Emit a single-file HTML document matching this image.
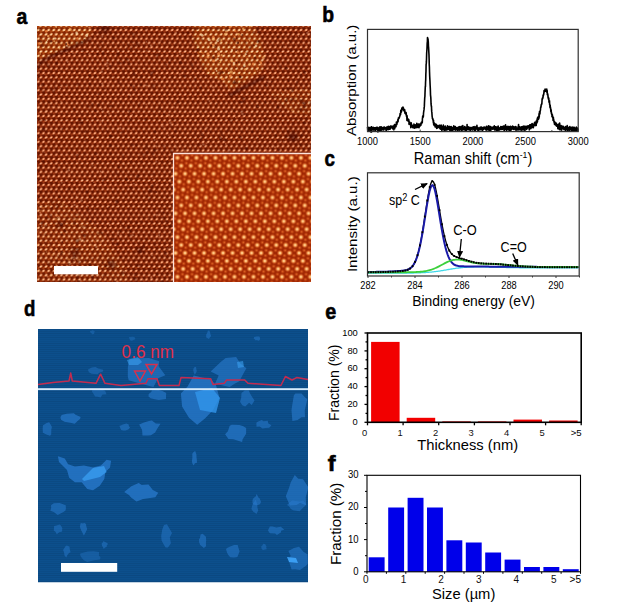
<!DOCTYPE html>
<html><head><meta charset="utf-8"><style>html,body{margin:0;padding:0;background:#fff;width:619px;height:612px;overflow:hidden}svg{display:block}text{font-family:"Liberation Sans", sans-serif}</style></head>
<body><svg width="619" height="612" viewBox="0 0 619 612" font-family='"Liberation Sans", sans-serif'><defs>
<filter id="blur4" x="-30%" y="-30%" width="160%" height="160%"><feGaussianBlur stdDeviation="4"/></filter>
<filter id="blur3" x="-30%" y="-30%" width="160%" height="160%"><feGaussianBlur stdDeviation="3"/></filter>
<filter id="blur2" x="-30%" y="-30%" width="160%" height="160%"><feGaussianBlur stdDeviation="2"/></filter>
<filter id="blur1" x="-30%" y="-30%" width="160%" height="160%"><feGaussianBlur stdDeviation="0.8"/></filter>
<filter id="blur05" x="-30%" y="-30%" width="160%" height="160%"><feGaussianBlur stdDeviation="0.5"/></filter>
<radialGradient id="glatA"><stop offset="0" stop-color="#ffe0c0"/><stop offset="0.4" stop-color="#f89868"/><stop offset="1" stop-color="#c85020" stop-opacity="0"/></radialGradient>
<pattern id="latA" patternUnits="userSpaceOnUse" x="120.7" y="124.66" width="5.15" height="8.6">
<rect width="5.15" height="8.6" fill="#641400"/>
<circle cx="2.575" cy="1.4333333333333333" r="1.3" fill="#a83810" opacity="0.8"/><circle cx="0" cy="5.733333333333333" r="1.3" fill="#a83810" opacity="0.8"/><circle cx="5.15" cy="5.733333333333333" r="1.3" fill="#a83810" opacity="0.8"/>
<ellipse cx="0.000" cy="0.000" rx="2.47" ry="1.61" transform="rotate(-35 0.000 0.000)" fill="url(#glatA)"/><ellipse cx="5.150" cy="0.000" rx="2.47" ry="1.61" transform="rotate(-35 5.150 0.000)" fill="url(#glatA)"/><ellipse cx="2.575" cy="4.300" rx="2.47" ry="1.61" transform="rotate(-35 2.575 4.300)" fill="url(#glatA)"/><ellipse cx="0.000" cy="8.600" rx="2.47" ry="1.61" transform="rotate(-35 0.000 8.600)" fill="url(#glatA)"/><ellipse cx="5.150" cy="8.600" rx="2.47" ry="1.61" transform="rotate(-35 5.150 8.600)" fill="url(#glatA)"/><ellipse cx="-2.575" cy="4.300" rx="2.47" ry="1.61" transform="rotate(-35 -2.575 4.300)" fill="url(#glatA)"/><ellipse cx="7.725" cy="4.300" rx="2.47" ry="1.61" transform="rotate(-35 7.725 4.300)" fill="url(#glatA)"/>
</pattern><radialGradient id="glatA2"><stop offset="0" stop-color="#fff8e0"/><stop offset="0.4" stop-color="#ffd090"/><stop offset="1" stop-color="#f08838" stop-opacity="0"/></radialGradient>
<pattern id="latA2" patternUnits="userSpaceOnUse" x="120.7" y="124.66" width="5.15" height="8.6">
<rect width="5.15" height="8.6" fill="#882804"/>
<circle cx="2.575" cy="1.4333333333333333" r="1.3" fill="#c05010" opacity="0.8"/><circle cx="0" cy="5.733333333333333" r="1.3" fill="#c05010" opacity="0.8"/><circle cx="5.15" cy="5.733333333333333" r="1.3" fill="#c05010" opacity="0.8"/>
<ellipse cx="0.000" cy="0.000" rx="2.47" ry="1.61" transform="rotate(-35 0.000 0.000)" fill="url(#glatA2)"/><ellipse cx="5.150" cy="0.000" rx="2.47" ry="1.61" transform="rotate(-35 5.150 0.000)" fill="url(#glatA2)"/><ellipse cx="2.575" cy="4.300" rx="2.47" ry="1.61" transform="rotate(-35 2.575 4.300)" fill="url(#glatA2)"/><ellipse cx="0.000" cy="8.600" rx="2.47" ry="1.61" transform="rotate(-35 0.000 8.600)" fill="url(#glatA2)"/><ellipse cx="5.150" cy="8.600" rx="2.47" ry="1.61" transform="rotate(-35 5.150 8.600)" fill="url(#glatA2)"/><ellipse cx="-2.575" cy="4.300" rx="2.47" ry="1.61" transform="rotate(-35 -2.575 4.300)" fill="url(#glatA2)"/><ellipse cx="7.725" cy="4.300" rx="2.47" ry="1.61" transform="rotate(-35 7.725 4.300)" fill="url(#glatA2)"/>
</pattern><radialGradient id="gB"><stop offset="0" stop-color="#ffe8b8"/><stop offset="0.35" stop-color="#ffb060"/><stop offset="1" stop-color="#e06020" stop-opacity="0"/></radialGradient>
<radialGradient id="gBm"><stop offset="0" stop-color="#e86a28"/><stop offset="1" stop-color="#c04814" stop-opacity="0"/></radialGradient>
<pattern id="latB" patternUnits="userSpaceOnUse" x="177.45" y="157.86" width="9.5" height="39.650">
<rect width="9.5" height="39.650" fill="#a02602"/><circle cx="-9.50" cy="0.00" r="3.3" fill="url(#gB)"/><circle cx="-5.06" cy="2.64" r="2.4" fill="url(#gBm)"/><circle cx="-0.64" cy="5.29" r="2.4" fill="url(#gBm)"/><circle cx="0.00" cy="0.00" r="3.3" fill="url(#gB)"/><circle cx="4.44" cy="2.64" r="2.4" fill="url(#gBm)"/><circle cx="8.86" cy="5.29" r="2.4" fill="url(#gBm)"/><circle cx="9.50" cy="0.00" r="3.3" fill="url(#gB)"/><circle cx="13.94" cy="2.64" r="2.4" fill="url(#gBm)"/><circle cx="18.36" cy="5.29" r="2.4" fill="url(#gBm)"/><circle cx="-5.70" cy="7.93" r="3.3" fill="url(#gB)"/><circle cx="-1.26" cy="10.57" r="2.4" fill="url(#gBm)"/><circle cx="3.16" cy="13.22" r="2.4" fill="url(#gBm)"/><circle cx="3.80" cy="7.93" r="3.3" fill="url(#gB)"/><circle cx="8.24" cy="10.57" r="2.4" fill="url(#gBm)"/><circle cx="12.66" cy="13.22" r="2.4" fill="url(#gBm)"/><circle cx="13.30" cy="7.93" r="3.3" fill="url(#gB)"/><circle cx="17.74" cy="10.57" r="2.4" fill="url(#gBm)"/><circle cx="22.16" cy="13.22" r="2.4" fill="url(#gBm)"/><circle cx="-1.90" cy="15.86" r="3.3" fill="url(#gB)"/><circle cx="2.54" cy="18.50" r="2.4" fill="url(#gBm)"/><circle cx="6.96" cy="21.15" r="2.4" fill="url(#gBm)"/><circle cx="7.60" cy="15.86" r="3.3" fill="url(#gB)"/><circle cx="12.04" cy="18.50" r="2.4" fill="url(#gBm)"/><circle cx="16.46" cy="21.15" r="2.4" fill="url(#gBm)"/><circle cx="17.10" cy="15.86" r="3.3" fill="url(#gB)"/><circle cx="21.54" cy="18.50" r="2.4" fill="url(#gBm)"/><circle cx="25.96" cy="21.15" r="2.4" fill="url(#gBm)"/><circle cx="-7.60" cy="23.79" r="3.3" fill="url(#gB)"/><circle cx="-3.16" cy="26.43" r="2.4" fill="url(#gBm)"/><circle cx="1.26" cy="29.08" r="2.4" fill="url(#gBm)"/><circle cx="1.90" cy="23.79" r="3.3" fill="url(#gB)"/><circle cx="6.34" cy="26.43" r="2.4" fill="url(#gBm)"/><circle cx="10.76" cy="29.08" r="2.4" fill="url(#gBm)"/><circle cx="11.40" cy="23.79" r="3.3" fill="url(#gB)"/><circle cx="15.84" cy="26.43" r="2.4" fill="url(#gBm)"/><circle cx="20.26" cy="29.08" r="2.4" fill="url(#gBm)"/><circle cx="-3.80" cy="31.72" r="3.3" fill="url(#gB)"/><circle cx="0.64" cy="34.36" r="2.4" fill="url(#gBm)"/><circle cx="5.06" cy="37.01" r="2.4" fill="url(#gBm)"/><circle cx="5.70" cy="31.72" r="3.3" fill="url(#gB)"/><circle cx="10.14" cy="34.36" r="2.4" fill="url(#gBm)"/><circle cx="14.56" cy="37.01" r="2.4" fill="url(#gBm)"/><circle cx="15.20" cy="31.72" r="3.3" fill="url(#gB)"/><circle cx="19.64" cy="34.36" r="2.4" fill="url(#gBm)"/><circle cx="24.06" cy="37.01" r="2.4" fill="url(#gBm)"/><circle cx="-9.50" cy="39.65" r="3.3" fill="url(#gB)"/><circle cx="0.00" cy="39.65" r="3.3" fill="url(#gB)"/><circle cx="9.50" cy="39.65" r="3.3" fill="url(#gB)"/>
</pattern>
<clipPath id="clipA"><rect x="37" y="26" width="274" height="256"/></clipPath>
<clipPath id="clipD"><rect x="38" y="329" width="270" height="253.5"/></clipPath>
<filter id="noise" x="0" y="0" width="100%" height="100%"><feTurbulence type="fractalNoise" baseFrequency="0.35" numOctaves="2" seed="3"/><feColorMatrix type="matrix" values="0 0 0 0 1  0 0 0 0 0.75  0 0 0 0 0.45  0 0 0 1.6 -0.9"/></filter>
<mask id="mA" maskUnits="userSpaceOnUse" x="37" y="26" width="274" height="256"><g filter="url(#blur1)" fill="#d0d0d0">
<polygon points="30.0,20.0 90.3,20.0 91.9,32.5 85.5,42.2 69.3,47.0 53.2,53.5 43.5,58.3 30.0,63.2"/>
<polygon points="192.7,20.0 249.8,20.0 260.4,38.7 264.7,57.7 262.5,70.4 245.6,81.0 230.8,89.5 222.3,81.0 207.5,74.7 201.2,64.1 196.9,51.4 192.7,38.7" />
<polygon points="268.0,92.0 320.0,88.0 320.0,118.0 290.0,112.0" opacity="0.5"/>
<polygon points="25.0,205.0 60.0,200.0 100.0,230.0 125.0,268.0 132.0,295.0 25.0,295.0" opacity="0.4"/>
</g></mask>
<marker id="arr" markerWidth="7" markerHeight="6" refX="6" refY="3" orient="auto" markerUnits="userSpaceOnUse"><path d="M0,0 L7,3 L0,6 z" fill="#000"/></marker></defs><rect width="619" height="612" fill="#fff"/><g clip-path="url(#clipA)"><rect x="37" y="26" width="274" height="256" fill="url(#latA)"/><rect x="37" y="26" width="274" height="256" fill="url(#latA2)" mask="url(#mA)"/><g mask="url(#mA)" opacity="0.7"><circle cx="125.7" cy="64.6" r="0.8" fill="#fff0c0"/><circle cx="183.8" cy="119.6" r="1.5" fill="#fff0c0"/><circle cx="95.8" cy="48.0" r="0.8" fill="#400800"/><circle cx="61.9" cy="134.7" r="0.8" fill="#ff9850"/><circle cx="98.2" cy="186.6" r="1.2" fill="#fff0c0"/><circle cx="145.7" cy="275.9" r="1.2" fill="#fff0c0"/><circle cx="73.5" cy="133.3" r="0.8" fill="#ff9850"/><circle cx="121.5" cy="234.9" r="0.8" fill="#ffc070"/><circle cx="193.5" cy="74.1" r="1.2" fill="#fff0c0"/><circle cx="54.2" cy="41.3" r="1.1" fill="#ffc070"/><circle cx="182.7" cy="225.0" r="1.2" fill="#400800"/><circle cx="161.2" cy="102.7" r="1.3" fill="#ffc070"/><circle cx="103.9" cy="173.1" r="1.1" fill="#ff9850"/><circle cx="131.1" cy="140.9" r="1.6" fill="#ff9850"/><circle cx="69.4" cy="133.0" r="0.8" fill="#501000"/><circle cx="171.0" cy="36.0" r="1.4" fill="#fff0c0"/><circle cx="194.0" cy="250.1" r="1.0" fill="#501000"/><circle cx="132.9" cy="153.1" r="0.8" fill="#400800"/><circle cx="62.6" cy="95.1" r="0.8" fill="#fff0c0"/><circle cx="229.2" cy="191.7" r="1.0" fill="#400800"/><circle cx="142.7" cy="197.2" r="1.5" fill="#fff0c0"/><circle cx="134.4" cy="182.4" r="0.8" fill="#400800"/><circle cx="247.5" cy="59.1" r="1.1" fill="#ffc070"/><circle cx="288.2" cy="153.1" r="1.1" fill="#ffc070"/><circle cx="187.5" cy="252.1" r="1.5" fill="#400800"/><circle cx="113.3" cy="132.3" r="1.3" fill="#501000"/><circle cx="141.2" cy="85.1" r="0.9" fill="#fff0c0"/><circle cx="100.6" cy="85.7" r="1.4" fill="#400800"/><circle cx="87.0" cy="98.2" r="1.1" fill="#ffc070"/><circle cx="138.2" cy="171.0" r="1.3" fill="#ffc070"/><circle cx="178.2" cy="184.1" r="1.1" fill="#fff0c0"/><circle cx="275.6" cy="269.7" r="1.1" fill="#ff9850"/><circle cx="146.3" cy="52.5" r="0.8" fill="#400800"/><circle cx="55.5" cy="79.4" r="0.8" fill="#ffc070"/><circle cx="201.6" cy="52.2" r="0.8" fill="#ff9850"/><circle cx="64.8" cy="119.1" r="0.8" fill="#fff0c0"/><circle cx="94.0" cy="122.3" r="1.6" fill="#501000"/><circle cx="202.0" cy="147.4" r="1.5" fill="#fff0c0"/><circle cx="309.1" cy="145.3" r="1.0" fill="#400800"/><circle cx="76.5" cy="217.9" r="1.1" fill="#501000"/><circle cx="226.6" cy="158.2" r="1.6" fill="#ffc070"/><circle cx="181.7" cy="63.5" r="1.5" fill="#ff9850"/><circle cx="244.7" cy="102.3" r="1.3" fill="#fff0c0"/><circle cx="108.5" cy="119.9" r="1.0" fill="#ffc070"/><circle cx="98.0" cy="164.6" r="1.0" fill="#ff9850"/><circle cx="98.1" cy="233.7" r="1.4" fill="#ffc070"/><circle cx="261.2" cy="215.4" r="0.9" fill="#ffc070"/><circle cx="172.0" cy="213.1" r="1.4" fill="#fff0c0"/><circle cx="166.4" cy="75.6" r="1.6" fill="#ff9850"/><circle cx="159.5" cy="265.9" r="1.6" fill="#501000"/><circle cx="136.9" cy="82.4" r="1.1" fill="#ffc070"/><circle cx="129.5" cy="149.6" r="1.5" fill="#ff9850"/><circle cx="168.4" cy="193.2" r="1.5" fill="#fff0c0"/><circle cx="69.9" cy="125.5" r="1.1" fill="#ffc070"/><circle cx="85.9" cy="228.0" r="0.8" fill="#501000"/><circle cx="296.2" cy="210.8" r="1.1" fill="#400800"/><circle cx="296.4" cy="211.5" r="1.6" fill="#ffc070"/><circle cx="44.5" cy="177.2" r="1.4" fill="#400800"/><circle cx="77.1" cy="237.6" r="1.3" fill="#400800"/><circle cx="133.0" cy="166.5" r="0.7" fill="#ffc070"/><circle cx="256.0" cy="212.0" r="1.2" fill="#fff0c0"/><circle cx="292.8" cy="137.1" r="1.4" fill="#ffc070"/><circle cx="94.8" cy="90.5" r="1.2" fill="#501000"/><circle cx="246.2" cy="109.5" r="1.1" fill="#ff9850"/><circle cx="72.9" cy="259.0" r="1.5" fill="#501000"/><circle cx="218.5" cy="234.7" r="1.1" fill="#ff9850"/><circle cx="288.5" cy="154.4" r="0.8" fill="#ff9850"/><circle cx="176.9" cy="249.4" r="1.2" fill="#ffc070"/><circle cx="249.6" cy="64.3" r="1.1" fill="#ffc070"/><circle cx="235.7" cy="168.5" r="1.3" fill="#501000"/><circle cx="182.4" cy="149.5" r="1.5" fill="#fff0c0"/><circle cx="52.6" cy="75.0" r="1.4" fill="#fff0c0"/><circle cx="176.1" cy="169.8" r="1.1" fill="#fff0c0"/><circle cx="204.8" cy="155.4" r="0.9" fill="#ff9850"/><circle cx="112.9" cy="156.1" r="1.2" fill="#400800"/><circle cx="104.9" cy="159.9" r="1.5" fill="#501000"/><circle cx="281.6" cy="77.9" r="0.8" fill="#400800"/><circle cx="70.3" cy="139.2" r="1.3" fill="#fff0c0"/><circle cx="154.4" cy="80.4" r="1.4" fill="#501000"/><circle cx="282.8" cy="65.5" r="0.8" fill="#501000"/><circle cx="278.9" cy="273.7" r="1.4" fill="#ffc070"/><circle cx="62.8" cy="252.5" r="1.6" fill="#ffc070"/><circle cx="265.1" cy="67.3" r="1.6" fill="#400800"/><circle cx="147.6" cy="133.8" r="1.0" fill="#501000"/><circle cx="234.9" cy="31.0" r="1.1" fill="#ff9850"/><circle cx="229.7" cy="124.4" r="1.3" fill="#ff9850"/><circle cx="177.4" cy="42.5" r="1.6" fill="#ffc070"/><circle cx="65.7" cy="94.0" r="1.5" fill="#fff0c0"/><circle cx="86.7" cy="219.5" r="1.5" fill="#400800"/><circle cx="222.2" cy="268.2" r="0.8" fill="#400800"/><circle cx="288.9" cy="172.1" r="0.8" fill="#501000"/><circle cx="52.8" cy="202.2" r="1.5" fill="#400800"/><circle cx="110.7" cy="30.3" r="1.4" fill="#fff0c0"/><circle cx="59.9" cy="245.2" r="0.9" fill="#fff0c0"/><circle cx="70.3" cy="29.0" r="1.1" fill="#ff9850"/><circle cx="287.8" cy="185.2" r="1.2" fill="#fff0c0"/><circle cx="102.3" cy="54.0" r="0.9" fill="#ffc070"/><circle cx="86.6" cy="264.7" r="1.2" fill="#501000"/><circle cx="93.4" cy="140.1" r="0.9" fill="#ffc070"/><circle cx="257.2" cy="280.6" r="0.7" fill="#fff0c0"/><circle cx="237.9" cy="167.1" r="1.2" fill="#ffc070"/><circle cx="104.3" cy="140.4" r="1.3" fill="#400800"/><circle cx="186.6" cy="253.5" r="1.0" fill="#ff9850"/><circle cx="96.0" cy="84.8" r="1.4" fill="#ffc070"/><circle cx="230.6" cy="188.8" r="1.6" fill="#400800"/><circle cx="306.0" cy="240.3" r="0.8" fill="#fff0c0"/><circle cx="240.0" cy="91.4" r="0.7" fill="#ffc070"/><circle cx="219.3" cy="123.5" r="1.3" fill="#ff9850"/><circle cx="114.2" cy="88.0" r="0.7" fill="#501000"/><circle cx="87.8" cy="94.9" r="0.9" fill="#fff0c0"/><circle cx="300.5" cy="275.0" r="1.0" fill="#ff9850"/><circle cx="46.4" cy="251.9" r="1.0" fill="#ffc070"/><circle cx="37.3" cy="123.7" r="1.0" fill="#400800"/><circle cx="216.7" cy="89.5" r="0.8" fill="#fff0c0"/><circle cx="260.9" cy="62.8" r="0.7" fill="#ff9850"/><circle cx="43.2" cy="103.9" r="0.8" fill="#ffc070"/><circle cx="299.4" cy="244.4" r="1.3" fill="#ffc070"/><circle cx="233.2" cy="251.0" r="1.4" fill="#400800"/><circle cx="234.5" cy="152.5" r="1.4" fill="#501000"/><circle cx="213.2" cy="37.2" r="1.3" fill="#ff9850"/><circle cx="238.1" cy="233.9" r="1.5" fill="#ffc070"/><circle cx="243.3" cy="171.5" r="1.4" fill="#fff0c0"/><circle cx="197.0" cy="254.6" r="0.8" fill="#ffc070"/><circle cx="48.5" cy="189.1" r="1.0" fill="#fff0c0"/><circle cx="160.7" cy="39.0" r="1.3" fill="#fff0c0"/><circle cx="223.5" cy="151.3" r="1.1" fill="#fff0c0"/><circle cx="56.2" cy="264.7" r="0.8" fill="#ff9850"/><circle cx="181.1" cy="216.9" r="0.9" fill="#400800"/><circle cx="57.4" cy="94.0" r="0.9" fill="#ffc070"/><circle cx="215.1" cy="143.8" r="0.8" fill="#400800"/><circle cx="286.5" cy="99.6" r="1.3" fill="#fff0c0"/><circle cx="213.1" cy="45.8" r="1.0" fill="#ffc070"/><circle cx="215.5" cy="203.4" r="1.2" fill="#ff9850"/><circle cx="40.4" cy="41.5" r="1.6" fill="#501000"/><circle cx="64.3" cy="81.7" r="1.0" fill="#400800"/><circle cx="178.5" cy="145.0" r="1.4" fill="#400800"/><circle cx="309.2" cy="166.6" r="1.6" fill="#501000"/><circle cx="293.5" cy="30.5" r="0.8" fill="#400800"/><circle cx="175.8" cy="280.6" r="1.0" fill="#501000"/><circle cx="288.1" cy="264.2" r="1.2" fill="#fff0c0"/><circle cx="75.8" cy="160.2" r="0.8" fill="#501000"/><circle cx="261.7" cy="156.2" r="1.3" fill="#fff0c0"/><circle cx="100.4" cy="255.8" r="1.1" fill="#400800"/><circle cx="80.6" cy="269.2" r="1.1" fill="#400800"/><circle cx="236.2" cy="132.5" r="1.0" fill="#400800"/><circle cx="267.2" cy="26.4" r="1.5" fill="#501000"/><circle cx="69.9" cy="263.2" r="1.5" fill="#fff0c0"/><circle cx="116.4" cy="121.3" r="1.1" fill="#400800"/><circle cx="275.4" cy="45.6" r="1.4" fill="#400800"/><circle cx="271.1" cy="97.8" r="1.5" fill="#fff0c0"/><circle cx="115.3" cy="265.5" r="1.6" fill="#ffc070"/><circle cx="156.5" cy="106.8" r="1.4" fill="#501000"/><circle cx="154.2" cy="33.4" r="1.5" fill="#400800"/><circle cx="294.8" cy="166.6" r="0.7" fill="#fff0c0"/><circle cx="237.7" cy="141.4" r="1.3" fill="#ffc070"/><circle cx="115.4" cy="38.5" r="0.8" fill="#ff9850"/><circle cx="166.4" cy="114.0" r="0.9" fill="#501000"/><circle cx="239.4" cy="193.1" r="1.3" fill="#400800"/><circle cx="119.4" cy="168.7" r="0.8" fill="#400800"/><circle cx="213.2" cy="45.2" r="1.5" fill="#ff9850"/><circle cx="173.2" cy="82.3" r="1.6" fill="#501000"/><circle cx="160.3" cy="61.7" r="0.9" fill="#ffc070"/><circle cx="84.9" cy="168.3" r="0.9" fill="#501000"/><circle cx="107.8" cy="171.8" r="1.4" fill="#fff0c0"/><circle cx="150.1" cy="132.0" r="0.9" fill="#ff9850"/><circle cx="111.0" cy="218.5" r="0.9" fill="#400800"/><circle cx="302.1" cy="58.2" r="1.2" fill="#ff9850"/><circle cx="253.5" cy="243.2" r="0.9" fill="#fff0c0"/><circle cx="105.1" cy="128.3" r="1.1" fill="#400800"/><circle cx="122.5" cy="234.5" r="0.8" fill="#fff0c0"/><circle cx="153.5" cy="221.5" r="1.6" fill="#400800"/><circle cx="171.2" cy="44.7" r="1.5" fill="#ff9850"/><circle cx="303.4" cy="89.6" r="0.9" fill="#fff0c0"/><circle cx="78.7" cy="274.8" r="1.5" fill="#fff0c0"/><circle cx="234.8" cy="191.7" r="0.8" fill="#400800"/><circle cx="249.9" cy="26.3" r="0.9" fill="#ffc070"/><circle cx="289.1" cy="191.2" r="1.6" fill="#501000"/><circle cx="208.7" cy="161.2" r="1.3" fill="#400800"/><circle cx="67.7" cy="44.0" r="1.5" fill="#ff9850"/><circle cx="89.5" cy="92.8" r="0.7" fill="#ff9850"/><circle cx="184.3" cy="281.1" r="1.6" fill="#501000"/><circle cx="213.6" cy="252.2" r="1.2" fill="#400800"/><circle cx="186.9" cy="33.5" r="1.3" fill="#400800"/><circle cx="121.2" cy="31.6" r="1.5" fill="#400800"/><circle cx="214.3" cy="46.8" r="1.3" fill="#ffc070"/><circle cx="290.5" cy="84.1" r="1.3" fill="#fff0c0"/><circle cx="233.8" cy="118.8" r="0.9" fill="#400800"/><circle cx="255.4" cy="215.2" r="0.8" fill="#ff9850"/><circle cx="172.8" cy="77.3" r="0.9" fill="#ffc070"/><circle cx="97.7" cy="220.7" r="0.8" fill="#501000"/><circle cx="207.9" cy="182.2" r="1.1" fill="#ffc070"/><circle cx="286.4" cy="40.4" r="0.8" fill="#ff9850"/><circle cx="144.8" cy="80.5" r="0.8" fill="#ff9850"/><circle cx="51.2" cy="41.4" r="1.1" fill="#400800"/><circle cx="232.1" cy="106.4" r="1.6" fill="#fff0c0"/><circle cx="292.3" cy="110.3" r="1.3" fill="#ffc070"/><circle cx="180.8" cy="145.7" r="1.3" fill="#501000"/><circle cx="140.7" cy="121.7" r="1.1" fill="#501000"/><circle cx="66.9" cy="46.0" r="1.0" fill="#fff0c0"/><circle cx="298.8" cy="57.7" r="1.0" fill="#ffc070"/><circle cx="247.6" cy="105.0" r="0.8" fill="#400800"/><circle cx="230.2" cy="76.1" r="1.5" fill="#ff9850"/><circle cx="89.9" cy="119.2" r="0.7" fill="#400800"/><circle cx="149.6" cy="233.8" r="0.7" fill="#400800"/><circle cx="46.6" cy="42.0" r="0.9" fill="#fff0c0"/><circle cx="241.8" cy="256.0" r="1.0" fill="#501000"/><circle cx="128.8" cy="270.2" r="0.9" fill="#fff0c0"/><circle cx="233.4" cy="107.0" r="1.0" fill="#501000"/><circle cx="234.7" cy="178.5" r="0.7" fill="#fff0c0"/><circle cx="101.1" cy="147.6" r="1.6" fill="#400800"/><circle cx="142.9" cy="90.3" r="1.4" fill="#400800"/><circle cx="73.4" cy="153.1" r="1.4" fill="#fff0c0"/><circle cx="239.3" cy="236.6" r="1.2" fill="#ffc070"/><circle cx="126.8" cy="107.8" r="1.4" fill="#501000"/><circle cx="200.2" cy="157.0" r="1.4" fill="#400800"/><circle cx="104.8" cy="42.6" r="1.1" fill="#fff0c0"/><circle cx="186.2" cy="67.1" r="1.5" fill="#400800"/><circle cx="307.7" cy="93.8" r="0.9" fill="#fff0c0"/><circle cx="152.4" cy="279.0" r="0.9" fill="#400800"/><circle cx="73.4" cy="144.0" r="1.4" fill="#ffc070"/><circle cx="269.1" cy="196.1" r="1.4" fill="#fff0c0"/><circle cx="117.5" cy="97.5" r="1.0" fill="#501000"/><circle cx="239.2" cy="77.0" r="0.9" fill="#ffc070"/><circle cx="101.5" cy="98.0" r="0.9" fill="#ff9850"/><circle cx="54.8" cy="90.4" r="1.2" fill="#ffc070"/><circle cx="100.4" cy="233.0" r="1.6" fill="#400800"/><circle cx="65.0" cy="147.5" r="1.5" fill="#ffc070"/><circle cx="287.5" cy="36.3" r="0.9" fill="#501000"/><circle cx="50.8" cy="179.7" r="0.9" fill="#ff9850"/><circle cx="57.6" cy="157.2" r="1.1" fill="#ffc070"/><circle cx="108.2" cy="225.1" r="0.8" fill="#fff0c0"/><circle cx="200.3" cy="184.7" r="0.7" fill="#ffc070"/><circle cx="130.2" cy="37.3" r="0.7" fill="#501000"/><circle cx="237.6" cy="260.0" r="1.4" fill="#fff0c0"/><circle cx="149.1" cy="121.2" r="1.0" fill="#ff9850"/><circle cx="92.7" cy="229.6" r="1.1" fill="#ff9850"/><circle cx="148.8" cy="229.7" r="0.8" fill="#ff9850"/><circle cx="183.3" cy="193.2" r="1.3" fill="#400800"/><circle cx="149.3" cy="98.5" r="1.1" fill="#501000"/><circle cx="51.1" cy="216.8" r="1.1" fill="#501000"/><circle cx="42.0" cy="222.3" r="1.3" fill="#501000"/><circle cx="144.1" cy="129.7" r="1.1" fill="#fff0c0"/><circle cx="79.9" cy="55.1" r="1.1" fill="#fff0c0"/><circle cx="278.9" cy="144.0" r="0.8" fill="#ffc070"/><circle cx="51.2" cy="62.5" r="0.8" fill="#400800"/><circle cx="207.5" cy="120.9" r="0.9" fill="#ff9850"/><circle cx="132.3" cy="67.4" r="1.5" fill="#ffc070"/><circle cx="66.8" cy="151.6" r="1.0" fill="#ffc070"/><circle cx="266.4" cy="37.1" r="1.0" fill="#400800"/><circle cx="203.5" cy="188.9" r="1.5" fill="#fff0c0"/><circle cx="207.0" cy="237.1" r="1.3" fill="#ffc070"/><circle cx="271.7" cy="185.0" r="1.5" fill="#ff9850"/><circle cx="264.2" cy="72.8" r="0.7" fill="#ffc070"/><circle cx="294.2" cy="66.1" r="0.8" fill="#501000"/><circle cx="104.7" cy="211.6" r="0.7" fill="#ffc070"/><circle cx="191.1" cy="219.9" r="1.3" fill="#fff0c0"/><circle cx="125.8" cy="125.8" r="1.2" fill="#400800"/><circle cx="208.8" cy="104.4" r="1.0" fill="#400800"/><circle cx="105.3" cy="125.6" r="1.1" fill="#501000"/><circle cx="157.1" cy="32.0" r="1.6" fill="#ff9850"/><circle cx="164.5" cy="140.4" r="1.4" fill="#ff9850"/><circle cx="162.6" cy="72.0" r="1.1" fill="#400800"/><circle cx="55.4" cy="117.8" r="0.8" fill="#501000"/><circle cx="158.1" cy="156.6" r="0.7" fill="#fff0c0"/><circle cx="72.7" cy="262.1" r="1.4" fill="#501000"/><circle cx="177.1" cy="39.9" r="1.5" fill="#ff9850"/><circle cx="215.9" cy="226.8" r="1.5" fill="#fff0c0"/><circle cx="309.9" cy="213.4" r="0.9" fill="#fff0c0"/><circle cx="306.0" cy="151.9" r="1.3" fill="#ffc070"/><circle cx="234.6" cy="82.6" r="1.2" fill="#501000"/><circle cx="106.1" cy="108.9" r="0.9" fill="#ff9850"/><circle cx="260.5" cy="62.8" r="1.6" fill="#ff9850"/><circle cx="168.5" cy="177.5" r="1.2" fill="#ff9850"/><circle cx="124.4" cy="35.4" r="1.1" fill="#ffc070"/><circle cx="211.4" cy="97.2" r="1.5" fill="#501000"/><circle cx="83.2" cy="226.9" r="1.4" fill="#fff0c0"/><circle cx="50.3" cy="245.7" r="1.2" fill="#400800"/><circle cx="195.9" cy="251.9" r="0.9" fill="#fff0c0"/><circle cx="183.8" cy="245.3" r="0.9" fill="#501000"/><circle cx="308.4" cy="173.8" r="1.0" fill="#501000"/><circle cx="59.3" cy="84.9" r="1.4" fill="#ff9850"/><circle cx="50.2" cy="235.9" r="1.0" fill="#501000"/><circle cx="301.7" cy="248.8" r="1.4" fill="#501000"/><circle cx="241.7" cy="82.7" r="1.3" fill="#501000"/><circle cx="155.4" cy="157.2" r="0.8" fill="#fff0c0"/><circle cx="99.3" cy="193.2" r="0.7" fill="#fff0c0"/><circle cx="192.4" cy="103.8" r="1.0" fill="#ff9850"/><circle cx="98.4" cy="175.4" r="0.8" fill="#ff9850"/><circle cx="137.3" cy="238.1" r="0.8" fill="#ffc070"/><circle cx="293.6" cy="88.4" r="1.1" fill="#ffc070"/><circle cx="54.4" cy="63.0" r="1.1" fill="#501000"/><circle cx="109.4" cy="28.9" r="1.5" fill="#ff9850"/><circle cx="200.0" cy="174.1" r="1.5" fill="#ff9850"/><circle cx="238.0" cy="89.6" r="0.7" fill="#fff0c0"/><circle cx="182.6" cy="129.9" r="0.8" fill="#ffc070"/><circle cx="286.8" cy="52.9" r="1.2" fill="#ff9850"/><circle cx="294.8" cy="62.4" r="1.2" fill="#ffc070"/><circle cx="213.1" cy="191.8" r="1.4" fill="#400800"/><circle cx="84.9" cy="105.2" r="1.3" fill="#501000"/><circle cx="309.4" cy="211.4" r="1.3" fill="#400800"/><circle cx="38.7" cy="242.2" r="0.8" fill="#400800"/><circle cx="216.6" cy="70.9" r="0.9" fill="#fff0c0"/><circle cx="213.5" cy="57.6" r="1.3" fill="#501000"/><circle cx="109.9" cy="167.8" r="1.3" fill="#400800"/><circle cx="288.3" cy="274.8" r="1.3" fill="#501000"/><circle cx="301.4" cy="81.6" r="0.7" fill="#ff9850"/><circle cx="108.3" cy="86.4" r="1.6" fill="#ffc070"/><circle cx="241.4" cy="109.7" r="1.0" fill="#400800"/><circle cx="102.5" cy="258.3" r="1.1" fill="#ff9850"/><circle cx="267.1" cy="204.6" r="1.1" fill="#fff0c0"/><circle cx="235.5" cy="172.0" r="1.4" fill="#501000"/><circle cx="144.3" cy="175.8" r="1.5" fill="#ff9850"/><circle cx="76.6" cy="32.9" r="1.3" fill="#fff0c0"/><circle cx="81.3" cy="276.2" r="0.7" fill="#fff0c0"/><circle cx="74.9" cy="190.7" r="1.3" fill="#fff0c0"/><circle cx="238.9" cy="42.8" r="1.4" fill="#ff9850"/><circle cx="91.6" cy="270.4" r="1.5" fill="#ff9850"/><circle cx="55.1" cy="248.2" r="0.8" fill="#400800"/><circle cx="93.4" cy="54.7" r="1.6" fill="#fff0c0"/><circle cx="286.6" cy="219.0" r="1.4" fill="#fff0c0"/><circle cx="210.0" cy="99.6" r="0.8" fill="#fff0c0"/><circle cx="254.0" cy="191.5" r="1.0" fill="#501000"/><circle cx="153.1" cy="31.4" r="1.5" fill="#501000"/><circle cx="50.3" cy="220.5" r="1.4" fill="#501000"/><circle cx="202.0" cy="147.9" r="1.3" fill="#501000"/><circle cx="45.5" cy="131.7" r="1.2" fill="#400800"/><circle cx="63.9" cy="146.0" r="1.2" fill="#fff0c0"/><circle cx="96.3" cy="246.7" r="1.2" fill="#fff0c0"/><circle cx="115.7" cy="137.6" r="0.9" fill="#ff9850"/><circle cx="245.8" cy="276.3" r="1.0" fill="#fff0c0"/><circle cx="63.2" cy="204.0" r="1.6" fill="#ffc070"/><circle cx="199.4" cy="271.0" r="0.9" fill="#ff9850"/><circle cx="295.6" cy="98.6" r="1.5" fill="#ffc070"/><circle cx="100.4" cy="68.4" r="1.1" fill="#fff0c0"/><circle cx="308.6" cy="169.7" r="1.3" fill="#fff0c0"/><circle cx="134.4" cy="128.7" r="1.5" fill="#400800"/><circle cx="241.2" cy="134.1" r="1.0" fill="#fff0c0"/><circle cx="120.1" cy="135.6" r="1.2" fill="#ff9850"/><circle cx="140.9" cy="252.3" r="1.5" fill="#ffc070"/><circle cx="71.8" cy="178.1" r="1.3" fill="#ff9850"/><circle cx="132.5" cy="109.6" r="1.5" fill="#ffc070"/><circle cx="160.4" cy="167.8" r="0.9" fill="#501000"/><circle cx="157.2" cy="224.0" r="0.9" fill="#ff9850"/><circle cx="128.5" cy="190.5" r="1.2" fill="#ffc070"/><circle cx="110.3" cy="219.2" r="0.8" fill="#ff9850"/><circle cx="79.7" cy="89.4" r="1.2" fill="#501000"/><circle cx="132.5" cy="86.5" r="0.9" fill="#ffc070"/><circle cx="298.7" cy="280.7" r="1.6" fill="#ffc070"/><circle cx="64.8" cy="124.4" r="1.4" fill="#ffc070"/><circle cx="237.9" cy="137.3" r="0.8" fill="#ffc070"/><circle cx="286.7" cy="97.9" r="1.1" fill="#400800"/><circle cx="40.5" cy="244.7" r="1.3" fill="#400800"/><circle cx="174.1" cy="187.9" r="0.7" fill="#400800"/><circle cx="107.5" cy="215.0" r="1.4" fill="#fff0c0"/><circle cx="285.8" cy="136.1" r="1.2" fill="#ff9850"/><circle cx="214.3" cy="242.6" r="1.5" fill="#ff9850"/><circle cx="223.2" cy="190.2" r="1.1" fill="#400800"/><circle cx="108.2" cy="205.4" r="0.9" fill="#400800"/><circle cx="146.6" cy="208.4" r="0.9" fill="#ffc070"/><circle cx="153.1" cy="142.5" r="1.5" fill="#ff9850"/><circle cx="179.0" cy="195.2" r="1.5" fill="#ffc070"/><circle cx="126.9" cy="28.7" r="1.5" fill="#400800"/><circle cx="66.1" cy="90.3" r="0.8" fill="#ffc070"/><circle cx="251.2" cy="266.8" r="1.0" fill="#ff9850"/><circle cx="269.1" cy="142.9" r="1.3" fill="#ffc070"/><circle cx="177.3" cy="189.7" r="1.2" fill="#501000"/><circle cx="149.4" cy="268.7" r="1.6" fill="#ffc070"/><circle cx="87.4" cy="157.5" r="1.4" fill="#fff0c0"/><circle cx="205.2" cy="189.2" r="0.9" fill="#501000"/><circle cx="146.5" cy="29.4" r="1.5" fill="#400800"/><circle cx="209.2" cy="198.8" r="0.9" fill="#ff9850"/><circle cx="98.5" cy="215.8" r="1.6" fill="#ff9850"/><circle cx="309.4" cy="272.0" r="0.9" fill="#400800"/><circle cx="72.4" cy="224.8" r="1.1" fill="#ffc070"/><circle cx="191.0" cy="83.9" r="1.0" fill="#ffc070"/><circle cx="212.0" cy="235.6" r="1.1" fill="#400800"/><circle cx="117.6" cy="166.4" r="1.4" fill="#ffc070"/><circle cx="165.6" cy="226.6" r="0.9" fill="#ffc070"/><circle cx="140.1" cy="90.9" r="1.3" fill="#400800"/><circle cx="168.9" cy="232.2" r="1.0" fill="#501000"/><circle cx="216.3" cy="108.0" r="1.1" fill="#400800"/><circle cx="211.6" cy="194.8" r="0.8" fill="#501000"/><circle cx="120.1" cy="124.6" r="1.4" fill="#fff0c0"/><circle cx="285.2" cy="226.7" r="1.2" fill="#ffc070"/><circle cx="131.6" cy="175.1" r="0.9" fill="#fff0c0"/><circle cx="56.7" cy="101.0" r="0.8" fill="#ff9850"/><circle cx="76.1" cy="85.8" r="1.0" fill="#400800"/><circle cx="78.8" cy="257.4" r="0.9" fill="#ff9850"/><circle cx="281.2" cy="181.7" r="1.3" fill="#fff0c0"/><circle cx="281.9" cy="227.7" r="0.9" fill="#501000"/><circle cx="226.8" cy="161.9" r="1.3" fill="#400800"/><circle cx="69.1" cy="56.3" r="0.9" fill="#400800"/><circle cx="75.2" cy="152.2" r="1.1" fill="#fff0c0"/><circle cx="285.1" cy="205.3" r="1.1" fill="#ffc070"/><circle cx="184.8" cy="246.9" r="0.8" fill="#fff0c0"/><circle cx="124.9" cy="204.1" r="1.3" fill="#400800"/><circle cx="267.3" cy="122.0" r="1.6" fill="#400800"/><circle cx="222.2" cy="72.2" r="1.3" fill="#501000"/><circle cx="44.8" cy="182.1" r="1.4" fill="#501000"/><circle cx="62.7" cy="149.9" r="0.7" fill="#ffc070"/><circle cx="233.8" cy="186.1" r="0.8" fill="#501000"/><circle cx="217.6" cy="113.4" r="1.2" fill="#ff9850"/><circle cx="287.0" cy="98.7" r="1.1" fill="#501000"/><circle cx="188.8" cy="237.6" r="1.0" fill="#501000"/><circle cx="172.3" cy="111.4" r="1.5" fill="#501000"/><circle cx="131.5" cy="78.1" r="1.4" fill="#400800"/><circle cx="127.7" cy="107.2" r="0.8" fill="#501000"/><circle cx="303.5" cy="48.4" r="1.1" fill="#fff0c0"/><circle cx="188.9" cy="129.9" r="0.7" fill="#ff9850"/><circle cx="119.3" cy="27.6" r="1.4" fill="#ffc070"/><circle cx="167.2" cy="222.1" r="1.4" fill="#fff0c0"/><circle cx="286.3" cy="182.6" r="0.8" fill="#ff9850"/><circle cx="221.6" cy="202.4" r="0.9" fill="#fff0c0"/><circle cx="219.8" cy="143.2" r="0.8" fill="#ffc070"/><circle cx="86.7" cy="35.5" r="1.5" fill="#fff0c0"/><circle cx="216.7" cy="120.4" r="1.4" fill="#ffc070"/><circle cx="191.0" cy="92.0" r="0.9" fill="#501000"/><circle cx="46.4" cy="31.2" r="1.3" fill="#ff9850"/><circle cx="292.9" cy="40.0" r="1.2" fill="#ff9850"/><circle cx="263.0" cy="224.1" r="1.2" fill="#400800"/><circle cx="288.7" cy="140.3" r="1.3" fill="#fff0c0"/><circle cx="199.7" cy="280.2" r="1.1" fill="#ffc070"/><circle cx="150.0" cy="52.1" r="0.9" fill="#400800"/><circle cx="78.6" cy="30.0" r="0.7" fill="#fff0c0"/><circle cx="220.4" cy="278.6" r="0.9" fill="#fff0c0"/><circle cx="70.2" cy="146.9" r="1.3" fill="#501000"/><circle cx="103.4" cy="213.8" r="1.5" fill="#ffc070"/><circle cx="137.2" cy="217.3" r="1.4" fill="#ffc070"/><circle cx="60.1" cy="186.9" r="1.1" fill="#400800"/><circle cx="292.5" cy="91.0" r="1.3" fill="#fff0c0"/><circle cx="40.1" cy="29.8" r="0.8" fill="#ff9850"/><circle cx="122.2" cy="212.7" r="1.6" fill="#ffc070"/><circle cx="265.8" cy="181.9" r="1.0" fill="#501000"/><circle cx="194.5" cy="138.3" r="0.8" fill="#ffc070"/><circle cx="255.5" cy="119.0" r="1.3" fill="#ffc070"/><circle cx="151.5" cy="124.7" r="1.6" fill="#400800"/><circle cx="252.0" cy="171.1" r="1.0" fill="#501000"/><circle cx="207.4" cy="192.6" r="1.0" fill="#ff9850"/><circle cx="203.0" cy="276.2" r="1.2" fill="#ffc070"/><circle cx="121.6" cy="135.7" r="1.0" fill="#ffc070"/><circle cx="224.6" cy="180.1" r="1.4" fill="#ffc070"/><circle cx="114.6" cy="26.4" r="0.9" fill="#501000"/><circle cx="80.1" cy="261.7" r="1.0" fill="#fff0c0"/><circle cx="75.5" cy="254.0" r="0.8" fill="#ff9850"/><circle cx="304.3" cy="230.1" r="1.3" fill="#ff9850"/><circle cx="287.4" cy="114.8" r="1.2" fill="#fff0c0"/><circle cx="169.8" cy="123.7" r="1.0" fill="#ffc070"/><circle cx="52.8" cy="127.2" r="1.5" fill="#ffc070"/><circle cx="197.7" cy="28.4" r="1.1" fill="#400800"/><circle cx="61.0" cy="232.5" r="0.9" fill="#fff0c0"/><circle cx="195.8" cy="255.6" r="1.0" fill="#ff9850"/><circle cx="175.7" cy="77.7" r="0.9" fill="#ffc070"/><circle cx="86.5" cy="205.5" r="1.2" fill="#501000"/><circle cx="135.3" cy="225.6" r="0.9" fill="#ffc070"/><circle cx="289.8" cy="152.3" r="1.0" fill="#fff0c0"/><circle cx="164.0" cy="46.9" r="1.2" fill="#501000"/><circle cx="131.5" cy="159.0" r="0.8" fill="#fff0c0"/><circle cx="93.1" cy="248.9" r="1.1" fill="#ff9850"/><circle cx="192.4" cy="93.0" r="1.1" fill="#501000"/><circle cx="296.3" cy="222.4" r="1.6" fill="#ff9850"/><circle cx="106.6" cy="35.7" r="1.6" fill="#ffc070"/><circle cx="140.6" cy="33.0" r="1.2" fill="#fff0c0"/><circle cx="275.6" cy="143.3" r="1.5" fill="#fff0c0"/><circle cx="212.3" cy="262.1" r="0.9" fill="#fff0c0"/><circle cx="191.7" cy="190.0" r="1.1" fill="#ff9850"/><circle cx="159.8" cy="66.9" r="1.6" fill="#ffc070"/><circle cx="97.8" cy="35.9" r="1.5" fill="#501000"/><circle cx="53.2" cy="167.5" r="1.5" fill="#fff0c0"/><circle cx="49.9" cy="227.3" r="0.8" fill="#400800"/><circle cx="76.7" cy="219.3" r="1.3" fill="#ffc070"/><circle cx="118.9" cy="177.4" r="1.1" fill="#fff0c0"/><circle cx="138.8" cy="125.9" r="1.1" fill="#501000"/><circle cx="83.2" cy="87.0" r="1.5" fill="#ffc070"/><circle cx="281.5" cy="145.8" r="1.4" fill="#ffc070"/><circle cx="80.0" cy="239.2" r="1.5" fill="#fff0c0"/><circle cx="274.5" cy="253.5" r="1.4" fill="#ffc070"/><circle cx="299.5" cy="263.0" r="1.5" fill="#400800"/><circle cx="209.2" cy="141.8" r="1.0" fill="#501000"/><circle cx="101.1" cy="55.6" r="0.8" fill="#501000"/><circle cx="97.7" cy="40.5" r="1.2" fill="#400800"/><circle cx="76.7" cy="248.9" r="1.1" fill="#501000"/><circle cx="104.6" cy="32.5" r="1.5" fill="#ff9850"/><circle cx="128.7" cy="69.0" r="0.8" fill="#400800"/><circle cx="162.0" cy="149.5" r="1.6" fill="#ffc070"/><circle cx="52.6" cy="255.1" r="1.2" fill="#ffc070"/><circle cx="265.9" cy="56.5" r="1.6" fill="#ffc070"/><circle cx="155.4" cy="92.9" r="1.5" fill="#ffc070"/><circle cx="63.7" cy="100.1" r="0.8" fill="#ffc070"/><circle cx="236.1" cy="101.1" r="1.1" fill="#fff0c0"/><circle cx="176.1" cy="156.8" r="0.7" fill="#400800"/><circle cx="265.0" cy="160.8" r="1.0" fill="#ffc070"/><circle cx="48.1" cy="130.7" r="1.2" fill="#501000"/><circle cx="74.8" cy="72.1" r="1.3" fill="#ffc070"/><circle cx="90.9" cy="46.3" r="1.5" fill="#fff0c0"/><circle cx="237.3" cy="220.9" r="0.9" fill="#ffc070"/><circle cx="204.8" cy="207.2" r="1.2" fill="#ffc070"/><circle cx="92.4" cy="42.8" r="1.1" fill="#ff9850"/><circle cx="234.7" cy="40.2" r="1.0" fill="#501000"/><circle cx="267.7" cy="247.3" r="0.8" fill="#400800"/><circle cx="149.2" cy="221.3" r="1.5" fill="#ffc070"/><circle cx="110.0" cy="73.6" r="0.7" fill="#501000"/><circle cx="229.4" cy="173.2" r="1.0" fill="#fff0c0"/><circle cx="292.4" cy="274.0" r="0.8" fill="#fff0c0"/><circle cx="232.8" cy="235.0" r="1.4" fill="#501000"/><circle cx="274.9" cy="173.5" r="1.0" fill="#fff0c0"/><circle cx="66.5" cy="213.1" r="1.2" fill="#400800"/><circle cx="182.4" cy="163.6" r="0.9" fill="#fff0c0"/><circle cx="61.3" cy="184.5" r="0.8" fill="#ffc070"/><circle cx="105.6" cy="235.2" r="0.7" fill="#fff0c0"/><circle cx="290.8" cy="215.1" r="0.7" fill="#501000"/><circle cx="201.2" cy="173.6" r="0.9" fill="#ff9850"/><circle cx="158.7" cy="115.8" r="1.3" fill="#fff0c0"/><circle cx="49.4" cy="57.5" r="1.2" fill="#400800"/><circle cx="245.7" cy="54.2" r="1.1" fill="#fff0c0"/><circle cx="74.5" cy="177.5" r="0.8" fill="#ffc070"/><circle cx="194.0" cy="217.1" r="1.6" fill="#ffc070"/><circle cx="42.1" cy="188.6" r="1.2" fill="#400800"/><circle cx="202.2" cy="35.3" r="1.4" fill="#fff0c0"/><circle cx="129.8" cy="87.5" r="1.3" fill="#501000"/><circle cx="268.0" cy="170.5" r="1.4" fill="#501000"/><circle cx="269.3" cy="39.7" r="0.8" fill="#ff9850"/><circle cx="223.4" cy="116.5" r="1.3" fill="#400800"/><circle cx="40.2" cy="53.9" r="0.8" fill="#ffc070"/><circle cx="155.7" cy="155.2" r="0.9" fill="#fff0c0"/><circle cx="152.3" cy="127.6" r="1.3" fill="#400800"/><circle cx="258.7" cy="252.4" r="0.7" fill="#fff0c0"/><circle cx="212.8" cy="94.0" r="0.9" fill="#ff9850"/><circle cx="185.6" cy="262.6" r="0.8" fill="#ff9850"/><circle cx="70.3" cy="29.5" r="1.6" fill="#ffc070"/><circle cx="115.8" cy="104.2" r="0.8" fill="#ffc070"/><circle cx="199.8" cy="270.8" r="1.5" fill="#ff9850"/><circle cx="60.1" cy="177.1" r="1.1" fill="#ffc070"/><circle cx="177.2" cy="252.6" r="1.2" fill="#400800"/><circle cx="112.1" cy="214.4" r="1.0" fill="#ff9850"/><circle cx="161.4" cy="203.9" r="1.3" fill="#ffc070"/><circle cx="92.1" cy="207.9" r="1.5" fill="#400800"/><circle cx="120.2" cy="148.3" r="0.7" fill="#501000"/><circle cx="128.4" cy="74.3" r="1.0" fill="#ff9850"/><circle cx="197.5" cy="29.0" r="0.8" fill="#501000"/><circle cx="297.9" cy="108.9" r="1.1" fill="#501000"/><circle cx="115.0" cy="278.8" r="0.8" fill="#501000"/><circle cx="43.0" cy="167.1" r="1.5" fill="#ff9850"/><circle cx="157.6" cy="41.9" r="1.5" fill="#400800"/><circle cx="134.0" cy="221.3" r="0.9" fill="#ff9850"/><circle cx="299.8" cy="215.1" r="1.1" fill="#ffc070"/><circle cx="220.1" cy="61.9" r="1.3" fill="#ffc070"/><circle cx="269.9" cy="236.2" r="0.8" fill="#ff9850"/><circle cx="271.6" cy="262.0" r="0.9" fill="#400800"/><circle cx="209.8" cy="187.8" r="1.1" fill="#ffc070"/><circle cx="65.3" cy="131.1" r="1.2" fill="#ff9850"/><circle cx="173.4" cy="272.5" r="0.8" fill="#ff9850"/><circle cx="269.9" cy="97.5" r="1.2" fill="#ff9850"/><circle cx="141.0" cy="141.8" r="1.0" fill="#400800"/><circle cx="133.6" cy="116.4" r="1.2" fill="#ff9850"/><circle cx="142.4" cy="108.4" r="1.0" fill="#400800"/><circle cx="119.2" cy="163.4" r="1.1" fill="#ffc070"/><circle cx="140.3" cy="85.4" r="1.0" fill="#501000"/><circle cx="268.1" cy="240.6" r="0.9" fill="#501000"/><circle cx="153.8" cy="259.1" r="0.7" fill="#fff0c0"/><circle cx="107.3" cy="255.3" r="1.5" fill="#501000"/><circle cx="248.9" cy="163.9" r="1.2" fill="#400800"/><circle cx="178.7" cy="201.4" r="1.1" fill="#400800"/><circle cx="48.2" cy="199.1" r="1.6" fill="#400800"/><circle cx="222.4" cy="160.5" r="1.1" fill="#fff0c0"/><circle cx="174.2" cy="192.0" r="0.8" fill="#ff9850"/><circle cx="88.6" cy="133.8" r="1.1" fill="#400800"/><circle cx="208.1" cy="281.0" r="1.3" fill="#501000"/><circle cx="241.5" cy="49.6" r="1.0" fill="#501000"/><circle cx="305.1" cy="237.5" r="0.9" fill="#ff9850"/><circle cx="216.7" cy="101.5" r="1.4" fill="#501000"/><circle cx="308.3" cy="253.4" r="1.3" fill="#400800"/><circle cx="180.6" cy="234.9" r="1.2" fill="#ffc070"/><circle cx="88.5" cy="72.7" r="1.2" fill="#ff9850"/><circle cx="133.8" cy="280.4" r="1.3" fill="#fff0c0"/><circle cx="39.9" cy="26.7" r="0.7" fill="#ff9850"/><circle cx="120.4" cy="241.6" r="0.7" fill="#ff9850"/><circle cx="45.1" cy="70.8" r="1.2" fill="#ff9850"/><circle cx="275.7" cy="255.3" r="1.6" fill="#ff9850"/><circle cx="194.4" cy="131.2" r="0.8" fill="#fff0c0"/><circle cx="179.0" cy="156.4" r="0.8" fill="#fff0c0"/><circle cx="83.7" cy="159.8" r="1.3" fill="#400800"/><circle cx="258.0" cy="41.9" r="1.3" fill="#fff0c0"/><circle cx="195.6" cy="62.8" r="1.0" fill="#ffc070"/><circle cx="83.4" cy="94.3" r="1.5" fill="#fff0c0"/><circle cx="296.7" cy="42.1" r="1.1" fill="#ffc070"/><circle cx="142.7" cy="40.0" r="1.2" fill="#400800"/><circle cx="299.9" cy="138.5" r="0.9" fill="#ff9850"/><circle cx="98.1" cy="66.8" r="1.5" fill="#ff9850"/><circle cx="123.3" cy="256.1" r="1.0" fill="#400800"/><circle cx="202.1" cy="271.8" r="1.6" fill="#400800"/><circle cx="55.5" cy="199.4" r="0.9" fill="#ff9850"/><circle cx="121.7" cy="250.1" r="0.7" fill="#400800"/><circle cx="274.9" cy="48.4" r="1.0" fill="#ffc070"/><circle cx="88.1" cy="274.7" r="1.1" fill="#501000"/><circle cx="136.4" cy="111.8" r="1.0" fill="#400800"/><circle cx="215.5" cy="272.1" r="1.4" fill="#400800"/><circle cx="133.2" cy="88.7" r="1.1" fill="#ffc070"/><circle cx="131.4" cy="137.5" r="1.3" fill="#501000"/><circle cx="130.5" cy="65.9" r="0.8" fill="#ffc070"/><circle cx="110.9" cy="239.8" r="1.2" fill="#ffc070"/><circle cx="165.0" cy="229.5" r="0.8" fill="#ffc070"/><circle cx="133.7" cy="211.0" r="1.3" fill="#400800"/><circle cx="196.1" cy="102.1" r="1.2" fill="#400800"/><circle cx="99.3" cy="141.9" r="1.5" fill="#ffc070"/><circle cx="310.4" cy="178.6" r="1.2" fill="#400800"/><circle cx="137.8" cy="89.0" r="1.2" fill="#ff9850"/><circle cx="71.4" cy="218.2" r="0.8" fill="#ff9850"/><circle cx="270.4" cy="214.4" r="0.7" fill="#400800"/><circle cx="233.8" cy="63.1" r="1.1" fill="#fff0c0"/><circle cx="60.6" cy="71.3" r="1.0" fill="#ffc070"/><circle cx="218.6" cy="53.9" r="1.5" fill="#ff9850"/><circle cx="257.6" cy="220.2" r="0.8" fill="#ffc070"/><circle cx="122.3" cy="84.0" r="1.4" fill="#ffc070"/><circle cx="146.3" cy="117.1" r="1.4" fill="#400800"/><circle cx="278.9" cy="246.5" r="1.5" fill="#ffc070"/><circle cx="85.3" cy="119.8" r="1.5" fill="#501000"/><circle cx="43.9" cy="206.2" r="0.9" fill="#400800"/><circle cx="269.0" cy="116.1" r="0.9" fill="#fff0c0"/><circle cx="68.6" cy="259.6" r="1.3" fill="#ffc070"/><circle cx="48.1" cy="36.2" r="1.1" fill="#ffc070"/><circle cx="244.4" cy="66.0" r="1.2" fill="#fff0c0"/><circle cx="209.5" cy="267.0" r="1.5" fill="#ff9850"/><circle cx="193.2" cy="209.5" r="1.5" fill="#501000"/><circle cx="220.6" cy="173.3" r="0.8" fill="#fff0c0"/><circle cx="246.3" cy="193.8" r="1.5" fill="#fff0c0"/><circle cx="197.3" cy="204.2" r="1.3" fill="#ffc070"/><circle cx="47.2" cy="107.5" r="1.4" fill="#501000"/><circle cx="60.6" cy="203.8" r="1.6" fill="#400800"/><circle cx="205.6" cy="82.5" r="0.8" fill="#ff9850"/><circle cx="296.3" cy="134.5" r="1.3" fill="#501000"/><circle cx="239.4" cy="238.5" r="1.2" fill="#400800"/><circle cx="222.4" cy="78.7" r="1.5" fill="#ff9850"/><circle cx="250.2" cy="151.3" r="0.7" fill="#ffc070"/><circle cx="229.6" cy="232.3" r="0.9" fill="#501000"/><circle cx="81.9" cy="225.9" r="1.2" fill="#ffc070"/><circle cx="105.4" cy="41.2" r="1.0" fill="#501000"/><circle cx="62.4" cy="188.9" r="0.8" fill="#ffc070"/><circle cx="230.7" cy="197.6" r="1.3" fill="#ffc070"/><circle cx="38.6" cy="203.0" r="1.5" fill="#ffc070"/><circle cx="133.3" cy="102.6" r="1.2" fill="#ffc070"/><circle cx="103.0" cy="187.1" r="1.2" fill="#fff0c0"/><circle cx="245.4" cy="69.3" r="1.2" fill="#ffc070"/><circle cx="163.4" cy="222.1" r="0.8" fill="#ffc070"/><circle cx="116.3" cy="118.3" r="0.7" fill="#ffc070"/><circle cx="282.5" cy="103.8" r="1.3" fill="#fff0c0"/><circle cx="159.8" cy="54.9" r="1.1" fill="#501000"/><circle cx="193.0" cy="100.1" r="0.8" fill="#ff9850"/><circle cx="40.0" cy="280.0" r="0.8" fill="#400800"/><circle cx="233.5" cy="276.9" r="0.9" fill="#ff9850"/><circle cx="213.8" cy="270.9" r="0.9" fill="#400800"/><circle cx="185.8" cy="28.1" r="1.3" fill="#fff0c0"/><circle cx="209.0" cy="265.4" r="1.3" fill="#501000"/><circle cx="58.4" cy="217.3" r="1.4" fill="#fff0c0"/><circle cx="267.0" cy="101.9" r="1.6" fill="#ffc070"/><circle cx="181.0" cy="255.3" r="0.8" fill="#ffc070"/><circle cx="234.0" cy="105.4" r="1.0" fill="#ff9850"/><circle cx="87.6" cy="237.3" r="0.9" fill="#501000"/><circle cx="74.4" cy="261.4" r="0.9" fill="#501000"/><circle cx="48.3" cy="171.1" r="1.5" fill="#400800"/><circle cx="295.9" cy="152.6" r="1.4" fill="#400800"/><circle cx="309.8" cy="180.3" r="0.8" fill="#fff0c0"/><circle cx="99.3" cy="61.4" r="0.8" fill="#400800"/><circle cx="47.9" cy="138.5" r="0.9" fill="#ffc070"/><circle cx="139.1" cy="34.2" r="1.5" fill="#ff9850"/><circle cx="252.6" cy="134.9" r="0.8" fill="#501000"/><circle cx="52.2" cy="208.0" r="0.8" fill="#501000"/><circle cx="39.4" cy="270.7" r="1.5" fill="#ffc070"/><circle cx="82.1" cy="101.7" r="1.4" fill="#400800"/><circle cx="222.0" cy="171.3" r="0.8" fill="#400800"/><circle cx="125.7" cy="143.9" r="1.5" fill="#ff9850"/><circle cx="274.1" cy="275.4" r="1.3" fill="#ff9850"/><circle cx="259.3" cy="41.4" r="1.2" fill="#501000"/><circle cx="118.4" cy="172.2" r="1.1" fill="#501000"/><circle cx="214.4" cy="102.6" r="1.2" fill="#501000"/><circle cx="210.6" cy="243.1" r="1.3" fill="#ffc070"/><circle cx="159.6" cy="47.8" r="1.0" fill="#ff9850"/><circle cx="196.1" cy="132.6" r="0.9" fill="#ff9850"/><circle cx="157.9" cy="92.8" r="0.9" fill="#ffc070"/><circle cx="280.9" cy="166.3" r="0.9" fill="#fff0c0"/><circle cx="266.4" cy="192.3" r="1.2" fill="#ffc070"/><circle cx="105.9" cy="151.3" r="1.1" fill="#ff9850"/><circle cx="185.3" cy="204.4" r="1.5" fill="#ff9850"/><circle cx="192.3" cy="244.0" r="1.4" fill="#fff0c0"/><circle cx="73.8" cy="154.8" r="1.3" fill="#ff9850"/><circle cx="244.4" cy="55.3" r="0.8" fill="#ff9850"/><circle cx="264.5" cy="126.3" r="1.6" fill="#ffc070"/><circle cx="89.5" cy="147.6" r="0.8" fill="#fff0c0"/><circle cx="249.7" cy="40.7" r="0.7" fill="#ffc070"/><circle cx="48.4" cy="205.7" r="1.1" fill="#ffc070"/><circle cx="70.0" cy="60.7" r="1.3" fill="#fff0c0"/><circle cx="276.0" cy="170.1" r="0.9" fill="#501000"/><circle cx="241.2" cy="113.4" r="1.4" fill="#fff0c0"/><circle cx="70.6" cy="121.5" r="1.6" fill="#ff9850"/><circle cx="234.8" cy="37.1" r="1.0" fill="#ff9850"/><circle cx="134.5" cy="109.8" r="0.8" fill="#ff9850"/><circle cx="290.5" cy="198.9" r="1.0" fill="#501000"/><circle cx="227.1" cy="31.4" r="1.1" fill="#ff9850"/><circle cx="253.8" cy="150.9" r="1.4" fill="#fff0c0"/><circle cx="87.8" cy="167.9" r="1.5" fill="#501000"/><circle cx="220.5" cy="240.1" r="1.5" fill="#ff9850"/><circle cx="184.5" cy="202.5" r="1.6" fill="#501000"/><circle cx="40.8" cy="113.6" r="1.1" fill="#ffc070"/><circle cx="169.6" cy="34.1" r="0.8" fill="#fff0c0"/><circle cx="207.0" cy="191.0" r="1.1" fill="#ff9850"/><circle cx="167.4" cy="66.5" r="1.1" fill="#400800"/><circle cx="276.2" cy="182.4" r="1.0" fill="#fff0c0"/><circle cx="181.7" cy="105.7" r="1.2" fill="#ffc070"/><circle cx="49.0" cy="69.5" r="1.4" fill="#501000"/><circle cx="127.8" cy="145.9" r="1.0" fill="#501000"/><circle cx="128.9" cy="149.8" r="0.7" fill="#ffc070"/><circle cx="162.9" cy="278.5" r="1.3" fill="#fff0c0"/><circle cx="236.2" cy="62.8" r="0.9" fill="#400800"/><circle cx="174.0" cy="93.1" r="1.2" fill="#ff9850"/><circle cx="197.1" cy="61.6" r="1.5" fill="#fff0c0"/><circle cx="284.3" cy="50.4" r="1.4" fill="#ffc070"/><circle cx="210.5" cy="188.5" r="1.4" fill="#501000"/><circle cx="254.3" cy="86.9" r="1.3" fill="#ffc070"/><circle cx="120.3" cy="221.4" r="1.2" fill="#501000"/><circle cx="211.0" cy="115.7" r="1.3" fill="#ff9850"/><circle cx="128.6" cy="206.3" r="1.5" fill="#501000"/><circle cx="251.4" cy="155.0" r="1.4" fill="#ffc070"/><circle cx="310.1" cy="64.6" r="0.7" fill="#ffc070"/><circle cx="275.6" cy="142.0" r="1.1" fill="#400800"/><circle cx="248.6" cy="263.9" r="0.8" fill="#ff9850"/><circle cx="119.6" cy="105.0" r="1.2" fill="#ff9850"/><circle cx="293.9" cy="113.2" r="1.2" fill="#ffc070"/><circle cx="58.9" cy="71.8" r="1.0" fill="#ff9850"/><circle cx="165.2" cy="274.5" r="1.3" fill="#400800"/><circle cx="289.6" cy="240.7" r="1.5" fill="#501000"/><circle cx="112.6" cy="91.9" r="1.4" fill="#fff0c0"/><circle cx="208.6" cy="86.6" r="0.9" fill="#fff0c0"/><circle cx="146.5" cy="77.3" r="1.0" fill="#ff9850"/><circle cx="174.5" cy="51.5" r="1.4" fill="#ffc070"/><circle cx="300.9" cy="179.9" r="0.8" fill="#fff0c0"/><circle cx="260.7" cy="173.3" r="0.7" fill="#ffc070"/><circle cx="111.2" cy="190.5" r="1.3" fill="#fff0c0"/><circle cx="289.9" cy="80.3" r="1.5" fill="#501000"/><circle cx="44.4" cy="150.5" r="1.3" fill="#ff9850"/><circle cx="129.6" cy="40.7" r="1.4" fill="#400800"/><circle cx="60.9" cy="182.9" r="1.6" fill="#400800"/><circle cx="146.5" cy="266.7" r="0.7" fill="#fff0c0"/><circle cx="123.8" cy="193.4" r="0.8" fill="#501000"/><circle cx="205.2" cy="211.4" r="0.8" fill="#501000"/><circle cx="42.1" cy="79.9" r="1.4" fill="#ff9850"/><circle cx="61.6" cy="234.4" r="1.0" fill="#400800"/><circle cx="223.4" cy="247.7" r="1.3" fill="#ffc070"/><circle cx="201.8" cy="110.7" r="0.9" fill="#ff9850"/><circle cx="231.9" cy="221.4" r="1.3" fill="#501000"/><circle cx="187.6" cy="206.8" r="1.0" fill="#ff9850"/><circle cx="180.4" cy="266.9" r="0.9" fill="#ffc070"/><circle cx="189.9" cy="51.5" r="0.8" fill="#501000"/><circle cx="209.3" cy="128.6" r="1.5" fill="#fff0c0"/><circle cx="208.1" cy="57.3" r="1.2" fill="#ff9850"/><circle cx="189.1" cy="72.5" r="1.0" fill="#ff9850"/><circle cx="77.9" cy="71.4" r="1.2" fill="#ffc070"/><circle cx="133.1" cy="207.7" r="1.6" fill="#400800"/><circle cx="173.7" cy="188.8" r="1.5" fill="#501000"/><circle cx="143.6" cy="80.3" r="0.8" fill="#fff0c0"/><circle cx="237.9" cy="42.8" r="1.3" fill="#400800"/><circle cx="133.1" cy="84.4" r="1.1" fill="#400800"/><circle cx="288.8" cy="267.9" r="0.7" fill="#ffc070"/><circle cx="42.7" cy="207.6" r="0.9" fill="#ffc070"/><circle cx="92.7" cy="220.3" r="1.0" fill="#501000"/><circle cx="309.4" cy="81.5" r="1.4" fill="#ff9850"/><circle cx="167.8" cy="265.1" r="1.6" fill="#501000"/><circle cx="74.4" cy="102.8" r="1.0" fill="#fff0c0"/><circle cx="170.0" cy="254.1" r="1.0" fill="#ffc070"/><circle cx="204.2" cy="270.9" r="1.2" fill="#ffc070"/><circle cx="278.9" cy="79.7" r="0.7" fill="#501000"/><circle cx="249.1" cy="138.4" r="1.5" fill="#400800"/><circle cx="309.6" cy="102.2" r="1.4" fill="#fff0c0"/><circle cx="78.6" cy="259.7" r="1.5" fill="#ffc070"/><circle cx="78.3" cy="214.4" r="1.4" fill="#fff0c0"/><circle cx="164.3" cy="127.7" r="1.0" fill="#400800"/><circle cx="288.7" cy="209.4" r="1.6" fill="#501000"/><circle cx="46.0" cy="86.1" r="0.7" fill="#fff0c0"/><circle cx="175.3" cy="85.3" r="1.3" fill="#400800"/><circle cx="236.6" cy="38.4" r="0.8" fill="#501000"/><circle cx="67.2" cy="271.0" r="1.2" fill="#ffc070"/><circle cx="37.7" cy="83.3" r="0.8" fill="#ff9850"/><circle cx="239.3" cy="154.2" r="1.2" fill="#fff0c0"/><circle cx="267.0" cy="271.1" r="1.0" fill="#fff0c0"/><circle cx="95.9" cy="273.7" r="1.4" fill="#ffc070"/><circle cx="111.8" cy="71.4" r="0.9" fill="#501000"/><circle cx="301.8" cy="76.3" r="1.1" fill="#fff0c0"/><circle cx="189.5" cy="118.8" r="1.0" fill="#fff0c0"/><circle cx="48.3" cy="142.2" r="1.2" fill="#501000"/><circle cx="226.1" cy="277.5" r="1.1" fill="#501000"/><circle cx="124.2" cy="133.3" r="1.0" fill="#ffc070"/><circle cx="142.6" cy="131.0" r="1.5" fill="#ffc070"/><circle cx="211.0" cy="87.2" r="1.5" fill="#ff9850"/><circle cx="106.8" cy="182.4" r="1.6" fill="#400800"/><circle cx="263.2" cy="195.8" r="1.5" fill="#fff0c0"/><circle cx="251.8" cy="258.6" r="1.1" fill="#fff0c0"/><circle cx="190.0" cy="201.3" r="1.2" fill="#400800"/><circle cx="123.5" cy="274.7" r="1.1" fill="#fff0c0"/><circle cx="214.4" cy="146.5" r="1.2" fill="#501000"/><circle cx="309.6" cy="86.0" r="1.0" fill="#400800"/><circle cx="54.6" cy="275.8" r="1.3" fill="#501000"/><circle cx="222.6" cy="108.5" r="1.3" fill="#ff9850"/><circle cx="290.2" cy="221.9" r="1.5" fill="#501000"/><circle cx="166.7" cy="210.7" r="1.2" fill="#ff9850"/><circle cx="193.4" cy="281.8" r="1.5" fill="#fff0c0"/><circle cx="181.9" cy="160.1" r="0.9" fill="#ff9850"/><circle cx="137.2" cy="198.5" r="1.4" fill="#ffc070"/><circle cx="163.1" cy="190.0" r="1.0" fill="#fff0c0"/><circle cx="136.1" cy="247.1" r="0.8" fill="#400800"/><circle cx="79.2" cy="90.4" r="1.0" fill="#fff0c0"/><circle cx="218.7" cy="159.8" r="1.1" fill="#501000"/><circle cx="61.1" cy="127.3" r="1.3" fill="#400800"/><circle cx="160.1" cy="148.5" r="1.4" fill="#ffc070"/><circle cx="78.1" cy="200.1" r="1.1" fill="#501000"/><circle cx="217.9" cy="185.4" r="1.0" fill="#ff9850"/><circle cx="141.4" cy="30.5" r="0.7" fill="#ffc070"/><circle cx="108.1" cy="177.2" r="1.3" fill="#501000"/><circle cx="112.2" cy="108.9" r="0.9" fill="#ffc070"/><circle cx="157.0" cy="160.4" r="1.5" fill="#400800"/><circle cx="92.3" cy="134.3" r="1.3" fill="#501000"/><circle cx="138.8" cy="37.2" r="1.0" fill="#400800"/><circle cx="48.4" cy="218.8" r="1.1" fill="#400800"/><circle cx="203.4" cy="91.7" r="1.0" fill="#ffc070"/><circle cx="195.6" cy="262.8" r="1.6" fill="#ffc070"/><circle cx="270.4" cy="174.5" r="1.3" fill="#fff0c0"/><circle cx="127.3" cy="44.1" r="1.0" fill="#400800"/><circle cx="181.1" cy="153.1" r="0.8" fill="#fff0c0"/><circle cx="191.4" cy="265.4" r="1.1" fill="#400800"/><circle cx="166.8" cy="253.9" r="1.1" fill="#400800"/><circle cx="74.1" cy="218.7" r="1.3" fill="#fff0c0"/><circle cx="239.9" cy="128.8" r="1.5" fill="#fff0c0"/><circle cx="117.6" cy="110.5" r="1.4" fill="#400800"/><circle cx="69.4" cy="82.5" r="1.2" fill="#fff0c0"/><circle cx="41.2" cy="153.2" r="1.2" fill="#ffc070"/><circle cx="52.1" cy="200.3" r="1.1" fill="#501000"/><circle cx="52.0" cy="202.9" r="1.5" fill="#400800"/><circle cx="75.4" cy="130.2" r="1.5" fill="#fff0c0"/><circle cx="76.9" cy="111.6" r="1.6" fill="#ff9850"/><circle cx="88.0" cy="164.0" r="0.9" fill="#ff9850"/><circle cx="122.8" cy="91.3" r="1.2" fill="#501000"/><circle cx="177.0" cy="133.6" r="1.0" fill="#fff0c0"/><circle cx="105.1" cy="123.3" r="1.5" fill="#400800"/><circle cx="107.4" cy="77.7" r="0.9" fill="#fff0c0"/><circle cx="215.7" cy="264.7" r="1.3" fill="#400800"/><circle cx="75.7" cy="264.2" r="0.9" fill="#501000"/><circle cx="288.9" cy="168.4" r="1.4" fill="#fff0c0"/><circle cx="39.3" cy="43.3" r="1.4" fill="#ff9850"/><circle cx="46.7" cy="82.2" r="1.0" fill="#400800"/><circle cx="231.7" cy="231.4" r="1.2" fill="#ff9850"/><circle cx="148.2" cy="212.3" r="1.5" fill="#ffc070"/><circle cx="52.8" cy="137.0" r="0.7" fill="#fff0c0"/><circle cx="273.4" cy="44.4" r="1.1" fill="#ff9850"/><circle cx="40.9" cy="210.6" r="1.1" fill="#ffc070"/><circle cx="221.6" cy="198.8" r="1.4" fill="#501000"/><circle cx="183.4" cy="66.7" r="1.2" fill="#ffc070"/><circle cx="164.6" cy="77.6" r="1.6" fill="#fff0c0"/><circle cx="150.6" cy="194.7" r="1.3" fill="#501000"/><circle cx="158.2" cy="134.7" r="1.5" fill="#fff0c0"/><circle cx="73.5" cy="67.0" r="1.0" fill="#400800"/><circle cx="100.8" cy="175.0" r="1.3" fill="#501000"/><circle cx="234.1" cy="105.2" r="1.0" fill="#501000"/><circle cx="267.5" cy="64.9" r="1.1" fill="#ffc070"/><circle cx="46.0" cy="123.3" r="0.9" fill="#501000"/><circle cx="186.5" cy="50.0" r="0.8" fill="#400800"/><circle cx="87.4" cy="111.3" r="0.8" fill="#400800"/><circle cx="264.0" cy="57.3" r="1.6" fill="#ffc070"/><circle cx="294.4" cy="160.7" r="1.1" fill="#501000"/><circle cx="41.9" cy="226.1" r="0.9" fill="#fff0c0"/><circle cx="113.7" cy="103.6" r="1.2" fill="#ff9850"/><circle cx="61.2" cy="61.8" r="1.4" fill="#501000"/><circle cx="246.6" cy="257.5" r="1.5" fill="#ff9850"/><circle cx="45.9" cy="179.3" r="1.0" fill="#fff0c0"/><circle cx="295.8" cy="194.1" r="0.9" fill="#fff0c0"/><circle cx="133.0" cy="149.1" r="1.4" fill="#501000"/><circle cx="86.0" cy="227.7" r="1.4" fill="#501000"/><circle cx="235.3" cy="142.5" r="0.8" fill="#ff9850"/><circle cx="81.2" cy="126.7" r="0.7" fill="#fff0c0"/><circle cx="177.7" cy="50.9" r="1.1" fill="#ffc070"/><circle cx="266.4" cy="45.5" r="1.0" fill="#ffc070"/><circle cx="218.6" cy="49.0" r="1.5" fill="#fff0c0"/><circle cx="276.3" cy="148.9" r="0.9" fill="#ffc070"/><circle cx="66.2" cy="87.1" r="1.1" fill="#ffc070"/><circle cx="183.9" cy="56.1" r="0.9" fill="#400800"/><circle cx="192.7" cy="36.8" r="1.0" fill="#501000"/><circle cx="91.2" cy="129.4" r="1.6" fill="#ffc070"/><circle cx="285.9" cy="212.0" r="1.2" fill="#ff9850"/><circle cx="281.0" cy="29.9" r="1.1" fill="#fff0c0"/><circle cx="253.7" cy="172.0" r="0.8" fill="#ffc070"/><circle cx="83.9" cy="241.3" r="1.1" fill="#fff0c0"/><circle cx="208.0" cy="54.1" r="1.5" fill="#ff9850"/><circle cx="60.1" cy="174.1" r="0.9" fill="#ffc070"/><circle cx="249.3" cy="157.3" r="1.4" fill="#fff0c0"/><circle cx="57.0" cy="112.3" r="0.7" fill="#fff0c0"/><circle cx="206.4" cy="203.1" r="1.0" fill="#501000"/><circle cx="259.1" cy="144.2" r="0.7" fill="#ffc070"/><circle cx="294.6" cy="131.5" r="0.7" fill="#400800"/><circle cx="253.1" cy="63.9" r="1.3" fill="#ff9850"/><circle cx="78.4" cy="114.1" r="0.9" fill="#ffc070"/><circle cx="290.4" cy="201.6" r="1.6" fill="#fff0c0"/><circle cx="253.9" cy="148.8" r="1.2" fill="#400800"/><circle cx="127.4" cy="43.7" r="1.3" fill="#ff9850"/><circle cx="91.5" cy="186.0" r="1.4" fill="#501000"/><circle cx="62.3" cy="209.7" r="1.2" fill="#501000"/><circle cx="257.1" cy="152.1" r="0.8" fill="#400800"/><circle cx="264.0" cy="265.9" r="1.4" fill="#fff0c0"/><circle cx="265.1" cy="231.4" r="0.8" fill="#ff9850"/><circle cx="142.7" cy="189.8" r="1.0" fill="#ff9850"/><circle cx="300.3" cy="162.1" r="0.8" fill="#fff0c0"/><circle cx="251.6" cy="231.4" r="0.9" fill="#ffc070"/><circle cx="198.0" cy="169.8" r="1.2" fill="#400800"/><circle cx="292.7" cy="253.7" r="1.1" fill="#fff0c0"/><circle cx="251.8" cy="229.2" r="1.4" fill="#501000"/><circle cx="148.3" cy="48.3" r="1.3" fill="#501000"/><circle cx="284.7" cy="135.2" r="0.7" fill="#501000"/><circle cx="171.0" cy="30.2" r="1.5" fill="#fff0c0"/><circle cx="167.3" cy="131.2" r="1.1" fill="#501000"/><circle cx="128.9" cy="80.7" r="1.1" fill="#501000"/><circle cx="164.7" cy="34.3" r="0.8" fill="#501000"/><circle cx="111.3" cy="205.5" r="1.1" fill="#400800"/><circle cx="184.5" cy="87.9" r="1.3" fill="#ffc070"/><circle cx="48.4" cy="236.7" r="1.1" fill="#ffc070"/><circle cx="128.1" cy="64.6" r="0.9" fill="#ffc070"/><circle cx="280.8" cy="182.2" r="1.0" fill="#400800"/><circle cx="124.3" cy="250.3" r="0.9" fill="#ff9850"/><circle cx="264.6" cy="67.5" r="0.7" fill="#ff9850"/><circle cx="270.9" cy="52.6" r="1.1" fill="#ffc070"/><circle cx="258.8" cy="90.2" r="1.3" fill="#501000"/><circle cx="306.8" cy="214.1" r="1.3" fill="#ff9850"/><circle cx="74.0" cy="218.9" r="1.3" fill="#501000"/><circle cx="57.8" cy="185.7" r="0.9" fill="#400800"/><circle cx="118.1" cy="104.2" r="1.5" fill="#400800"/><circle cx="258.6" cy="41.3" r="1.1" fill="#400800"/><circle cx="226.5" cy="30.6" r="1.2" fill="#fff0c0"/><circle cx="159.7" cy="218.3" r="1.4" fill="#ffc070"/><circle cx="242.4" cy="35.0" r="1.1" fill="#501000"/><circle cx="38.9" cy="265.8" r="0.8" fill="#501000"/><circle cx="198.0" cy="173.7" r="1.6" fill="#fff0c0"/><circle cx="84.6" cy="176.9" r="1.3" fill="#501000"/><circle cx="103.2" cy="223.9" r="1.1" fill="#fff0c0"/><circle cx="305.0" cy="192.1" r="1.1" fill="#400800"/><circle cx="304.0" cy="118.2" r="1.0" fill="#501000"/><circle cx="265.4" cy="152.9" r="1.4" fill="#fff0c0"/><circle cx="132.1" cy="61.8" r="1.4" fill="#ff9850"/><circle cx="53.9" cy="104.8" r="0.9" fill="#ff9850"/><circle cx="122.5" cy="39.7" r="1.6" fill="#501000"/><circle cx="249.9" cy="118.2" r="0.9" fill="#ffc070"/><circle cx="281.2" cy="147.5" r="1.0" fill="#ff9850"/><circle cx="157.1" cy="53.8" r="1.0" fill="#501000"/><circle cx="124.6" cy="229.1" r="0.9" fill="#400800"/><circle cx="92.9" cy="258.6" r="1.2" fill="#400800"/><circle cx="148.9" cy="66.9" r="0.7" fill="#501000"/><circle cx="113.4" cy="163.1" r="1.5" fill="#ff9850"/><circle cx="149.8" cy="45.6" r="1.0" fill="#400800"/><circle cx="288.4" cy="161.5" r="1.5" fill="#501000"/><circle cx="70.2" cy="141.1" r="0.7" fill="#fff0c0"/><circle cx="263.5" cy="171.0" r="1.2" fill="#501000"/><circle cx="135.6" cy="277.0" r="1.5" fill="#fff0c0"/><circle cx="63.4" cy="180.3" r="1.5" fill="#400800"/><circle cx="232.0" cy="264.1" r="1.3" fill="#ffc070"/><circle cx="302.0" cy="188.3" r="1.4" fill="#fff0c0"/><circle cx="145.1" cy="266.7" r="1.1" fill="#501000"/><circle cx="173.9" cy="112.2" r="1.3" fill="#ffc070"/><circle cx="76.3" cy="214.3" r="1.3" fill="#400800"/><circle cx="284.0" cy="60.2" r="1.3" fill="#501000"/><circle cx="290.3" cy="43.1" r="1.5" fill="#fff0c0"/><circle cx="220.0" cy="173.9" r="0.9" fill="#400800"/><circle cx="236.7" cy="227.0" r="0.8" fill="#ffc070"/><circle cx="221.0" cy="219.1" r="0.8" fill="#ff9850"/><circle cx="114.4" cy="34.6" r="1.5" fill="#400800"/><circle cx="73.0" cy="206.3" r="1.3" fill="#400800"/><circle cx="112.4" cy="43.2" r="1.2" fill="#ff9850"/><circle cx="176.5" cy="181.6" r="1.0" fill="#ffc070"/><circle cx="135.6" cy="171.7" r="1.0" fill="#fff0c0"/><circle cx="228.6" cy="44.5" r="0.9" fill="#501000"/><circle cx="162.4" cy="221.6" r="0.9" fill="#400800"/><circle cx="53.2" cy="140.1" r="1.2" fill="#ff9850"/><circle cx="45.8" cy="163.7" r="0.8" fill="#400800"/><circle cx="98.5" cy="187.1" r="1.6" fill="#501000"/><circle cx="182.4" cy="85.0" r="1.4" fill="#ff9850"/><circle cx="94.3" cy="240.9" r="1.2" fill="#ff9850"/><circle cx="45.4" cy="225.2" r="1.4" fill="#fff0c0"/><circle cx="110.4" cy="121.8" r="1.4" fill="#501000"/><circle cx="197.3" cy="128.4" r="1.6" fill="#ff9850"/><circle cx="149.1" cy="196.7" r="1.4" fill="#fff0c0"/><circle cx="300.4" cy="110.3" r="0.8" fill="#501000"/><circle cx="167.9" cy="60.2" r="1.6" fill="#400800"/><circle cx="278.2" cy="184.1" r="1.0" fill="#ffc070"/><circle cx="89.0" cy="129.1" r="1.4" fill="#501000"/><circle cx="57.9" cy="255.7" r="1.1" fill="#fff0c0"/><circle cx="91.2" cy="206.2" r="1.4" fill="#ffc070"/><circle cx="92.1" cy="219.4" r="1.4" fill="#501000"/><circle cx="296.8" cy="261.5" r="1.3" fill="#ff9850"/><circle cx="54.2" cy="78.6" r="1.5" fill="#fff0c0"/><circle cx="212.8" cy="217.3" r="0.9" fill="#ff9850"/><circle cx="134.4" cy="67.9" r="1.6" fill="#501000"/><circle cx="120.8" cy="37.3" r="1.3" fill="#ffc070"/><circle cx="152.4" cy="33.5" r="1.4" fill="#400800"/><circle cx="131.0" cy="245.7" r="1.4" fill="#501000"/><circle cx="166.1" cy="279.6" r="1.4" fill="#501000"/><circle cx="167.5" cy="236.4" r="1.5" fill="#ffc070"/><circle cx="181.8" cy="90.3" r="0.9" fill="#400800"/><circle cx="106.0" cy="31.4" r="1.3" fill="#ffc070"/><circle cx="296.0" cy="277.0" r="1.4" fill="#400800"/><circle cx="235.9" cy="67.2" r="0.8" fill="#400800"/><circle cx="40.5" cy="80.8" r="1.2" fill="#ff9850"/><circle cx="44.6" cy="234.2" r="1.1" fill="#fff0c0"/><circle cx="48.9" cy="253.6" r="1.5" fill="#ff9850"/><circle cx="272.2" cy="112.6" r="1.5" fill="#ff9850"/><circle cx="169.8" cy="189.7" r="0.7" fill="#ffc070"/><circle cx="93.0" cy="116.8" r="0.8" fill="#fff0c0"/><circle cx="277.5" cy="267.9" r="1.1" fill="#400800"/><circle cx="197.4" cy="188.9" r="1.4" fill="#400800"/><circle cx="193.2" cy="210.1" r="0.9" fill="#400800"/><circle cx="215.6" cy="246.6" r="1.3" fill="#ffc070"/><circle cx="165.7" cy="251.4" r="0.8" fill="#ff9850"/><circle cx="286.1" cy="179.4" r="1.3" fill="#fff0c0"/><circle cx="256.2" cy="253.6" r="1.1" fill="#fff0c0"/><circle cx="252.9" cy="236.9" r="0.9" fill="#fff0c0"/><circle cx="285.8" cy="77.2" r="0.7" fill="#fff0c0"/><circle cx="50.3" cy="87.6" r="1.4" fill="#ffc070"/><circle cx="49.1" cy="168.4" r="1.5" fill="#ff9850"/><circle cx="109.0" cy="65.3" r="1.1" fill="#fff0c0"/><circle cx="299.1" cy="220.4" r="0.9" fill="#fff0c0"/><circle cx="258.1" cy="67.7" r="1.0" fill="#ff9850"/><circle cx="176.7" cy="270.9" r="1.5" fill="#400800"/><circle cx="37.6" cy="244.0" r="1.3" fill="#ff9850"/><circle cx="60.5" cy="169.8" r="1.2" fill="#ff9850"/><circle cx="256.1" cy="45.9" r="1.3" fill="#fff0c0"/><circle cx="205.5" cy="143.0" r="1.2" fill="#fff0c0"/><circle cx="94.1" cy="74.0" r="1.4" fill="#ff9850"/><circle cx="162.5" cy="57.3" r="1.3" fill="#ffc070"/><circle cx="306.4" cy="182.8" r="1.2" fill="#fff0c0"/><circle cx="133.6" cy="50.1" r="1.5" fill="#ffc070"/><circle cx="269.4" cy="52.0" r="0.9" fill="#501000"/><circle cx="121.7" cy="101.7" r="1.2" fill="#400800"/><circle cx="305.1" cy="222.8" r="0.8" fill="#fff0c0"/><circle cx="48.9" cy="200.8" r="0.9" fill="#ff9850"/><circle cx="142.6" cy="277.8" r="1.2" fill="#ff9850"/><circle cx="94.8" cy="220.2" r="1.5" fill="#fff0c0"/><circle cx="266.4" cy="209.5" r="1.3" fill="#fff0c0"/><circle cx="74.0" cy="259.3" r="0.9" fill="#fff0c0"/><circle cx="295.3" cy="139.1" r="0.9" fill="#ffc070"/><circle cx="119.3" cy="115.2" r="1.0" fill="#501000"/><circle cx="81.4" cy="67.7" r="1.4" fill="#400800"/><circle cx="266.3" cy="280.5" r="0.9" fill="#501000"/><circle cx="105.4" cy="131.6" r="1.0" fill="#fff0c0"/><circle cx="186.0" cy="117.3" r="0.7" fill="#501000"/><circle cx="248.3" cy="87.1" r="1.4" fill="#501000"/><circle cx="182.8" cy="52.8" r="1.1" fill="#501000"/><circle cx="129.3" cy="42.4" r="1.6" fill="#fff0c0"/><circle cx="81.1" cy="161.9" r="0.9" fill="#ff9850"/><circle cx="288.3" cy="264.4" r="1.3" fill="#ff9850"/><circle cx="302.1" cy="48.9" r="0.9" fill="#ffc070"/><circle cx="243.9" cy="252.7" r="1.1" fill="#501000"/><circle cx="69.4" cy="268.6" r="1.1" fill="#ff9850"/><circle cx="225.2" cy="202.8" r="1.4" fill="#501000"/><circle cx="105.1" cy="91.8" r="0.8" fill="#fff0c0"/><circle cx="274.4" cy="190.1" r="1.6" fill="#ff9850"/><circle cx="213.3" cy="177.3" r="1.2" fill="#fff0c0"/><circle cx="227.4" cy="103.8" r="1.4" fill="#fff0c0"/><circle cx="183.8" cy="44.8" r="0.8" fill="#fff0c0"/><circle cx="67.9" cy="152.4" r="1.3" fill="#ff9850"/><circle cx="111.9" cy="223.0" r="1.5" fill="#ffc070"/><circle cx="106.9" cy="127.1" r="1.1" fill="#ffc070"/><circle cx="236.6" cy="50.3" r="1.0" fill="#400800"/><circle cx="265.0" cy="33.9" r="0.8" fill="#ffc070"/><circle cx="94.2" cy="115.8" r="0.9" fill="#501000"/><circle cx="39.7" cy="74.6" r="0.8" fill="#fff0c0"/><circle cx="217.6" cy="176.3" r="0.9" fill="#501000"/><circle cx="76.4" cy="50.9" r="1.0" fill="#fff0c0"/><circle cx="215.7" cy="171.8" r="0.8" fill="#ffc070"/><circle cx="118.1" cy="94.7" r="1.5" fill="#ffc070"/><circle cx="134.4" cy="164.8" r="0.8" fill="#ffc070"/><circle cx="252.9" cy="90.4" r="0.8" fill="#501000"/><circle cx="218.7" cy="249.3" r="1.0" fill="#ffc070"/><circle cx="141.3" cy="221.8" r="1.3" fill="#ffc070"/><circle cx="279.9" cy="221.2" r="0.9" fill="#501000"/><circle cx="281.6" cy="93.3" r="0.7" fill="#fff0c0"/><circle cx="218.8" cy="240.1" r="1.0" fill="#ffc070"/><circle cx="166.5" cy="150.8" r="1.1" fill="#fff0c0"/><circle cx="232.0" cy="50.0" r="1.1" fill="#fff0c0"/><circle cx="289.9" cy="258.9" r="1.1" fill="#400800"/><circle cx="69.4" cy="43.4" r="1.1" fill="#501000"/><circle cx="102.5" cy="112.7" r="0.8" fill="#fff0c0"/><circle cx="97.9" cy="216.5" r="1.3" fill="#ff9850"/><circle cx="311.0" cy="263.7" r="0.8" fill="#400800"/><circle cx="295.6" cy="160.4" r="1.2" fill="#ffc070"/><circle cx="176.9" cy="107.0" r="0.8" fill="#fff0c0"/><circle cx="109.7" cy="262.6" r="1.4" fill="#400800"/><circle cx="73.1" cy="232.5" r="0.8" fill="#501000"/><circle cx="113.9" cy="228.0" r="0.8" fill="#fff0c0"/><circle cx="306.7" cy="149.3" r="1.2" fill="#ffc070"/><circle cx="208.9" cy="233.8" r="1.3" fill="#fff0c0"/><circle cx="225.2" cy="34.2" r="1.4" fill="#ffc070"/><circle cx="219.1" cy="61.7" r="0.8" fill="#501000"/><circle cx="257.2" cy="268.1" r="1.5" fill="#fff0c0"/><circle cx="137.8" cy="257.1" r="1.3" fill="#ffc070"/><circle cx="41.3" cy="143.4" r="1.1" fill="#fff0c0"/><circle cx="269.9" cy="99.0" r="1.5" fill="#ffc070"/><circle cx="120.4" cy="106.4" r="1.5" fill="#ffc070"/><circle cx="147.1" cy="199.9" r="1.0" fill="#fff0c0"/><circle cx="169.7" cy="42.9" r="1.2" fill="#501000"/><circle cx="296.8" cy="152.0" r="1.3" fill="#ffc070"/><circle cx="96.3" cy="239.5" r="1.0" fill="#ffc070"/><circle cx="251.9" cy="95.4" r="0.7" fill="#501000"/><circle cx="85.6" cy="131.7" r="1.2" fill="#fff0c0"/><circle cx="248.0" cy="87.0" r="0.8" fill="#fff0c0"/><circle cx="259.4" cy="181.3" r="1.2" fill="#400800"/><circle cx="232.0" cy="61.2" r="1.2" fill="#ffc070"/><circle cx="112.0" cy="132.5" r="1.6" fill="#ffc070"/><circle cx="74.1" cy="108.2" r="0.9" fill="#fff0c0"/><circle cx="152.9" cy="46.5" r="1.4" fill="#400800"/><circle cx="106.4" cy="172.0" r="1.5" fill="#ffc070"/><circle cx="299.2" cy="94.8" r="0.8" fill="#400800"/><circle cx="156.3" cy="235.8" r="1.5" fill="#fff0c0"/><circle cx="56.3" cy="218.9" r="1.5" fill="#ffc070"/><circle cx="152.1" cy="161.5" r="1.4" fill="#501000"/><circle cx="216.0" cy="157.3" r="1.1" fill="#fff0c0"/><circle cx="173.9" cy="161.8" r="1.5" fill="#501000"/><circle cx="300.7" cy="75.3" r="1.2" fill="#fff0c0"/><circle cx="106.4" cy="123.8" r="1.3" fill="#501000"/><circle cx="149.9" cy="270.8" r="1.3" fill="#501000"/><circle cx="57.1" cy="215.8" r="1.3" fill="#ff9850"/><circle cx="95.2" cy="110.0" r="1.1" fill="#fff0c0"/><circle cx="130.2" cy="220.8" r="1.1" fill="#ffc070"/><circle cx="125.8" cy="274.6" r="0.8" fill="#400800"/><circle cx="303.0" cy="164.9" r="1.6" fill="#400800"/><circle cx="283.6" cy="85.5" r="1.0" fill="#501000"/><circle cx="172.4" cy="119.4" r="1.3" fill="#ffc070"/><circle cx="277.8" cy="55.0" r="0.8" fill="#ff9850"/><circle cx="148.3" cy="133.7" r="1.1" fill="#fff0c0"/><circle cx="161.4" cy="111.0" r="1.0" fill="#ff9850"/><circle cx="230.0" cy="137.9" r="1.4" fill="#ffc070"/><circle cx="226.9" cy="199.2" r="1.1" fill="#ffc070"/><circle cx="69.1" cy="187.1" r="1.5" fill="#501000"/><circle cx="212.9" cy="188.5" r="1.6" fill="#ff9850"/><circle cx="90.8" cy="222.1" r="1.3" fill="#501000"/><circle cx="81.8" cy="42.6" r="1.5" fill="#400800"/><circle cx="276.8" cy="176.7" r="1.5" fill="#ffc070"/><circle cx="200.2" cy="131.5" r="0.9" fill="#ff9850"/><circle cx="56.2" cy="27.2" r="0.8" fill="#ffc070"/><circle cx="105.2" cy="70.4" r="0.9" fill="#ffc070"/><circle cx="231.8" cy="278.7" r="0.7" fill="#fff0c0"/><circle cx="59.6" cy="48.7" r="0.8" fill="#ffc070"/><circle cx="128.9" cy="159.7" r="1.0" fill="#501000"/><circle cx="241.8" cy="249.9" r="0.7" fill="#501000"/><circle cx="60.0" cy="67.6" r="0.8" fill="#fff0c0"/><circle cx="51.3" cy="275.2" r="1.4" fill="#ffc070"/><circle cx="236.7" cy="113.5" r="0.8" fill="#400800"/><circle cx="202.8" cy="279.3" r="1.4" fill="#fff0c0"/><circle cx="266.9" cy="134.2" r="1.3" fill="#501000"/><circle cx="99.9" cy="230.1" r="0.8" fill="#400800"/><circle cx="197.6" cy="75.0" r="1.4" fill="#400800"/><circle cx="253.8" cy="85.2" r="1.4" fill="#fff0c0"/><circle cx="166.3" cy="137.5" r="0.9" fill="#fff0c0"/><circle cx="196.6" cy="53.6" r="0.9" fill="#400800"/><circle cx="107.8" cy="134.4" r="1.0" fill="#ff9850"/><circle cx="52.6" cy="84.6" r="0.9" fill="#fff0c0"/><circle cx="116.7" cy="189.8" r="1.3" fill="#400800"/><circle cx="284.1" cy="78.4" r="1.6" fill="#501000"/><circle cx="283.2" cy="59.6" r="0.9" fill="#fff0c0"/><circle cx="248.3" cy="237.7" r="1.1" fill="#501000"/><circle cx="180.3" cy="104.4" r="1.0" fill="#ff9850"/><circle cx="117.4" cy="109.2" r="0.8" fill="#ffc070"/><circle cx="292.3" cy="250.6" r="0.7" fill="#400800"/><circle cx="124.8" cy="227.0" r="1.5" fill="#ff9850"/><circle cx="224.9" cy="148.0" r="1.4" fill="#501000"/><circle cx="66.1" cy="43.9" r="1.1" fill="#400800"/><circle cx="55.3" cy="231.7" r="0.9" fill="#ff9850"/><circle cx="124.2" cy="148.1" r="1.4" fill="#400800"/><circle cx="138.8" cy="140.4" r="1.3" fill="#501000"/><circle cx="65.8" cy="142.7" r="0.8" fill="#501000"/><circle cx="272.1" cy="267.5" r="0.8" fill="#ff9850"/><circle cx="164.6" cy="184.6" r="1.3" fill="#501000"/><circle cx="270.6" cy="195.1" r="1.1" fill="#501000"/><circle cx="60.5" cy="126.8" r="1.3" fill="#fff0c0"/><circle cx="238.7" cy="34.2" r="1.2" fill="#ffc070"/><circle cx="228.8" cy="106.9" r="1.2" fill="#ff9850"/><circle cx="148.3" cy="87.4" r="1.4" fill="#400800"/><circle cx="153.7" cy="112.5" r="1.5" fill="#fff0c0"/><circle cx="162.5" cy="167.3" r="0.9" fill="#fff0c0"/><circle cx="239.9" cy="254.3" r="1.1" fill="#400800"/><circle cx="299.1" cy="180.6" r="1.4" fill="#501000"/><circle cx="144.7" cy="77.7" r="1.4" fill="#ffc070"/><circle cx="287.9" cy="151.7" r="1.0" fill="#ff9850"/><circle cx="104.9" cy="91.3" r="1.4" fill="#400800"/><circle cx="227.5" cy="275.9" r="1.0" fill="#ff9850"/><circle cx="84.4" cy="216.7" r="1.3" fill="#501000"/><circle cx="217.7" cy="40.4" r="1.5" fill="#fff0c0"/><circle cx="194.5" cy="28.7" r="1.2" fill="#501000"/><circle cx="283.4" cy="269.7" r="0.9" fill="#501000"/><circle cx="124.1" cy="251.6" r="1.0" fill="#501000"/><circle cx="206.3" cy="127.0" r="0.8" fill="#501000"/><circle cx="99.2" cy="258.8" r="1.4" fill="#400800"/><circle cx="247.9" cy="171.1" r="1.4" fill="#ffc070"/><circle cx="213.5" cy="39.4" r="1.4" fill="#ffc070"/><circle cx="259.8" cy="90.8" r="1.0" fill="#501000"/><circle cx="267.1" cy="60.2" r="1.3" fill="#ff9850"/><circle cx="220.8" cy="40.0" r="1.5" fill="#ffc070"/><circle cx="277.8" cy="61.6" r="1.3" fill="#ff9850"/><circle cx="50.2" cy="248.8" r="1.6" fill="#ff9850"/><circle cx="296.2" cy="146.4" r="1.4" fill="#400800"/><circle cx="275.3" cy="80.8" r="1.0" fill="#501000"/><circle cx="54.5" cy="56.3" r="1.5" fill="#fff0c0"/><circle cx="44.0" cy="120.7" r="0.8" fill="#ff9850"/><circle cx="240.1" cy="76.8" r="1.3" fill="#400800"/><circle cx="122.3" cy="148.0" r="1.0" fill="#400800"/><circle cx="210.3" cy="255.1" r="1.0" fill="#400800"/><circle cx="131.5" cy="240.8" r="1.2" fill="#501000"/><circle cx="66.0" cy="176.4" r="0.8" fill="#ff9850"/><circle cx="159.2" cy="29.0" r="0.9" fill="#ffc070"/><circle cx="136.3" cy="119.0" r="1.3" fill="#fff0c0"/><circle cx="192.7" cy="144.2" r="1.1" fill="#ff9850"/><circle cx="233.6" cy="135.9" r="0.9" fill="#fff0c0"/><circle cx="116.7" cy="157.9" r="0.8" fill="#501000"/><circle cx="254.5" cy="180.6" r="0.9" fill="#fff0c0"/><circle cx="279.0" cy="280.1" r="0.8" fill="#400800"/><circle cx="211.5" cy="45.7" r="0.9" fill="#400800"/><circle cx="119.7" cy="110.2" r="1.1" fill="#ffc070"/><circle cx="243.1" cy="28.8" r="1.2" fill="#ffc070"/><circle cx="140.6" cy="238.9" r="0.9" fill="#ffc070"/><circle cx="286.4" cy="167.2" r="1.5" fill="#fff0c0"/><circle cx="136.1" cy="262.5" r="1.2" fill="#ffc070"/><circle cx="284.0" cy="243.9" r="1.2" fill="#ffc070"/><circle cx="292.5" cy="169.4" r="0.8" fill="#ffc070"/><circle cx="157.1" cy="33.8" r="1.2" fill="#ffc070"/><circle cx="108.0" cy="96.7" r="0.9" fill="#400800"/><circle cx="209.2" cy="39.9" r="1.4" fill="#fff0c0"/><circle cx="284.5" cy="68.3" r="1.2" fill="#ffc070"/><circle cx="100.6" cy="236.4" r="1.2" fill="#ffc070"/><circle cx="284.7" cy="77.7" r="1.3" fill="#ff9850"/><circle cx="67.1" cy="144.4" r="1.3" fill="#ff9850"/><circle cx="111.7" cy="240.6" r="0.7" fill="#ff9850"/><circle cx="295.7" cy="139.3" r="1.5" fill="#fff0c0"/><circle cx="283.0" cy="169.2" r="0.8" fill="#400800"/><circle cx="163.0" cy="189.5" r="1.0" fill="#ff9850"/><circle cx="247.0" cy="88.8" r="0.9" fill="#ffc070"/><circle cx="275.2" cy="117.3" r="1.0" fill="#400800"/><circle cx="81.4" cy="81.9" r="0.8" fill="#fff0c0"/><circle cx="198.6" cy="57.9" r="0.9" fill="#501000"/><circle cx="168.4" cy="138.6" r="1.1" fill="#ff9850"/><circle cx="295.9" cy="146.7" r="1.1" fill="#ffc070"/><circle cx="176.5" cy="154.0" r="0.8" fill="#ffc070"/><circle cx="229.2" cy="273.6" r="0.8" fill="#400800"/><circle cx="238.1" cy="111.9" r="1.3" fill="#400800"/><circle cx="164.5" cy="239.7" r="0.7" fill="#ff9850"/><circle cx="269.8" cy="212.5" r="1.2" fill="#501000"/><circle cx="232.2" cy="199.7" r="1.3" fill="#400800"/><circle cx="79.9" cy="193.0" r="1.6" fill="#fff0c0"/><circle cx="76.8" cy="119.7" r="1.4" fill="#400800"/><circle cx="198.7" cy="199.4" r="1.4" fill="#501000"/><circle cx="79.9" cy="167.3" r="1.0" fill="#ffc070"/><circle cx="74.3" cy="257.5" r="1.3" fill="#fff0c0"/><circle cx="258.0" cy="138.8" r="1.0" fill="#501000"/><circle cx="282.3" cy="115.6" r="1.4" fill="#ff9850"/><circle cx="126.1" cy="266.1" r="1.0" fill="#fff0c0"/><circle cx="143.1" cy="181.9" r="0.7" fill="#501000"/><circle cx="256.2" cy="43.2" r="0.7" fill="#ff9850"/><circle cx="281.2" cy="99.7" r="0.8" fill="#400800"/><circle cx="226.0" cy="31.6" r="0.9" fill="#ffc070"/><circle cx="238.9" cy="62.0" r="0.9" fill="#501000"/><circle cx="52.8" cy="93.5" r="1.6" fill="#fff0c0"/><circle cx="187.9" cy="262.0" r="1.4" fill="#fff0c0"/><circle cx="77.7" cy="240.4" r="1.4" fill="#fff0c0"/><circle cx="272.3" cy="124.8" r="1.3" fill="#fff0c0"/><circle cx="231.2" cy="71.9" r="1.6" fill="#ffc070"/><circle cx="47.4" cy="40.3" r="0.7" fill="#fff0c0"/><circle cx="126.8" cy="203.8" r="0.8" fill="#ffc070"/><circle cx="81.4" cy="72.3" r="1.0" fill="#ff9850"/><circle cx="294.9" cy="76.7" r="1.6" fill="#fff0c0"/><circle cx="156.0" cy="126.1" r="1.1" fill="#501000"/><circle cx="169.4" cy="32.3" r="0.8" fill="#ffc070"/><circle cx="281.6" cy="229.2" r="1.1" fill="#fff0c0"/><circle cx="207.5" cy="257.8" r="1.2" fill="#400800"/><circle cx="279.3" cy="29.5" r="1.5" fill="#400800"/><circle cx="201.7" cy="112.3" r="1.2" fill="#400800"/><circle cx="77.4" cy="38.3" r="1.2" fill="#ff9850"/><circle cx="173.1" cy="202.2" r="1.3" fill="#ffc070"/><circle cx="38.3" cy="231.3" r="1.5" fill="#ff9850"/><circle cx="268.4" cy="118.7" r="1.2" fill="#ffc070"/><circle cx="236.6" cy="130.6" r="1.6" fill="#400800"/><circle cx="291.5" cy="183.5" r="1.5" fill="#501000"/><circle cx="89.3" cy="280.3" r="1.4" fill="#ffc070"/><circle cx="252.9" cy="236.2" r="1.3" fill="#ff9850"/><circle cx="124.2" cy="219.9" r="1.4" fill="#501000"/><circle cx="129.3" cy="172.8" r="1.1" fill="#ff9850"/><circle cx="112.4" cy="262.3" r="1.1" fill="#fff0c0"/><circle cx="264.0" cy="37.9" r="1.4" fill="#400800"/><circle cx="194.1" cy="258.2" r="1.2" fill="#ff9850"/><circle cx="230.2" cy="27.1" r="1.4" fill="#ff9850"/><circle cx="65.2" cy="96.8" r="1.2" fill="#fff0c0"/><circle cx="156.3" cy="251.9" r="0.8" fill="#501000"/><circle cx="160.0" cy="120.3" r="1.1" fill="#fff0c0"/><circle cx="234.8" cy="80.9" r="1.0" fill="#501000"/><circle cx="138.5" cy="261.5" r="1.6" fill="#ff9850"/><circle cx="153.9" cy="172.4" r="1.1" fill="#501000"/><circle cx="273.6" cy="128.7" r="1.6" fill="#400800"/><circle cx="49.7" cy="240.1" r="0.7" fill="#501000"/><circle cx="307.8" cy="164.5" r="1.0" fill="#ffc070"/><circle cx="270.3" cy="245.6" r="1.4" fill="#501000"/><circle cx="46.1" cy="148.3" r="0.8" fill="#fff0c0"/><circle cx="253.8" cy="252.2" r="1.1" fill="#ffc070"/><circle cx="165.5" cy="210.0" r="1.0" fill="#501000"/><circle cx="292.6" cy="73.4" r="1.3" fill="#ffc070"/><circle cx="244.6" cy="191.1" r="0.9" fill="#ff9850"/><circle cx="82.0" cy="258.0" r="1.1" fill="#ffc070"/><circle cx="252.3" cy="90.0" r="0.9" fill="#fff0c0"/><circle cx="285.4" cy="182.9" r="1.3" fill="#fff0c0"/><circle cx="183.0" cy="244.8" r="0.9" fill="#400800"/><circle cx="151.1" cy="146.2" r="1.3" fill="#501000"/><circle cx="241.1" cy="85.4" r="1.1" fill="#400800"/><circle cx="182.2" cy="76.2" r="0.8" fill="#501000"/><circle cx="224.4" cy="167.9" r="1.5" fill="#400800"/><circle cx="287.7" cy="256.1" r="1.1" fill="#400800"/><circle cx="110.4" cy="120.1" r="1.1" fill="#ff9850"/><circle cx="303.9" cy="110.1" r="1.5" fill="#501000"/><circle cx="137.7" cy="271.7" r="1.1" fill="#ffc070"/><circle cx="114.4" cy="110.5" r="1.2" fill="#ff9850"/><circle cx="123.0" cy="33.3" r="1.1" fill="#ffc070"/><circle cx="299.2" cy="142.5" r="1.2" fill="#501000"/><circle cx="296.8" cy="201.5" r="1.1" fill="#501000"/><circle cx="291.7" cy="76.6" r="1.0" fill="#ffc070"/><circle cx="202.7" cy="102.9" r="1.3" fill="#ffc070"/><circle cx="197.7" cy="133.6" r="1.2" fill="#ffc070"/><circle cx="93.4" cy="155.9" r="1.4" fill="#fff0c0"/><circle cx="102.0" cy="54.3" r="1.5" fill="#501000"/><circle cx="308.8" cy="199.6" r="0.9" fill="#fff0c0"/><circle cx="304.1" cy="48.4" r="1.0" fill="#501000"/><circle cx="192.8" cy="28.3" r="1.0" fill="#400800"/><circle cx="231.6" cy="162.4" r="0.7" fill="#ffc070"/><circle cx="92.5" cy="71.9" r="0.8" fill="#ffc070"/><circle cx="292.4" cy="94.5" r="1.6" fill="#ff9850"/><circle cx="221.9" cy="124.3" r="0.8" fill="#fff0c0"/><circle cx="264.5" cy="277.2" r="1.4" fill="#fff0c0"/><circle cx="281.5" cy="157.7" r="1.0" fill="#400800"/><circle cx="218.3" cy="270.1" r="1.6" fill="#fff0c0"/><circle cx="207.8" cy="193.3" r="1.0" fill="#ffc070"/><circle cx="137.1" cy="60.1" r="0.9" fill="#501000"/><circle cx="75.8" cy="66.5" r="0.8" fill="#ffc070"/><circle cx="255.3" cy="57.9" r="1.2" fill="#501000"/><circle cx="194.4" cy="169.5" r="1.1" fill="#400800"/><circle cx="242.5" cy="212.2" r="1.1" fill="#ffc070"/><circle cx="101.9" cy="219.7" r="1.5" fill="#ffc070"/><circle cx="134.9" cy="224.0" r="1.2" fill="#400800"/><circle cx="154.6" cy="148.0" r="0.9" fill="#fff0c0"/><circle cx="220.6" cy="239.7" r="1.6" fill="#400800"/><circle cx="102.4" cy="35.6" r="0.9" fill="#ffc070"/><circle cx="108.2" cy="224.1" r="1.0" fill="#fff0c0"/><circle cx="58.6" cy="219.2" r="1.2" fill="#fff0c0"/><circle cx="293.6" cy="88.6" r="0.9" fill="#ffc070"/><circle cx="155.4" cy="264.5" r="1.3" fill="#fff0c0"/><circle cx="154.5" cy="68.5" r="1.1" fill="#fff0c0"/><circle cx="308.2" cy="214.1" r="1.4" fill="#ffc070"/><circle cx="253.5" cy="98.9" r="1.0" fill="#fff0c0"/><circle cx="65.1" cy="216.1" r="1.2" fill="#ffc070"/><circle cx="83.1" cy="197.4" r="0.9" fill="#400800"/><circle cx="161.4" cy="87.5" r="0.7" fill="#400800"/><circle cx="98.0" cy="128.0" r="1.1" fill="#ffc070"/><circle cx="183.9" cy="99.6" r="1.0" fill="#501000"/><circle cx="109.9" cy="197.7" r="0.7" fill="#ffc070"/><circle cx="151.1" cy="242.2" r="0.8" fill="#fff0c0"/><circle cx="56.3" cy="165.0" r="1.5" fill="#501000"/><circle cx="64.4" cy="154.6" r="0.9" fill="#400800"/><circle cx="64.2" cy="262.8" r="1.4" fill="#ff9850"/><circle cx="117.0" cy="265.1" r="0.8" fill="#400800"/><circle cx="55.4" cy="138.0" r="1.3" fill="#fff0c0"/><circle cx="195.4" cy="275.9" r="1.4" fill="#fff0c0"/><circle cx="253.6" cy="45.2" r="0.9" fill="#501000"/><circle cx="97.6" cy="268.8" r="1.0" fill="#501000"/><circle cx="227.6" cy="119.9" r="0.8" fill="#501000"/><circle cx="157.0" cy="72.0" r="0.8" fill="#ffc070"/><circle cx="236.0" cy="247.4" r="1.3" fill="#ffc070"/><circle cx="108.4" cy="55.9" r="0.8" fill="#400800"/><circle cx="97.6" cy="65.2" r="0.8" fill="#501000"/><circle cx="120.9" cy="177.1" r="1.5" fill="#ff9850"/><circle cx="198.2" cy="274.2" r="1.2" fill="#ff9850"/><circle cx="122.3" cy="78.3" r="0.8" fill="#501000"/><circle cx="134.2" cy="169.1" r="1.3" fill="#ffc070"/><circle cx="217.7" cy="58.9" r="1.1" fill="#fff0c0"/><circle cx="219.0" cy="73.5" r="1.0" fill="#ff9850"/><circle cx="69.6" cy="186.9" r="1.4" fill="#400800"/><circle cx="178.8" cy="89.7" r="1.2" fill="#ff9850"/><circle cx="186.1" cy="101.0" r="1.4" fill="#fff0c0"/><circle cx="169.2" cy="213.2" r="1.4" fill="#ffc070"/><circle cx="273.2" cy="207.6" r="1.0" fill="#400800"/><circle cx="243.8" cy="213.7" r="1.4" fill="#ffc070"/><circle cx="306.4" cy="136.6" r="1.3" fill="#501000"/><circle cx="227.0" cy="95.8" r="1.0" fill="#fff0c0"/><circle cx="149.2" cy="138.0" r="1.2" fill="#ff9850"/><circle cx="220.6" cy="273.4" r="1.0" fill="#ffc070"/><circle cx="166.4" cy="210.2" r="1.1" fill="#ffc070"/><circle cx="138.2" cy="95.1" r="0.7" fill="#400800"/><circle cx="72.9" cy="112.8" r="1.5" fill="#400800"/><circle cx="157.4" cy="133.8" r="0.8" fill="#501000"/><circle cx="212.7" cy="208.5" r="1.0" fill="#501000"/><circle cx="289.6" cy="244.3" r="0.7" fill="#501000"/><circle cx="84.4" cy="39.8" r="0.9" fill="#400800"/><circle cx="248.7" cy="121.9" r="0.8" fill="#fff0c0"/><circle cx="111.4" cy="156.7" r="1.6" fill="#ff9850"/><circle cx="307.4" cy="126.3" r="1.0" fill="#ffc070"/><circle cx="40.0" cy="121.2" r="1.0" fill="#501000"/><circle cx="223.2" cy="185.9" r="0.9" fill="#ffc070"/><circle cx="195.8" cy="172.6" r="1.0" fill="#ffc070"/><circle cx="91.9" cy="245.0" r="0.9" fill="#ffc070"/><circle cx="197.6" cy="173.1" r="0.8" fill="#501000"/><circle cx="193.6" cy="158.1" r="0.8" fill="#ff9850"/><circle cx="163.1" cy="86.8" r="1.0" fill="#400800"/><circle cx="151.1" cy="119.0" r="0.8" fill="#ffc070"/><circle cx="307.3" cy="87.5" r="0.9" fill="#400800"/><circle cx="197.9" cy="122.6" r="1.2" fill="#fff0c0"/><circle cx="187.7" cy="103.8" r="1.4" fill="#400800"/><circle cx="168.3" cy="278.7" r="1.3" fill="#fff0c0"/><circle cx="163.6" cy="179.3" r="1.4" fill="#ffc070"/><circle cx="267.8" cy="166.4" r="0.8" fill="#400800"/><circle cx="299.0" cy="276.6" r="1.5" fill="#400800"/><circle cx="277.6" cy="105.5" r="1.3" fill="#ffc070"/><circle cx="55.5" cy="257.7" r="1.0" fill="#ffc070"/><circle cx="155.5" cy="156.0" r="1.5" fill="#501000"/><circle cx="132.3" cy="120.3" r="0.8" fill="#ffc070"/><circle cx="181.6" cy="55.2" r="1.5" fill="#501000"/><circle cx="94.4" cy="250.7" r="1.5" fill="#501000"/><circle cx="201.9" cy="169.2" r="1.0" fill="#501000"/><circle cx="60.1" cy="270.5" r="1.5" fill="#501000"/><circle cx="137.3" cy="278.0" r="0.8" fill="#501000"/><circle cx="221.7" cy="55.2" r="1.1" fill="#ffc070"/><circle cx="299.2" cy="118.4" r="0.7" fill="#400800"/><circle cx="310.6" cy="76.6" r="1.1" fill="#ff9850"/><circle cx="148.2" cy="85.6" r="0.8" fill="#400800"/><circle cx="288.2" cy="234.7" r="0.7" fill="#fff0c0"/><circle cx="97.2" cy="271.9" r="1.3" fill="#400800"/><circle cx="173.2" cy="146.9" r="1.2" fill="#ffc070"/><circle cx="55.5" cy="70.7" r="0.9" fill="#ffc070"/><circle cx="213.6" cy="60.9" r="1.4" fill="#ff9850"/><circle cx="217.5" cy="248.6" r="1.2" fill="#501000"/><circle cx="73.7" cy="149.7" r="0.8" fill="#ff9850"/><circle cx="112.0" cy="103.1" r="1.2" fill="#ffc070"/><circle cx="206.0" cy="225.7" r="1.5" fill="#ff9850"/><circle cx="221.1" cy="216.2" r="1.2" fill="#501000"/><circle cx="243.4" cy="119.2" r="1.2" fill="#400800"/><circle cx="82.0" cy="41.2" r="0.8" fill="#fff0c0"/><circle cx="208.2" cy="177.5" r="1.4" fill="#ff9850"/><circle cx="110.3" cy="242.5" r="1.5" fill="#ffc070"/><circle cx="297.2" cy="32.0" r="1.5" fill="#ff9850"/><circle cx="157.6" cy="238.5" r="1.2" fill="#400800"/><circle cx="273.3" cy="78.0" r="1.2" fill="#501000"/><circle cx="73.1" cy="121.4" r="0.7" fill="#fff0c0"/><circle cx="234.2" cy="39.0" r="1.3" fill="#501000"/><circle cx="119.4" cy="214.0" r="1.5" fill="#fff0c0"/><circle cx="308.2" cy="138.7" r="1.2" fill="#501000"/><circle cx="38.5" cy="41.1" r="0.9" fill="#501000"/><circle cx="62.1" cy="262.8" r="1.1" fill="#ff9850"/><circle cx="201.6" cy="252.1" r="1.3" fill="#400800"/><circle cx="164.1" cy="227.2" r="1.4" fill="#400800"/><circle cx="294.4" cy="82.4" r="1.4" fill="#501000"/><circle cx="264.8" cy="89.4" r="1.1" fill="#501000"/><circle cx="98.4" cy="81.6" r="1.1" fill="#501000"/><circle cx="132.3" cy="150.1" r="1.4" fill="#ff9850"/><circle cx="241.2" cy="250.2" r="1.1" fill="#501000"/><circle cx="80.8" cy="153.0" r="0.8" fill="#400800"/><circle cx="246.4" cy="134.8" r="1.1" fill="#ffc070"/><circle cx="175.9" cy="227.5" r="1.3" fill="#ffc070"/><circle cx="105.2" cy="172.2" r="0.9" fill="#fff0c0"/><circle cx="132.5" cy="57.0" r="1.0" fill="#501000"/><circle cx="195.5" cy="81.7" r="1.4" fill="#400800"/><circle cx="276.0" cy="103.5" r="1.2" fill="#ffc070"/><circle cx="201.8" cy="186.3" r="1.3" fill="#ffc070"/><circle cx="83.6" cy="198.1" r="1.4" fill="#fff0c0"/><circle cx="222.8" cy="234.7" r="1.5" fill="#400800"/><circle cx="232.5" cy="137.8" r="0.8" fill="#fff0c0"/><circle cx="84.2" cy="255.6" r="0.9" fill="#501000"/><circle cx="274.4" cy="125.3" r="0.8" fill="#ffc070"/><circle cx="234.8" cy="241.2" r="1.1" fill="#ffc070"/><circle cx="184.3" cy="138.6" r="1.1" fill="#ff9850"/><circle cx="64.2" cy="277.0" r="1.1" fill="#ffc070"/><circle cx="280.7" cy="191.4" r="1.2" fill="#fff0c0"/><circle cx="96.6" cy="226.0" r="1.3" fill="#501000"/><circle cx="199.9" cy="266.5" r="1.3" fill="#ffc070"/><circle cx="138.8" cy="148.9" r="1.6" fill="#fff0c0"/><circle cx="80.2" cy="104.6" r="1.2" fill="#501000"/><circle cx="237.9" cy="51.9" r="1.5" fill="#ff9850"/><circle cx="50.8" cy="89.6" r="0.9" fill="#fff0c0"/><circle cx="265.4" cy="93.3" r="0.9" fill="#ffc070"/><circle cx="119.2" cy="144.1" r="0.9" fill="#501000"/><circle cx="277.7" cy="131.9" r="1.5" fill="#ffc070"/><circle cx="68.4" cy="217.9" r="1.3" fill="#400800"/><circle cx="250.8" cy="280.9" r="1.0" fill="#ffc070"/><circle cx="122.9" cy="125.4" r="1.1" fill="#ff9850"/><circle cx="122.6" cy="44.6" r="1.4" fill="#ff9850"/><circle cx="222.4" cy="175.7" r="1.4" fill="#ff9850"/><circle cx="167.4" cy="71.6" r="1.5" fill="#400800"/><circle cx="261.9" cy="80.0" r="1.2" fill="#fff0c0"/><circle cx="163.4" cy="173.2" r="1.6" fill="#ffc070"/><circle cx="176.4" cy="56.3" r="1.5" fill="#501000"/><circle cx="155.1" cy="28.3" r="1.3" fill="#501000"/><circle cx="210.2" cy="241.8" r="1.4" fill="#400800"/><circle cx="276.7" cy="137.1" r="0.8" fill="#ffc070"/><circle cx="144.7" cy="26.7" r="0.7" fill="#501000"/><circle cx="158.0" cy="109.2" r="0.9" fill="#ff9850"/><circle cx="55.6" cy="38.4" r="1.0" fill="#fff0c0"/><circle cx="253.6" cy="104.3" r="1.3" fill="#ff9850"/><circle cx="81.5" cy="49.5" r="1.6" fill="#fff0c0"/><circle cx="118.9" cy="225.5" r="1.3" fill="#501000"/></g><g><circle cx="205.8" cy="189.0" r="1.2" fill="#ffb890" opacity="0.17"/><circle cx="164.1" cy="150.7" r="0.9" fill="#3a0600" opacity="0.38"/><circle cx="141.1" cy="77.2" r="1.5" fill="#3a0600" opacity="0.24"/><circle cx="179.2" cy="168.4" r="1.0" fill="#ffb890" opacity="0.28"/><circle cx="108.9" cy="262.6" r="1.2" fill="#3a0600" opacity="0.30"/><circle cx="136.0" cy="180.4" r="0.9" fill="#3a0600" opacity="0.22"/><circle cx="266.6" cy="57.4" r="0.9" fill="#3a0600" opacity="0.30"/><circle cx="218.8" cy="228.2" r="0.9" fill="#ffb890" opacity="0.30"/><circle cx="65.0" cy="230.9" r="1.3" fill="#3a0600" opacity="0.35"/><circle cx="259.1" cy="119.2" r="0.7" fill="#ffb890" opacity="0.16"/><circle cx="175.0" cy="189.4" r="1.0" fill="#ffb890" opacity="0.27"/><circle cx="56.3" cy="100.1" r="0.9" fill="#ffb890" opacity="0.27"/><circle cx="122.7" cy="272.9" r="1.8" fill="#3a0600" opacity="0.29"/><circle cx="216.8" cy="104.2" r="0.9" fill="#3a0600" opacity="0.26"/><circle cx="193.8" cy="81.0" r="1.2" fill="#ffb890" opacity="0.29"/><circle cx="116.3" cy="173.1" r="1.3" fill="#3a0600" opacity="0.23"/><circle cx="187.8" cy="189.4" r="0.9" fill="#3a0600" opacity="0.28"/><circle cx="130.3" cy="120.4" r="1.6" fill="#3a0600" opacity="0.22"/><circle cx="121.4" cy="89.3" r="1.0" fill="#ffb890" opacity="0.27"/><circle cx="200.9" cy="87.7" r="1.3" fill="#3a0600" opacity="0.39"/><circle cx="271.7" cy="231.2" r="1.3" fill="#3a0600" opacity="0.18"/><circle cx="258.9" cy="29.9" r="1.5" fill="#3a0600" opacity="0.24"/><circle cx="226.0" cy="264.0" r="1.0" fill="#3a0600" opacity="0.31"/><circle cx="119.3" cy="231.1" r="1.4" fill="#3a0600" opacity="0.28"/><circle cx="152.0" cy="255.4" r="0.9" fill="#ffb890" opacity="0.29"/><circle cx="90.6" cy="196.6" r="1.8" fill="#3a0600" opacity="0.22"/><circle cx="217.4" cy="128.4" r="1.2" fill="#3a0600" opacity="0.19"/><circle cx="177.4" cy="112.4" r="0.8" fill="#3a0600" opacity="0.17"/><circle cx="224.1" cy="45.5" r="1.0" fill="#3a0600" opacity="0.24"/><circle cx="251.1" cy="254.4" r="1.1" fill="#3a0600" opacity="0.30"/><circle cx="306.6" cy="253.9" r="1.3" fill="#3a0600" opacity="0.19"/><circle cx="61.3" cy="254.4" r="1.3" fill="#3a0600" opacity="0.37"/><circle cx="180.7" cy="62.7" r="1.8" fill="#3a0600" opacity="0.35"/><circle cx="302.9" cy="99.9" r="1.0" fill="#3a0600" opacity="0.38"/><circle cx="297.1" cy="82.3" r="1.2" fill="#3a0600" opacity="0.31"/><circle cx="252.5" cy="50.0" r="0.9" fill="#ffb890" opacity="0.20"/><circle cx="199.6" cy="144.3" r="1.5" fill="#3a0600" opacity="0.17"/><circle cx="159.9" cy="80.5" r="1.4" fill="#3a0600" opacity="0.16"/><circle cx="268.0" cy="221.7" r="1.4" fill="#3a0600" opacity="0.30"/><circle cx="279.3" cy="150.2" r="1.2" fill="#3a0600" opacity="0.37"/><circle cx="163.8" cy="114.5" r="0.9" fill="#3a0600" opacity="0.40"/><circle cx="252.4" cy="195.9" r="1.2" fill="#3a0600" opacity="0.20"/><circle cx="116.4" cy="200.8" r="1.3" fill="#3a0600" opacity="0.28"/><circle cx="47.5" cy="91.1" r="1.3" fill="#ffb890" opacity="0.20"/><circle cx="112.1" cy="136.1" r="1.2" fill="#3a0600" opacity="0.27"/><circle cx="192.3" cy="261.5" r="0.7" fill="#ffb890" opacity="0.17"/><circle cx="240.6" cy="199.4" r="0.7" fill="#ffb890" opacity="0.19"/><circle cx="219.9" cy="74.1" r="1.5" fill="#3a0600" opacity="0.27"/><circle cx="49.7" cy="240.4" r="0.6" fill="#ffb890" opacity="0.24"/><circle cx="55.4" cy="33.9" r="1.1" fill="#ffb890" opacity="0.25"/><circle cx="60.6" cy="85.4" r="0.9" fill="#3a0600" opacity="0.25"/><circle cx="130.0" cy="187.4" r="0.9" fill="#3a0600" opacity="0.37"/><circle cx="39.6" cy="35.5" r="0.9" fill="#ffb890" opacity="0.19"/><circle cx="307.4" cy="32.9" r="1.2" fill="#ffb890" opacity="0.32"/><circle cx="171.2" cy="152.2" r="0.9" fill="#3a0600" opacity="0.24"/><circle cx="123.5" cy="271.4" r="0.9" fill="#ffb890" opacity="0.34"/><circle cx="173.9" cy="160.9" r="0.9" fill="#3a0600" opacity="0.31"/><circle cx="173.5" cy="136.7" r="0.8" fill="#3a0600" opacity="0.33"/><circle cx="165.7" cy="222.3" r="0.8" fill="#ffb890" opacity="0.27"/><circle cx="152.4" cy="178.6" r="0.6" fill="#ffb890" opacity="0.24"/><circle cx="282.9" cy="116.0" r="0.9" fill="#3a0600" opacity="0.31"/><circle cx="202.3" cy="39.4" r="1.0" fill="#3a0600" opacity="0.36"/><circle cx="146.5" cy="253.1" r="1.1" fill="#ffb890" opacity="0.24"/><circle cx="278.9" cy="188.4" r="0.9" fill="#3a0600" opacity="0.33"/><circle cx="120.3" cy="257.0" r="1.1" fill="#3a0600" opacity="0.32"/><circle cx="77.5" cy="207.7" r="1.1" fill="#ffb890" opacity="0.20"/><circle cx="286.4" cy="68.2" r="1.5" fill="#3a0600" opacity="0.36"/><circle cx="241.3" cy="209.8" r="1.1" fill="#ffb890" opacity="0.27"/><circle cx="75.9" cy="232.2" r="0.7" fill="#ffb890" opacity="0.24"/><circle cx="279.8" cy="269.6" r="1.2" fill="#3a0600" opacity="0.36"/><circle cx="300.6" cy="100.0" r="1.3" fill="#3a0600" opacity="0.35"/><circle cx="51.4" cy="57.3" r="0.6" fill="#ffb890" opacity="0.32"/><circle cx="223.8" cy="217.2" r="0.9" fill="#3a0600" opacity="0.24"/><circle cx="292.0" cy="164.7" r="1.7" fill="#3a0600" opacity="0.36"/><circle cx="162.9" cy="218.2" r="1.6" fill="#3a0600" opacity="0.18"/><circle cx="280.1" cy="65.4" r="1.7" fill="#3a0600" opacity="0.16"/><circle cx="287.1" cy="92.1" r="0.7" fill="#ffb890" opacity="0.24"/><circle cx="179.9" cy="232.6" r="1.3" fill="#ffb890" opacity="0.18"/><circle cx="87.7" cy="206.8" r="0.9" fill="#3a0600" opacity="0.32"/><circle cx="159.8" cy="232.3" r="0.7" fill="#ffb890" opacity="0.27"/><circle cx="138.9" cy="64.9" r="0.6" fill="#ffb890" opacity="0.32"/><circle cx="92.3" cy="104.4" r="1.1" fill="#3a0600" opacity="0.34"/><circle cx="289.1" cy="199.7" r="1.0" fill="#ffb890" opacity="0.24"/><circle cx="62.4" cy="128.9" r="1.0" fill="#3a0600" opacity="0.38"/><circle cx="38.8" cy="258.7" r="0.9" fill="#3a0600" opacity="0.26"/><circle cx="51.4" cy="267.5" r="0.7" fill="#ffb890" opacity="0.23"/><circle cx="92.1" cy="176.5" r="1.1" fill="#3a0600" opacity="0.26"/><circle cx="136.2" cy="243.8" r="0.6" fill="#ffb890" opacity="0.23"/><circle cx="117.0" cy="56.0" r="1.2" fill="#3a0600" opacity="0.20"/><circle cx="276.9" cy="229.6" r="1.4" fill="#3a0600" opacity="0.17"/><circle cx="69.5" cy="42.0" r="1.2" fill="#3a0600" opacity="0.27"/><circle cx="145.2" cy="85.3" r="1.0" fill="#ffb890" opacity="0.25"/><circle cx="89.3" cy="27.6" r="1.2" fill="#ffb890" opacity="0.34"/><circle cx="131.0" cy="190.2" r="1.5" fill="#3a0600" opacity="0.17"/><circle cx="144.5" cy="65.9" r="0.9" fill="#3a0600" opacity="0.23"/><circle cx="264.5" cy="99.7" r="1.1" fill="#ffb890" opacity="0.27"/><circle cx="204.7" cy="185.0" r="1.1" fill="#3a0600" opacity="0.28"/><circle cx="41.3" cy="207.6" r="0.8" fill="#ffb890" opacity="0.26"/><circle cx="173.2" cy="250.3" r="0.9" fill="#ffb890" opacity="0.15"/><circle cx="309.8" cy="212.5" r="1.1" fill="#ffb890" opacity="0.17"/><circle cx="211.5" cy="280.0" r="1.0" fill="#3a0600" opacity="0.24"/><circle cx="218.4" cy="201.6" r="1.2" fill="#3a0600" opacity="0.25"/><circle cx="98.9" cy="105.0" r="1.5" fill="#3a0600" opacity="0.34"/><circle cx="293.5" cy="195.3" r="1.4" fill="#3a0600" opacity="0.21"/><circle cx="208.7" cy="155.9" r="0.8" fill="#ffb890" opacity="0.23"/><circle cx="310.9" cy="213.2" r="1.3" fill="#3a0600" opacity="0.28"/><circle cx="218.3" cy="234.2" r="1.1" fill="#3a0600" opacity="0.17"/><circle cx="96.0" cy="153.6" r="1.7" fill="#3a0600" opacity="0.25"/><circle cx="58.0" cy="213.4" r="1.0" fill="#3a0600" opacity="0.17"/><circle cx="78.9" cy="161.1" r="0.9" fill="#ffb890" opacity="0.18"/><circle cx="126.0" cy="135.6" r="0.9" fill="#3a0600" opacity="0.23"/><circle cx="273.0" cy="129.2" r="0.9" fill="#ffb890" opacity="0.35"/><circle cx="110.2" cy="145.7" r="1.6" fill="#3a0600" opacity="0.39"/><circle cx="283.9" cy="220.3" r="1.5" fill="#3a0600" opacity="0.35"/><circle cx="245.9" cy="42.7" r="1.2" fill="#3a0600" opacity="0.22"/><circle cx="101.7" cy="233.1" r="1.2" fill="#3a0600" opacity="0.30"/><circle cx="124.4" cy="28.4" r="0.9" fill="#ffb890" opacity="0.28"/><circle cx="138.9" cy="153.8" r="1.0" fill="#3a0600" opacity="0.20"/><circle cx="210.6" cy="169.6" r="1.2" fill="#3a0600" opacity="0.32"/><circle cx="289.2" cy="47.2" r="1.0" fill="#ffb890" opacity="0.30"/><circle cx="198.4" cy="203.3" r="1.1" fill="#ffb890" opacity="0.25"/><circle cx="156.3" cy="192.1" r="1.0" fill="#3a0600" opacity="0.40"/><circle cx="165.7" cy="253.5" r="1.6" fill="#3a0600" opacity="0.32"/><circle cx="117.0" cy="202.2" r="1.6" fill="#3a0600" opacity="0.35"/><circle cx="208.0" cy="242.6" r="1.3" fill="#3a0600" opacity="0.20"/><circle cx="285.7" cy="278.9" r="0.8" fill="#3a0600" opacity="0.22"/><circle cx="287.8" cy="75.4" r="1.2" fill="#3a0600" opacity="0.22"/><circle cx="139.3" cy="176.8" r="0.8" fill="#ffb890" opacity="0.30"/><circle cx="150.3" cy="190.5" r="1.7" fill="#3a0600" opacity="0.34"/><circle cx="222.9" cy="261.7" r="1.5" fill="#3a0600" opacity="0.39"/><circle cx="236.7" cy="82.9" r="1.6" fill="#3a0600" opacity="0.35"/><circle cx="109.1" cy="113.6" r="1.1" fill="#ffb890" opacity="0.21"/><circle cx="177.5" cy="270.2" r="1.2" fill="#3a0600" opacity="0.31"/><circle cx="130.8" cy="156.1" r="0.9" fill="#3a0600" opacity="0.38"/><circle cx="173.7" cy="119.7" r="1.6" fill="#3a0600" opacity="0.16"/><circle cx="152.3" cy="185.5" r="1.0" fill="#3a0600" opacity="0.27"/><circle cx="286.9" cy="88.5" r="1.5" fill="#3a0600" opacity="0.21"/><circle cx="104.9" cy="89.2" r="1.3" fill="#3a0600" opacity="0.18"/><circle cx="223.5" cy="152.5" r="0.9" fill="#ffb890" opacity="0.16"/><circle cx="219.2" cy="85.0" r="1.3" fill="#3a0600" opacity="0.16"/><circle cx="131.2" cy="47.9" r="1.3" fill="#3a0600" opacity="0.28"/><circle cx="280.3" cy="270.1" r="1.0" fill="#ffb890" opacity="0.18"/><circle cx="140.0" cy="103.7" r="1.1" fill="#3a0600" opacity="0.17"/><circle cx="168.1" cy="227.0" r="1.6" fill="#3a0600" opacity="0.15"/><circle cx="171.6" cy="151.0" r="1.3" fill="#3a0600" opacity="0.39"/><circle cx="225.8" cy="143.9" r="0.8" fill="#ffb890" opacity="0.30"/><circle cx="129.3" cy="64.3" r="1.4" fill="#3a0600" opacity="0.31"/><circle cx="136.1" cy="46.0" r="1.3" fill="#3a0600" opacity="0.22"/><circle cx="208.3" cy="232.2" r="1.1" fill="#3a0600" opacity="0.24"/><circle cx="260.3" cy="238.7" r="1.0" fill="#3a0600" opacity="0.20"/><circle cx="131.3" cy="174.9" r="1.5" fill="#3a0600" opacity="0.17"/><circle cx="220.4" cy="161.3" r="0.6" fill="#ffb890" opacity="0.18"/><circle cx="181.3" cy="151.0" r="1.1" fill="#ffb890" opacity="0.20"/><circle cx="288.0" cy="131.1" r="1.3" fill="#3a0600" opacity="0.22"/><circle cx="163.4" cy="79.0" r="0.8" fill="#ffb890" opacity="0.16"/><circle cx="211.2" cy="198.7" r="1.3" fill="#3a0600" opacity="0.24"/><circle cx="283.0" cy="137.3" r="1.0" fill="#ffb890" opacity="0.35"/><circle cx="173.6" cy="175.6" r="1.2" fill="#ffb890" opacity="0.23"/><circle cx="74.3" cy="223.4" r="1.6" fill="#3a0600" opacity="0.25"/><circle cx="277.1" cy="154.9" r="0.8" fill="#ffb890" opacity="0.17"/><circle cx="68.6" cy="263.4" r="0.9" fill="#3a0600" opacity="0.36"/><circle cx="183.6" cy="72.9" r="0.9" fill="#3a0600" opacity="0.17"/><circle cx="100.4" cy="84.5" r="1.0" fill="#3a0600" opacity="0.17"/><circle cx="167.8" cy="248.6" r="1.2" fill="#ffb890" opacity="0.19"/><circle cx="148.8" cy="218.1" r="0.7" fill="#ffb890" opacity="0.29"/><circle cx="164.1" cy="146.4" r="1.4" fill="#3a0600" opacity="0.20"/><circle cx="128.6" cy="257.6" r="0.9" fill="#ffb890" opacity="0.17"/><circle cx="241.9" cy="111.6" r="1.7" fill="#3a0600" opacity="0.29"/><circle cx="77.6" cy="201.1" r="1.1" fill="#3a0600" opacity="0.15"/><circle cx="195.2" cy="133.8" r="1.1" fill="#3a0600" opacity="0.31"/><circle cx="55.3" cy="87.5" r="1.3" fill="#3a0600" opacity="0.19"/><circle cx="108.6" cy="102.2" r="0.9" fill="#ffb890" opacity="0.21"/><circle cx="68.3" cy="152.9" r="0.9" fill="#3a0600" opacity="0.16"/><circle cx="191.9" cy="64.7" r="1.5" fill="#3a0600" opacity="0.37"/><circle cx="221.6" cy="258.9" r="0.8" fill="#ffb890" opacity="0.28"/><circle cx="159.8" cy="237.3" r="1.2" fill="#ffb890" opacity="0.24"/><circle cx="69.0" cy="73.7" r="1.2" fill="#ffb890" opacity="0.22"/><circle cx="132.8" cy="235.3" r="1.1" fill="#ffb890" opacity="0.33"/><circle cx="302.3" cy="134.7" r="1.5" fill="#3a0600" opacity="0.26"/><circle cx="195.9" cy="227.8" r="1.1" fill="#ffb890" opacity="0.18"/><circle cx="227.7" cy="28.0" r="1.3" fill="#3a0600" opacity="0.33"/><circle cx="310.9" cy="176.4" r="1.0" fill="#3a0600" opacity="0.37"/><circle cx="61.7" cy="182.7" r="1.1" fill="#ffb890" opacity="0.25"/><circle cx="301.9" cy="212.0" r="1.7" fill="#3a0600" opacity="0.15"/><circle cx="105.6" cy="265.7" r="1.3" fill="#3a0600" opacity="0.36"/><circle cx="159.7" cy="108.4" r="1.7" fill="#3a0600" opacity="0.28"/><circle cx="77.8" cy="277.0" r="1.7" fill="#3a0600" opacity="0.32"/><circle cx="159.4" cy="211.8" r="1.5" fill="#3a0600" opacity="0.20"/><circle cx="203.6" cy="176.4" r="1.7" fill="#3a0600" opacity="0.33"/><circle cx="84.5" cy="235.6" r="1.7" fill="#3a0600" opacity="0.40"/><circle cx="79.4" cy="119.5" r="1.6" fill="#3a0600" opacity="0.31"/><circle cx="85.3" cy="260.6" r="1.0" fill="#3a0600" opacity="0.40"/><circle cx="263.3" cy="58.9" r="1.3" fill="#ffb890" opacity="0.31"/><circle cx="177.5" cy="178.9" r="1.4" fill="#3a0600" opacity="0.40"/><circle cx="247.9" cy="93.9" r="1.1" fill="#ffb890" opacity="0.19"/><circle cx="300.6" cy="49.4" r="1.1" fill="#3a0600" opacity="0.27"/><circle cx="200.9" cy="278.3" r="1.2" fill="#ffb890" opacity="0.29"/><circle cx="228.0" cy="39.9" r="1.0" fill="#ffb890" opacity="0.28"/><circle cx="193.9" cy="31.8" r="1.7" fill="#3a0600" opacity="0.17"/><circle cx="209.4" cy="247.5" r="1.3" fill="#3a0600" opacity="0.29"/><circle cx="258.0" cy="142.3" r="0.8" fill="#ffb890" opacity="0.35"/><circle cx="247.2" cy="127.8" r="1.1" fill="#ffb890" opacity="0.26"/><circle cx="231.3" cy="217.1" r="1.2" fill="#ffb890" opacity="0.27"/><circle cx="231.7" cy="108.9" r="1.4" fill="#3a0600" opacity="0.21"/><circle cx="250.4" cy="47.7" r="1.4" fill="#3a0600" opacity="0.31"/><circle cx="130.1" cy="94.9" r="1.2" fill="#ffb890" opacity="0.34"/><circle cx="178.4" cy="101.6" r="1.7" fill="#3a0600" opacity="0.29"/><circle cx="45.4" cy="120.2" r="0.9" fill="#3a0600" opacity="0.39"/><circle cx="151.9" cy="174.5" r="1.2" fill="#3a0600" opacity="0.17"/><circle cx="215.2" cy="240.2" r="0.9" fill="#3a0600" opacity="0.20"/><circle cx="120.4" cy="235.8" r="1.3" fill="#ffb890" opacity="0.25"/><circle cx="80.3" cy="254.3" r="1.0" fill="#ffb890" opacity="0.21"/><circle cx="85.1" cy="141.0" r="1.0" fill="#3a0600" opacity="0.23"/><circle cx="74.1" cy="109.0" r="1.2" fill="#3a0600" opacity="0.35"/><circle cx="182.0" cy="181.2" r="1.5" fill="#3a0600" opacity="0.17"/><circle cx="242.8" cy="167.8" r="1.2" fill="#ffb890" opacity="0.26"/><circle cx="204.0" cy="64.9" r="1.7" fill="#3a0600" opacity="0.15"/><circle cx="63.8" cy="72.1" r="0.9" fill="#ffb890" opacity="0.34"/><circle cx="108.2" cy="40.2" r="0.8" fill="#ffb890" opacity="0.17"/><circle cx="132.2" cy="192.8" r="0.9" fill="#ffb890" opacity="0.28"/><circle cx="49.0" cy="103.8" r="0.7" fill="#ffb890" opacity="0.21"/><circle cx="52.2" cy="208.1" r="1.5" fill="#3a0600" opacity="0.24"/><circle cx="188.8" cy="177.2" r="0.9" fill="#3a0600" opacity="0.17"/><circle cx="274.9" cy="186.9" r="1.1" fill="#ffb890" opacity="0.24"/><circle cx="48.0" cy="263.3" r="1.7" fill="#3a0600" opacity="0.20"/><circle cx="287.3" cy="163.8" r="1.0" fill="#3a0600" opacity="0.32"/><circle cx="298.3" cy="139.2" r="1.2" fill="#ffb890" opacity="0.15"/><circle cx="102.3" cy="83.7" r="1.1" fill="#ffb890" opacity="0.34"/><circle cx="140.4" cy="251.3" r="1.7" fill="#3a0600" opacity="0.36"/><circle cx="245.0" cy="173.5" r="1.2" fill="#ffb890" opacity="0.15"/><circle cx="266.2" cy="85.4" r="1.4" fill="#3a0600" opacity="0.35"/><circle cx="290.2" cy="34.9" r="0.9" fill="#3a0600" opacity="0.31"/><circle cx="72.4" cy="179.5" r="0.8" fill="#ffb890" opacity="0.28"/><circle cx="232.0" cy="274.4" r="1.0" fill="#ffb890" opacity="0.26"/><circle cx="39.5" cy="148.4" r="0.9" fill="#ffb890" opacity="0.26"/><circle cx="44.5" cy="152.3" r="0.9" fill="#ffb890" opacity="0.17"/><circle cx="146.7" cy="85.6" r="1.1" fill="#ffb890" opacity="0.24"/><circle cx="184.7" cy="242.3" r="1.0" fill="#ffb890" opacity="0.26"/><circle cx="184.8" cy="150.5" r="1.3" fill="#ffb890" opacity="0.19"/><circle cx="155.1" cy="131.8" r="1.5" fill="#3a0600" opacity="0.29"/><circle cx="288.9" cy="196.5" r="1.0" fill="#3a0600" opacity="0.21"/><circle cx="130.5" cy="128.7" r="0.8" fill="#3a0600" opacity="0.25"/><circle cx="289.0" cy="227.7" r="1.5" fill="#3a0600" opacity="0.34"/><circle cx="194.3" cy="187.6" r="1.3" fill="#3a0600" opacity="0.36"/><circle cx="146.9" cy="51.0" r="0.8" fill="#ffb890" opacity="0.28"/><circle cx="175.9" cy="33.1" r="1.3" fill="#ffb890" opacity="0.32"/><circle cx="100.3" cy="120.5" r="1.0" fill="#ffb890" opacity="0.22"/><circle cx="196.5" cy="260.2" r="1.6" fill="#3a0600" opacity="0.39"/><circle cx="279.2" cy="110.5" r="1.2" fill="#ffb890" opacity="0.18"/><circle cx="253.7" cy="31.9" r="1.2" fill="#ffb890" opacity="0.24"/><circle cx="306.3" cy="106.3" r="1.3" fill="#3a0600" opacity="0.15"/><circle cx="96.1" cy="130.7" r="1.1" fill="#3a0600" opacity="0.28"/><circle cx="57.6" cy="162.5" r="1.0" fill="#ffb890" opacity="0.16"/><circle cx="189.3" cy="207.7" r="1.4" fill="#3a0600" opacity="0.38"/><circle cx="244.5" cy="114.7" r="1.1" fill="#3a0600" opacity="0.15"/><circle cx="50.5" cy="41.0" r="1.3" fill="#3a0600" opacity="0.26"/><circle cx="199.8" cy="112.6" r="1.1" fill="#3a0600" opacity="0.17"/><circle cx="299.5" cy="216.0" r="1.2" fill="#ffb890" opacity="0.24"/><circle cx="101.7" cy="71.7" r="1.2" fill="#ffb890" opacity="0.34"/><circle cx="130.2" cy="235.8" r="1.6" fill="#3a0600" opacity="0.21"/><circle cx="206.7" cy="172.9" r="0.7" fill="#ffb890" opacity="0.35"/><circle cx="185.7" cy="245.4" r="1.6" fill="#3a0600" opacity="0.36"/><circle cx="131.1" cy="130.5" r="0.8" fill="#ffb890" opacity="0.19"/><circle cx="223.9" cy="237.0" r="0.9" fill="#3a0600" opacity="0.26"/><circle cx="199.3" cy="199.9" r="1.1" fill="#ffb890" opacity="0.35"/><circle cx="44.5" cy="242.6" r="0.9" fill="#3a0600" opacity="0.22"/><circle cx="103.2" cy="53.1" r="1.7" fill="#3a0600" opacity="0.31"/><circle cx="99.9" cy="84.9" r="1.4" fill="#3a0600" opacity="0.18"/><circle cx="156.2" cy="280.7" r="1.2" fill="#ffb890" opacity="0.24"/><circle cx="80.2" cy="123.4" r="1.3" fill="#3a0600" opacity="0.32"/><circle cx="63.5" cy="169.6" r="0.9" fill="#3a0600" opacity="0.21"/><circle cx="255.1" cy="244.3" r="1.5" fill="#3a0600" opacity="0.25"/><circle cx="304.6" cy="122.6" r="1.7" fill="#3a0600" opacity="0.27"/><circle cx="291.7" cy="99.7" r="1.4" fill="#3a0600" opacity="0.37"/><circle cx="80.8" cy="121.4" r="1.6" fill="#3a0600" opacity="0.21"/><circle cx="159.1" cy="235.3" r="1.0" fill="#ffb890" opacity="0.25"/><circle cx="184.7" cy="227.7" r="1.0" fill="#3a0600" opacity="0.36"/><circle cx="127.7" cy="44.2" r="1.0" fill="#3a0600" opacity="0.27"/><circle cx="302.1" cy="251.1" r="1.2" fill="#3a0600" opacity="0.29"/><circle cx="179.8" cy="74.1" r="1.3" fill="#ffb890" opacity="0.18"/><circle cx="244.1" cy="114.1" r="1.0" fill="#3a0600" opacity="0.31"/><circle cx="89.8" cy="264.6" r="1.7" fill="#3a0600" opacity="0.39"/><circle cx="298.9" cy="216.5" r="0.6" fill="#ffb890" opacity="0.28"/><circle cx="40.8" cy="207.1" r="0.6" fill="#ffb890" opacity="0.34"/><circle cx="303.9" cy="239.9" r="0.8" fill="#ffb890" opacity="0.32"/><circle cx="41.5" cy="188.5" r="0.9" fill="#ffb890" opacity="0.27"/><circle cx="80.2" cy="239.4" r="0.9" fill="#ffb890" opacity="0.26"/><circle cx="246.9" cy="247.2" r="1.1" fill="#3a0600" opacity="0.37"/><circle cx="41.9" cy="223.3" r="1.2" fill="#3a0600" opacity="0.35"/><circle cx="180.6" cy="245.3" r="0.9" fill="#ffb890" opacity="0.32"/><circle cx="62.0" cy="252.3" r="1.2" fill="#3a0600" opacity="0.37"/><circle cx="182.6" cy="187.0" r="0.9" fill="#ffb890" opacity="0.19"/><circle cx="225.0" cy="181.6" r="1.0" fill="#ffb890" opacity="0.29"/><circle cx="301.9" cy="171.4" r="1.3" fill="#3a0600" opacity="0.31"/><circle cx="210.8" cy="28.0" r="1.0" fill="#3a0600" opacity="0.19"/><circle cx="310.4" cy="126.2" r="0.8" fill="#ffb890" opacity="0.28"/><circle cx="174.1" cy="237.2" r="1.1" fill="#3a0600" opacity="0.15"/><circle cx="92.5" cy="277.1" r="1.3" fill="#3a0600" opacity="0.38"/><circle cx="100.6" cy="36.5" r="1.2" fill="#3a0600" opacity="0.21"/><circle cx="292.4" cy="124.5" r="0.9" fill="#3a0600" opacity="0.29"/><circle cx="170.2" cy="247.2" r="1.5" fill="#3a0600" opacity="0.16"/><circle cx="47.1" cy="58.0" r="1.0" fill="#ffb890" opacity="0.27"/><circle cx="152.3" cy="87.2" r="1.4" fill="#3a0600" opacity="0.23"/><circle cx="162.3" cy="281.7" r="1.8" fill="#3a0600" opacity="0.27"/><circle cx="271.6" cy="81.8" r="1.1" fill="#3a0600" opacity="0.38"/><circle cx="219.1" cy="174.5" r="1.0" fill="#ffb890" opacity="0.28"/><circle cx="238.1" cy="164.8" r="0.7" fill="#ffb890" opacity="0.35"/><circle cx="238.3" cy="189.9" r="0.7" fill="#ffb890" opacity="0.18"/><circle cx="185.6" cy="119.6" r="0.9" fill="#ffb890" opacity="0.31"/><circle cx="224.9" cy="245.2" r="1.1" fill="#3a0600" opacity="0.23"/><circle cx="77.3" cy="155.3" r="1.4" fill="#3a0600" opacity="0.32"/><circle cx="215.2" cy="46.5" r="1.5" fill="#3a0600" opacity="0.36"/><circle cx="169.7" cy="60.8" r="0.9" fill="#ffb890" opacity="0.35"/><circle cx="38.4" cy="73.2" r="1.0" fill="#3a0600" opacity="0.30"/><circle cx="258.6" cy="161.8" r="0.7" fill="#ffb890" opacity="0.26"/><circle cx="268.6" cy="102.1" r="0.7" fill="#ffb890" opacity="0.24"/><circle cx="68.8" cy="170.3" r="1.3" fill="#ffb890" opacity="0.35"/><circle cx="113.2" cy="76.5" r="0.9" fill="#3a0600" opacity="0.25"/><circle cx="106.3" cy="131.2" r="1.3" fill="#3a0600" opacity="0.19"/><circle cx="273.7" cy="64.4" r="0.7" fill="#ffb890" opacity="0.31"/><circle cx="227.6" cy="280.0" r="1.8" fill="#3a0600" opacity="0.20"/><circle cx="87.7" cy="126.0" r="1.5" fill="#3a0600" opacity="0.23"/><circle cx="218.3" cy="276.2" r="1.7" fill="#3a0600" opacity="0.15"/><circle cx="221.7" cy="173.1" r="1.1" fill="#ffb890" opacity="0.17"/><circle cx="138.4" cy="265.4" r="1.8" fill="#3a0600" opacity="0.24"/><circle cx="237.1" cy="170.7" r="1.8" fill="#3a0600" opacity="0.32"/><circle cx="81.5" cy="200.5" r="1.2" fill="#ffb890" opacity="0.34"/><circle cx="49.3" cy="102.6" r="1.0" fill="#3a0600" opacity="0.25"/><circle cx="285.9" cy="136.3" r="1.5" fill="#3a0600" opacity="0.17"/><circle cx="252.4" cy="131.7" r="1.1" fill="#3a0600" opacity="0.39"/><circle cx="156.8" cy="215.0" r="1.2" fill="#ffb890" opacity="0.29"/><circle cx="48.8" cy="153.4" r="1.5" fill="#3a0600" opacity="0.19"/><circle cx="265.5" cy="102.5" r="0.9" fill="#3a0600" opacity="0.37"/><circle cx="157.4" cy="274.4" r="1.1" fill="#3a0600" opacity="0.23"/><circle cx="206.6" cy="143.4" r="0.7" fill="#ffb890" opacity="0.22"/><circle cx="78.2" cy="225.4" r="1.2" fill="#3a0600" opacity="0.30"/><circle cx="261.8" cy="64.2" r="1.2" fill="#ffb890" opacity="0.19"/><circle cx="127.7" cy="59.5" r="1.4" fill="#3a0600" opacity="0.28"/><circle cx="48.2" cy="177.7" r="0.8" fill="#ffb890" opacity="0.29"/><circle cx="234.4" cy="62.6" r="1.0" fill="#ffb890" opacity="0.33"/><circle cx="121.5" cy="132.6" r="1.2" fill="#3a0600" opacity="0.28"/><circle cx="92.3" cy="158.2" r="1.3" fill="#3a0600" opacity="0.19"/><circle cx="240.5" cy="166.2" r="0.9" fill="#ffb890" opacity="0.32"/><circle cx="308.4" cy="155.4" r="0.8" fill="#ffb890" opacity="0.16"/><circle cx="246.9" cy="51.7" r="1.0" fill="#3a0600" opacity="0.17"/><circle cx="277.2" cy="120.3" r="1.2" fill="#ffb890" opacity="0.18"/><circle cx="264.5" cy="204.7" r="1.3" fill="#3a0600" opacity="0.30"/><circle cx="98.5" cy="94.1" r="1.2" fill="#3a0600" opacity="0.33"/><circle cx="236.1" cy="86.0" r="0.8" fill="#ffb890" opacity="0.17"/><circle cx="116.8" cy="244.3" r="1.4" fill="#3a0600" opacity="0.38"/><circle cx="213.6" cy="183.7" r="1.3" fill="#ffb890" opacity="0.18"/><circle cx="39.6" cy="79.6" r="0.8" fill="#ffb890" opacity="0.21"/><circle cx="292.0" cy="39.2" r="1.3" fill="#3a0600" opacity="0.21"/><circle cx="106.7" cy="66.0" r="1.2" fill="#ffb890" opacity="0.17"/><circle cx="104.6" cy="275.3" r="1.7" fill="#3a0600" opacity="0.19"/><circle cx="123.0" cy="108.9" r="1.0" fill="#3a0600" opacity="0.19"/><circle cx="298.5" cy="129.2" r="0.9" fill="#ffb890" opacity="0.16"/><circle cx="59.8" cy="280.8" r="1.5" fill="#3a0600" opacity="0.18"/><circle cx="101.5" cy="108.8" r="1.1" fill="#ffb890" opacity="0.34"/><circle cx="179.7" cy="51.1" r="1.2" fill="#ffb890" opacity="0.18"/><circle cx="176.3" cy="147.3" r="1.2" fill="#ffb890" opacity="0.17"/><circle cx="126.8" cy="48.0" r="1.1" fill="#3a0600" opacity="0.21"/><circle cx="200.0" cy="168.4" r="1.1" fill="#3a0600" opacity="0.24"/><circle cx="208.6" cy="231.5" r="1.3" fill="#ffb890" opacity="0.20"/><circle cx="171.0" cy="80.9" r="0.6" fill="#ffb890" opacity="0.18"/><circle cx="247.5" cy="202.7" r="0.7" fill="#ffb890" opacity="0.19"/><circle cx="194.2" cy="79.6" r="0.7" fill="#ffb890" opacity="0.22"/><circle cx="102.5" cy="277.2" r="0.7" fill="#ffb890" opacity="0.19"/><circle cx="152.4" cy="155.8" r="0.9" fill="#3a0600" opacity="0.19"/><circle cx="50.6" cy="215.6" r="1.5" fill="#3a0600" opacity="0.24"/><circle cx="146.3" cy="148.0" r="1.7" fill="#3a0600" opacity="0.17"/><circle cx="160.7" cy="40.8" r="0.9" fill="#ffb890" opacity="0.23"/><circle cx="202.1" cy="134.3" r="1.6" fill="#3a0600" opacity="0.30"/><circle cx="40.4" cy="64.5" r="0.8" fill="#ffb890" opacity="0.26"/><circle cx="173.6" cy="247.5" r="0.7" fill="#ffb890" opacity="0.17"/><circle cx="72.8" cy="33.5" r="0.9" fill="#ffb890" opacity="0.31"/><circle cx="102.7" cy="110.3" r="1.1" fill="#3a0600" opacity="0.32"/><circle cx="138.7" cy="105.2" r="1.4" fill="#3a0600" opacity="0.16"/><circle cx="279.1" cy="102.8" r="0.8" fill="#ffb890" opacity="0.21"/><circle cx="140.6" cy="84.8" r="1.3" fill="#3a0600" opacity="0.35"/><circle cx="69.1" cy="158.1" r="0.8" fill="#ffb890" opacity="0.28"/><circle cx="171.0" cy="150.1" r="0.9" fill="#ffb890" opacity="0.15"/><circle cx="133.4" cy="34.1" r="1.7" fill="#3a0600" opacity="0.25"/><circle cx="125.1" cy="271.8" r="0.8" fill="#3a0600" opacity="0.29"/><circle cx="135.0" cy="89.9" r="1.2" fill="#3a0600" opacity="0.24"/><circle cx="141.4" cy="52.1" r="0.6" fill="#ffb890" opacity="0.23"/><circle cx="179.6" cy="30.6" r="1.1" fill="#3a0600" opacity="0.32"/><circle cx="61.4" cy="224.5" r="1.6" fill="#3a0600" opacity="0.40"/><circle cx="287.2" cy="272.4" r="0.8" fill="#ffb890" opacity="0.34"/><circle cx="149.9" cy="198.6" r="1.4" fill="#3a0600" opacity="0.24"/><circle cx="69.5" cy="265.6" r="1.1" fill="#ffb890" opacity="0.24"/><circle cx="294.7" cy="181.7" r="1.6" fill="#3a0600" opacity="0.38"/><circle cx="283.4" cy="208.0" r="1.2" fill="#ffb890" opacity="0.19"/><circle cx="76.0" cy="53.0" r="1.0" fill="#ffb890" opacity="0.23"/><circle cx="135.7" cy="279.0" r="1.7" fill="#3a0600" opacity="0.35"/><circle cx="265.5" cy="213.0" r="1.3" fill="#3a0600" opacity="0.21"/><circle cx="119.0" cy="82.8" r="1.7" fill="#3a0600" opacity="0.23"/><circle cx="184.7" cy="67.0" r="1.2" fill="#3a0600" opacity="0.24"/><circle cx="246.0" cy="148.5" r="1.7" fill="#3a0600" opacity="0.31"/><circle cx="66.1" cy="50.3" r="1.8" fill="#3a0600" opacity="0.23"/><circle cx="310.8" cy="269.2" r="1.6" fill="#3a0600" opacity="0.20"/><circle cx="197.0" cy="44.8" r="1.5" fill="#3a0600" opacity="0.22"/><circle cx="68.5" cy="235.4" r="0.9" fill="#ffb890" opacity="0.18"/><circle cx="296.7" cy="193.9" r="0.9" fill="#ffb890" opacity="0.20"/><circle cx="176.4" cy="44.4" r="1.3" fill="#3a0600" opacity="0.21"/><circle cx="157.2" cy="55.1" r="1.8" fill="#3a0600" opacity="0.31"/><circle cx="117.8" cy="234.0" r="1.2" fill="#ffb890" opacity="0.19"/><circle cx="40.1" cy="120.6" r="1.6" fill="#3a0600" opacity="0.29"/><circle cx="110.0" cy="137.5" r="1.2" fill="#3a0600" opacity="0.16"/><circle cx="56.8" cy="63.4" r="1.5" fill="#3a0600" opacity="0.36"/><circle cx="257.0" cy="41.6" r="1.4" fill="#3a0600" opacity="0.32"/><circle cx="130.1" cy="180.6" r="0.9" fill="#3a0600" opacity="0.22"/><circle cx="185.1" cy="57.3" r="1.0" fill="#3a0600" opacity="0.39"/><circle cx="271.2" cy="247.7" r="1.0" fill="#ffb890" opacity="0.20"/><circle cx="223.8" cy="203.3" r="1.8" fill="#3a0600" opacity="0.23"/><circle cx="138.3" cy="227.6" r="1.3" fill="#3a0600" opacity="0.20"/><circle cx="252.6" cy="168.5" r="1.0" fill="#ffb890" opacity="0.25"/><circle cx="88.6" cy="210.4" r="1.8" fill="#3a0600" opacity="0.15"/><circle cx="195.0" cy="79.1" r="1.3" fill="#3a0600" opacity="0.28"/><circle cx="72.8" cy="247.7" r="1.7" fill="#3a0600" opacity="0.18"/><circle cx="133.9" cy="74.1" r="1.7" fill="#3a0600" opacity="0.39"/><circle cx="253.6" cy="168.8" r="0.6" fill="#ffb890" opacity="0.25"/><circle cx="240.5" cy="77.2" r="1.3" fill="#3a0600" opacity="0.16"/><circle cx="163.9" cy="212.5" r="1.0" fill="#3a0600" opacity="0.40"/><circle cx="137.1" cy="43.7" r="1.7" fill="#3a0600" opacity="0.29"/><circle cx="261.4" cy="167.6" r="1.1" fill="#ffb890" opacity="0.35"/><circle cx="93.4" cy="161.6" r="1.2" fill="#3a0600" opacity="0.16"/><circle cx="148.8" cy="257.8" r="1.1" fill="#ffb890" opacity="0.35"/><circle cx="187.7" cy="244.8" r="0.9" fill="#3a0600" opacity="0.27"/><circle cx="232.2" cy="109.7" r="1.2" fill="#ffb890" opacity="0.16"/><circle cx="177.7" cy="206.2" r="1.2" fill="#ffb890" opacity="0.19"/><circle cx="132.2" cy="114.8" r="0.7" fill="#ffb890" opacity="0.34"/><circle cx="288.7" cy="81.0" r="0.9" fill="#3a0600" opacity="0.37"/><circle cx="171.8" cy="188.7" r="1.0" fill="#3a0600" opacity="0.30"/><circle cx="134.0" cy="183.7" r="0.9" fill="#ffb890" opacity="0.21"/><circle cx="169.0" cy="115.4" r="1.2" fill="#ffb890" opacity="0.30"/><circle cx="101.1" cy="241.5" r="1.2" fill="#ffb890" opacity="0.24"/><circle cx="229.0" cy="217.0" r="0.7" fill="#ffb890" opacity="0.16"/><circle cx="172.1" cy="247.8" r="1.0" fill="#ffb890" opacity="0.30"/><circle cx="269.5" cy="147.8" r="0.7" fill="#ffb890" opacity="0.16"/><circle cx="146.5" cy="42.0" r="0.8" fill="#ffb890" opacity="0.35"/><circle cx="308.5" cy="31.3" r="0.6" fill="#ffb890" opacity="0.33"/><circle cx="102.2" cy="121.9" r="0.9" fill="#ffb890" opacity="0.18"/><circle cx="155.6" cy="245.2" r="1.2" fill="#3a0600" opacity="0.22"/><circle cx="110.7" cy="106.3" r="1.4" fill="#3a0600" opacity="0.32"/><circle cx="172.2" cy="77.8" r="1.2" fill="#3a0600" opacity="0.30"/><circle cx="247.3" cy="237.8" r="0.6" fill="#ffb890" opacity="0.16"/><circle cx="265.4" cy="65.9" r="0.6" fill="#ffb890" opacity="0.18"/><circle cx="292.9" cy="220.2" r="0.9" fill="#ffb890" opacity="0.25"/><circle cx="90.1" cy="38.4" r="0.9" fill="#3a0600" opacity="0.28"/><circle cx="305.7" cy="164.9" r="1.3" fill="#3a0600" opacity="0.23"/><circle cx="305.7" cy="206.1" r="1.5" fill="#3a0600" opacity="0.29"/><circle cx="142.9" cy="207.6" r="0.6" fill="#ffb890" opacity="0.34"/><circle cx="248.7" cy="194.4" r="1.3" fill="#ffb890" opacity="0.16"/><circle cx="219.8" cy="164.3" r="1.7" fill="#3a0600" opacity="0.40"/><circle cx="175.4" cy="125.5" r="0.8" fill="#ffb890" opacity="0.34"/><circle cx="67.9" cy="169.5" r="1.0" fill="#3a0600" opacity="0.25"/><circle cx="253.4" cy="248.6" r="0.7" fill="#ffb890" opacity="0.34"/><circle cx="59.7" cy="57.2" r="1.0" fill="#ffb890" opacity="0.24"/><circle cx="48.7" cy="142.6" r="1.3" fill="#3a0600" opacity="0.17"/><circle cx="153.9" cy="173.2" r="0.8" fill="#3a0600" opacity="0.24"/><circle cx="174.1" cy="176.2" r="1.0" fill="#3a0600" opacity="0.27"/><circle cx="54.1" cy="56.0" r="1.3" fill="#3a0600" opacity="0.15"/><circle cx="170.1" cy="185.2" r="1.7" fill="#3a0600" opacity="0.22"/><circle cx="155.4" cy="240.7" r="0.8" fill="#ffb890" opacity="0.35"/><circle cx="103.0" cy="180.9" r="0.9" fill="#3a0600" opacity="0.16"/><circle cx="198.6" cy="49.6" r="1.6" fill="#3a0600" opacity="0.38"/><circle cx="253.4" cy="32.6" r="1.5" fill="#3a0600" opacity="0.18"/><circle cx="151.2" cy="73.8" r="1.5" fill="#3a0600" opacity="0.34"/><circle cx="158.3" cy="186.6" r="1.3" fill="#3a0600" opacity="0.24"/><circle cx="204.2" cy="160.9" r="1.1" fill="#ffb890" opacity="0.27"/><circle cx="136.3" cy="145.5" r="0.9" fill="#3a0600" opacity="0.27"/><circle cx="93.7" cy="182.3" r="0.8" fill="#ffb890" opacity="0.23"/><circle cx="264.1" cy="153.4" r="1.2" fill="#3a0600" opacity="0.37"/><circle cx="156.2" cy="146.4" r="1.1" fill="#ffb890" opacity="0.30"/><circle cx="95.6" cy="115.2" r="0.8" fill="#ffb890" opacity="0.18"/><circle cx="291.9" cy="49.5" r="1.7" fill="#3a0600" opacity="0.17"/><circle cx="76.3" cy="196.4" r="0.8" fill="#ffb890" opacity="0.28"/><circle cx="88.5" cy="281.6" r="1.6" fill="#3a0600" opacity="0.18"/><circle cx="218.1" cy="28.6" r="1.6" fill="#3a0600" opacity="0.26"/><circle cx="187.7" cy="254.2" r="1.6" fill="#3a0600" opacity="0.28"/><circle cx="149.9" cy="47.8" r="0.7" fill="#ffb890" opacity="0.26"/><circle cx="47.4" cy="276.6" r="1.0" fill="#ffb890" opacity="0.33"/><circle cx="42.8" cy="161.2" r="1.6" fill="#3a0600" opacity="0.22"/><circle cx="57.6" cy="207.3" r="1.3" fill="#3a0600" opacity="0.35"/><circle cx="40.1" cy="212.7" r="1.0" fill="#ffb890" opacity="0.33"/><circle cx="190.5" cy="232.3" r="0.9" fill="#3a0600" opacity="0.32"/><circle cx="52.5" cy="75.6" r="1.5" fill="#3a0600" opacity="0.20"/><circle cx="123.0" cy="155.4" r="1.2" fill="#3a0600" opacity="0.18"/><circle cx="250.7" cy="156.9" r="1.3" fill="#3a0600" opacity="0.17"/><circle cx="101.4" cy="196.5" r="1.0" fill="#3a0600" opacity="0.18"/><circle cx="234.5" cy="111.5" r="0.9" fill="#3a0600" opacity="0.24"/><circle cx="293.5" cy="118.7" r="1.1" fill="#3a0600" opacity="0.24"/><circle cx="307.0" cy="262.5" r="1.0" fill="#ffb890" opacity="0.34"/><circle cx="108.8" cy="83.6" r="1.2" fill="#ffb890" opacity="0.18"/><circle cx="260.3" cy="94.3" r="0.8" fill="#3a0600" opacity="0.28"/><circle cx="190.0" cy="224.1" r="0.7" fill="#ffb890" opacity="0.33"/><circle cx="228.8" cy="151.0" r="1.3" fill="#3a0600" opacity="0.30"/><circle cx="241.8" cy="26.9" r="0.8" fill="#ffb890" opacity="0.30"/><circle cx="303.0" cy="212.9" r="1.1" fill="#ffb890" opacity="0.34"/><circle cx="165.8" cy="220.9" r="1.4" fill="#3a0600" opacity="0.26"/><circle cx="83.6" cy="153.4" r="1.1" fill="#3a0600" opacity="0.18"/><circle cx="146.4" cy="31.4" r="0.8" fill="#ffb890" opacity="0.16"/><circle cx="185.0" cy="75.9" r="1.7" fill="#3a0600" opacity="0.38"/><circle cx="300.5" cy="108.9" r="1.3" fill="#3a0600" opacity="0.39"/><circle cx="206.3" cy="158.6" r="1.8" fill="#3a0600" opacity="0.27"/><circle cx="80.4" cy="113.0" r="0.9" fill="#3a0600" opacity="0.31"/><circle cx="86.5" cy="158.7" r="0.8" fill="#ffb890" opacity="0.24"/><circle cx="132.9" cy="41.7" r="1.3" fill="#3a0600" opacity="0.19"/><circle cx="118.7" cy="178.7" r="0.9" fill="#3a0600" opacity="0.28"/><circle cx="156.1" cy="161.7" r="1.3" fill="#ffb890" opacity="0.22"/><circle cx="39.9" cy="48.4" r="0.9" fill="#ffb890" opacity="0.17"/><circle cx="258.4" cy="169.2" r="1.2" fill="#ffb890" opacity="0.30"/><circle cx="231.9" cy="239.6" r="1.1" fill="#ffb890" opacity="0.16"/><circle cx="60.4" cy="88.5" r="0.8" fill="#ffb890" opacity="0.32"/><circle cx="257.6" cy="138.3" r="0.9" fill="#3a0600" opacity="0.38"/><circle cx="58.9" cy="168.6" r="1.5" fill="#3a0600" opacity="0.22"/><circle cx="242.4" cy="114.0" r="1.2" fill="#ffb890" opacity="0.30"/><circle cx="194.7" cy="39.4" r="1.3" fill="#3a0600" opacity="0.30"/><circle cx="117.2" cy="281.8" r="1.2" fill="#ffb890" opacity="0.34"/><circle cx="281.1" cy="220.4" r="1.5" fill="#3a0600" opacity="0.38"/><circle cx="198.4" cy="272.1" r="0.8" fill="#ffb890" opacity="0.22"/><circle cx="235.7" cy="117.2" r="0.7" fill="#ffb890" opacity="0.33"/><circle cx="193.9" cy="271.1" r="0.9" fill="#3a0600" opacity="0.35"/><circle cx="224.6" cy="139.8" r="1.7" fill="#3a0600" opacity="0.31"/><circle cx="184.8" cy="33.1" r="1.5" fill="#3a0600" opacity="0.15"/><circle cx="269.9" cy="163.2" r="1.1" fill="#3a0600" opacity="0.27"/><circle cx="268.2" cy="81.5" r="1.0" fill="#ffb890" opacity="0.32"/><circle cx="191.6" cy="221.2" r="1.0" fill="#ffb890" opacity="0.33"/><circle cx="74.6" cy="204.9" r="1.2" fill="#ffb890" opacity="0.27"/><circle cx="200.7" cy="152.1" r="1.4" fill="#3a0600" opacity="0.18"/><circle cx="146.9" cy="146.8" r="1.2" fill="#3a0600" opacity="0.18"/><circle cx="259.1" cy="205.9" r="1.2" fill="#3a0600" opacity="0.35"/><circle cx="242.7" cy="101.7" r="1.2" fill="#3a0600" opacity="0.39"/><circle cx="142.9" cy="279.6" r="1.2" fill="#ffb890" opacity="0.18"/><circle cx="129.1" cy="184.7" r="0.7" fill="#ffb890" opacity="0.27"/><circle cx="240.4" cy="167.2" r="1.0" fill="#3a0600" opacity="0.35"/><circle cx="162.4" cy="126.2" r="1.2" fill="#ffb890" opacity="0.18"/><circle cx="181.8" cy="206.2" r="0.6" fill="#ffb890" opacity="0.33"/><circle cx="299.1" cy="143.1" r="0.8" fill="#3a0600" opacity="0.16"/><circle cx="154.5" cy="216.5" r="1.1" fill="#3a0600" opacity="0.20"/><circle cx="300.1" cy="144.7" r="1.1" fill="#3a0600" opacity="0.28"/><circle cx="174.1" cy="107.1" r="0.8" fill="#ffb890" opacity="0.32"/><circle cx="180.1" cy="54.1" r="1.1" fill="#ffb890" opacity="0.24"/><circle cx="201.5" cy="138.3" r="1.6" fill="#3a0600" opacity="0.25"/><circle cx="144.1" cy="154.7" r="1.7" fill="#3a0600" opacity="0.19"/><circle cx="52.4" cy="107.0" r="1.1" fill="#ffb890" opacity="0.25"/><circle cx="232.4" cy="194.5" r="1.1" fill="#3a0600" opacity="0.15"/><circle cx="112.8" cy="238.9" r="1.5" fill="#3a0600" opacity="0.34"/><circle cx="283.5" cy="90.0" r="0.8" fill="#3a0600" opacity="0.37"/><circle cx="42.5" cy="84.8" r="1.7" fill="#3a0600" opacity="0.31"/><circle cx="238.8" cy="184.3" r="1.1" fill="#ffb890" opacity="0.20"/><circle cx="252.6" cy="278.3" r="1.0" fill="#3a0600" opacity="0.17"/><circle cx="269.7" cy="211.3" r="1.7" fill="#3a0600" opacity="0.16"/><circle cx="308.6" cy="48.4" r="0.9" fill="#3a0600" opacity="0.32"/><circle cx="60.7" cy="185.1" r="1.6" fill="#3a0600" opacity="0.15"/><circle cx="115.6" cy="253.5" r="0.6" fill="#ffb890" opacity="0.26"/><circle cx="71.5" cy="214.5" r="0.9" fill="#ffb890" opacity="0.29"/><circle cx="256.9" cy="206.0" r="0.9" fill="#3a0600" opacity="0.34"/><circle cx="199.1" cy="212.9" r="1.3" fill="#3a0600" opacity="0.38"/><circle cx="43.6" cy="91.0" r="1.2" fill="#3a0600" opacity="0.26"/><circle cx="81.9" cy="230.4" r="1.7" fill="#3a0600" opacity="0.18"/><circle cx="151.3" cy="277.0" r="0.9" fill="#ffb890" opacity="0.35"/><circle cx="301.0" cy="74.2" r="1.0" fill="#3a0600" opacity="0.35"/><circle cx="45.1" cy="245.7" r="0.8" fill="#ffb890" opacity="0.29"/><circle cx="98.5" cy="157.5" r="1.0" fill="#3a0600" opacity="0.17"/><circle cx="283.6" cy="141.8" r="1.1" fill="#ffb890" opacity="0.25"/><circle cx="62.4" cy="242.0" r="1.0" fill="#3a0600" opacity="0.36"/><circle cx="120.3" cy="63.4" r="1.4" fill="#3a0600" opacity="0.30"/><circle cx="259.3" cy="63.1" r="0.9" fill="#3a0600" opacity="0.38"/><circle cx="109.7" cy="225.0" r="1.0" fill="#ffb890" opacity="0.34"/><circle cx="310.9" cy="103.9" r="1.8" fill="#3a0600" opacity="0.22"/><circle cx="52.2" cy="271.4" r="1.7" fill="#3a0600" opacity="0.22"/><circle cx="235.1" cy="47.2" r="1.2" fill="#ffb890" opacity="0.27"/><circle cx="285.6" cy="188.7" r="1.0" fill="#ffb890" opacity="0.26"/><circle cx="257.6" cy="71.3" r="0.7" fill="#ffb890" opacity="0.22"/><circle cx="304.9" cy="72.4" r="1.5" fill="#3a0600" opacity="0.35"/><circle cx="58.7" cy="41.6" r="1.7" fill="#3a0600" opacity="0.20"/><circle cx="308.7" cy="173.0" r="1.0" fill="#3a0600" opacity="0.28"/><circle cx="89.5" cy="75.5" r="1.4" fill="#3a0600" opacity="0.33"/><circle cx="255.4" cy="229.3" r="0.7" fill="#ffb890" opacity="0.27"/><circle cx="188.2" cy="32.9" r="1.0" fill="#3a0600" opacity="0.28"/><circle cx="292.7" cy="90.5" r="1.3" fill="#3a0600" opacity="0.33"/><circle cx="119.0" cy="167.4" r="1.2" fill="#3a0600" opacity="0.36"/><circle cx="72.9" cy="53.0" r="1.0" fill="#ffb890" opacity="0.21"/><circle cx="145.9" cy="29.0" r="1.5" fill="#3a0600" opacity="0.21"/><circle cx="100.3" cy="171.2" r="0.8" fill="#ffb890" opacity="0.34"/><circle cx="69.6" cy="250.7" r="0.7" fill="#ffb890" opacity="0.22"/><circle cx="298.0" cy="274.6" r="1.4" fill="#3a0600" opacity="0.36"/><circle cx="44.8" cy="74.3" r="0.8" fill="#ffb890" opacity="0.21"/><circle cx="39.7" cy="29.1" r="1.3" fill="#3a0600" opacity="0.25"/><circle cx="306.5" cy="115.3" r="1.0" fill="#3a0600" opacity="0.23"/><circle cx="243.5" cy="256.6" r="1.3" fill="#ffb890" opacity="0.27"/><circle cx="101.2" cy="171.9" r="1.2" fill="#ffb890" opacity="0.25"/><circle cx="187.6" cy="149.9" r="1.2" fill="#ffb890" opacity="0.33"/><circle cx="274.3" cy="152.1" r="1.7" fill="#3a0600" opacity="0.20"/><circle cx="271.6" cy="128.7" r="0.8" fill="#ffb890" opacity="0.30"/><circle cx="77.5" cy="249.3" r="1.2" fill="#3a0600" opacity="0.28"/><circle cx="77.1" cy="240.9" r="1.8" fill="#3a0600" opacity="0.35"/><circle cx="128.7" cy="219.2" r="1.1" fill="#3a0600" opacity="0.16"/><circle cx="95.1" cy="176.5" r="0.7" fill="#ffb890" opacity="0.34"/><circle cx="291.8" cy="208.9" r="0.9" fill="#ffb890" opacity="0.31"/><circle cx="107.5" cy="177.3" r="1.1" fill="#3a0600" opacity="0.35"/><circle cx="186.4" cy="230.8" r="1.6" fill="#3a0600" opacity="0.23"/><circle cx="228.5" cy="130.2" r="1.0" fill="#3a0600" opacity="0.37"/><circle cx="226.6" cy="72.4" r="1.1" fill="#3a0600" opacity="0.24"/><circle cx="304.6" cy="255.0" r="1.6" fill="#3a0600" opacity="0.32"/><circle cx="68.8" cy="189.0" r="1.5" fill="#3a0600" opacity="0.29"/><circle cx="56.7" cy="204.4" r="1.4" fill="#3a0600" opacity="0.30"/><circle cx="293.0" cy="137.6" r="1.2" fill="#3a0600" opacity="0.19"/><circle cx="253.8" cy="225.9" r="1.4" fill="#3a0600" opacity="0.23"/><circle cx="306.8" cy="48.5" r="0.8" fill="#ffb890" opacity="0.19"/><circle cx="193.7" cy="222.5" r="1.6" fill="#3a0600" opacity="0.34"/><circle cx="152.4" cy="72.4" r="1.2" fill="#3a0600" opacity="0.36"/><circle cx="196.8" cy="50.1" r="1.5" fill="#3a0600" opacity="0.39"/><circle cx="258.4" cy="32.3" r="1.2" fill="#3a0600" opacity="0.32"/><circle cx="304.8" cy="103.6" r="1.7" fill="#3a0600" opacity="0.36"/><circle cx="91.3" cy="38.9" r="1.3" fill="#ffb890" opacity="0.15"/><circle cx="279.2" cy="53.2" r="0.7" fill="#ffb890" opacity="0.15"/><circle cx="53.5" cy="90.5" r="1.7" fill="#3a0600" opacity="0.27"/><circle cx="310.6" cy="262.1" r="1.1" fill="#3a0600" opacity="0.24"/><circle cx="184.3" cy="207.4" r="1.5" fill="#3a0600" opacity="0.28"/><circle cx="102.2" cy="41.5" r="1.0" fill="#3a0600" opacity="0.29"/><circle cx="116.4" cy="146.1" r="0.9" fill="#3a0600" opacity="0.26"/><circle cx="130.3" cy="117.6" r="1.1" fill="#ffb890" opacity="0.26"/><circle cx="106.7" cy="207.9" r="1.1" fill="#3a0600" opacity="0.17"/><circle cx="143.2" cy="222.5" r="0.7" fill="#ffb890" opacity="0.18"/><circle cx="112.5" cy="65.6" r="0.9" fill="#3a0600" opacity="0.33"/><circle cx="214.8" cy="210.8" r="0.9" fill="#ffb890" opacity="0.18"/><circle cx="305.1" cy="192.7" r="0.7" fill="#ffb890" opacity="0.25"/><circle cx="64.9" cy="220.3" r="1.7" fill="#3a0600" opacity="0.17"/><circle cx="279.9" cy="140.7" r="1.7" fill="#3a0600" opacity="0.21"/><circle cx="111.3" cy="69.4" r="0.9" fill="#ffb890" opacity="0.25"/><circle cx="170.2" cy="181.8" r="0.9" fill="#ffb890" opacity="0.26"/><circle cx="128.5" cy="85.1" r="1.2" fill="#ffb890" opacity="0.18"/><circle cx="253.0" cy="136.8" r="0.9" fill="#3a0600" opacity="0.22"/><circle cx="150.8" cy="278.2" r="1.1" fill="#ffb890" opacity="0.16"/><circle cx="97.8" cy="188.1" r="1.5" fill="#3a0600" opacity="0.16"/><circle cx="272.7" cy="172.4" r="0.8" fill="#ffb890" opacity="0.21"/><circle cx="225.7" cy="29.9" r="1.4" fill="#3a0600" opacity="0.25"/><circle cx="248.1" cy="218.6" r="1.4" fill="#3a0600" opacity="0.27"/><circle cx="131.0" cy="85.0" r="1.0" fill="#3a0600" opacity="0.39"/><circle cx="110.2" cy="189.0" r="0.8" fill="#ffb890" opacity="0.19"/><circle cx="277.7" cy="107.2" r="1.5" fill="#3a0600" opacity="0.39"/><circle cx="77.6" cy="84.3" r="1.7" fill="#3a0600" opacity="0.23"/><circle cx="124.5" cy="62.1" r="1.5" fill="#3a0600" opacity="0.25"/><circle cx="230.7" cy="163.6" r="1.2" fill="#3a0600" opacity="0.31"/><circle cx="42.7" cy="151.8" r="0.9" fill="#ffb890" opacity="0.18"/><circle cx="198.0" cy="210.8" r="0.7" fill="#ffb890" opacity="0.24"/><circle cx="95.5" cy="110.8" r="1.2" fill="#3a0600" opacity="0.31"/><circle cx="167.0" cy="44.1" r="1.4" fill="#3a0600" opacity="0.19"/><circle cx="145.3" cy="119.6" r="1.3" fill="#3a0600" opacity="0.36"/><circle cx="197.2" cy="161.2" r="1.1" fill="#ffb890" opacity="0.15"/><circle cx="156.5" cy="149.8" r="1.0" fill="#3a0600" opacity="0.27"/><circle cx="230.9" cy="200.7" r="1.5" fill="#3a0600" opacity="0.38"/><circle cx="166.3" cy="64.8" r="1.1" fill="#3a0600" opacity="0.38"/><circle cx="78.5" cy="281.5" r="1.7" fill="#3a0600" opacity="0.34"/><circle cx="117.9" cy="53.5" r="1.8" fill="#3a0600" opacity="0.23"/><circle cx="117.1" cy="50.0" r="0.8" fill="#ffb890" opacity="0.27"/><circle cx="97.9" cy="233.0" r="1.6" fill="#3a0600" opacity="0.20"/><circle cx="233.2" cy="177.5" r="1.6" fill="#3a0600" opacity="0.19"/><circle cx="267.1" cy="82.5" r="1.1" fill="#3a0600" opacity="0.33"/><circle cx="266.5" cy="118.2" r="1.6" fill="#3a0600" opacity="0.19"/><circle cx="301.1" cy="212.5" r="0.7" fill="#ffb890" opacity="0.22"/><circle cx="122.0" cy="224.9" r="0.8" fill="#3a0600" opacity="0.26"/><circle cx="116.4" cy="206.8" r="0.6" fill="#ffb890" opacity="0.31"/><circle cx="130.0" cy="231.3" r="1.4" fill="#3a0600" opacity="0.32"/><circle cx="243.7" cy="67.1" r="1.1" fill="#3a0600" opacity="0.29"/><circle cx="223.1" cy="254.9" r="1.4" fill="#3a0600" opacity="0.20"/><circle cx="223.6" cy="237.4" r="1.5" fill="#3a0600" opacity="0.34"/><circle cx="66.4" cy="269.5" r="1.2" fill="#ffb890" opacity="0.26"/><circle cx="244.0" cy="98.7" r="1.7" fill="#3a0600" opacity="0.35"/><circle cx="95.7" cy="118.6" r="0.8" fill="#3a0600" opacity="0.26"/><circle cx="206.5" cy="75.9" r="1.0" fill="#3a0600" opacity="0.37"/><circle cx="203.4" cy="144.4" r="1.2" fill="#ffb890" opacity="0.31"/><circle cx="154.5" cy="150.5" r="1.5" fill="#3a0600" opacity="0.37"/><circle cx="102.3" cy="36.6" r="1.1" fill="#ffb890" opacity="0.28"/><circle cx="126.5" cy="179.3" r="1.6" fill="#3a0600" opacity="0.36"/><circle cx="197.5" cy="216.4" r="1.0" fill="#3a0600" opacity="0.23"/><circle cx="42.8" cy="45.4" r="1.6" fill="#3a0600" opacity="0.32"/><circle cx="170.6" cy="125.9" r="1.7" fill="#3a0600" opacity="0.21"/><circle cx="258.0" cy="99.9" r="0.7" fill="#ffb890" opacity="0.19"/><circle cx="219.7" cy="72.8" r="1.6" fill="#3a0600" opacity="0.28"/><circle cx="189.2" cy="266.7" r="1.6" fill="#3a0600" opacity="0.38"/><circle cx="252.8" cy="221.6" r="1.3" fill="#3a0600" opacity="0.28"/><circle cx="237.6" cy="194.0" r="1.1" fill="#ffb890" opacity="0.29"/><circle cx="114.0" cy="38.3" r="1.5" fill="#3a0600" opacity="0.30"/><circle cx="307.4" cy="267.3" r="1.4" fill="#3a0600" opacity="0.20"/><circle cx="197.5" cy="45.5" r="0.9" fill="#ffb890" opacity="0.30"/><circle cx="221.9" cy="134.5" r="1.2" fill="#3a0600" opacity="0.29"/><circle cx="133.5" cy="86.6" r="1.0" fill="#3a0600" opacity="0.36"/><circle cx="80.6" cy="280.8" r="1.2" fill="#ffb890" opacity="0.25"/><circle cx="95.6" cy="76.0" r="1.6" fill="#3a0600" opacity="0.23"/><circle cx="123.9" cy="247.6" r="0.9" fill="#ffb890" opacity="0.16"/><circle cx="57.6" cy="107.0" r="1.0" fill="#ffb890" opacity="0.21"/><circle cx="153.3" cy="153.5" r="1.6" fill="#3a0600" opacity="0.23"/><circle cx="128.9" cy="96.2" r="0.9" fill="#3a0600" opacity="0.25"/><circle cx="232.4" cy="264.6" r="1.2" fill="#ffb890" opacity="0.16"/><circle cx="293.5" cy="274.6" r="1.1" fill="#3a0600" opacity="0.28"/><circle cx="293.6" cy="279.6" r="1.2" fill="#ffb890" opacity="0.33"/><circle cx="191.3" cy="163.0" r="1.1" fill="#3a0600" opacity="0.37"/><circle cx="284.0" cy="47.2" r="1.1" fill="#ffb890" opacity="0.28"/><circle cx="97.5" cy="54.1" r="1.0" fill="#3a0600" opacity="0.31"/><circle cx="213.2" cy="87.3" r="1.2" fill="#ffb890" opacity="0.25"/><circle cx="190.5" cy="263.9" r="1.2" fill="#ffb890" opacity="0.34"/><circle cx="113.6" cy="264.4" r="1.1" fill="#ffb890" opacity="0.28"/><circle cx="171.3" cy="225.9" r="1.6" fill="#3a0600" opacity="0.32"/><circle cx="180.6" cy="174.3" r="1.4" fill="#3a0600" opacity="0.25"/><circle cx="305.0" cy="153.7" r="0.9" fill="#ffb890" opacity="0.21"/><circle cx="238.7" cy="274.4" r="0.8" fill="#ffb890" opacity="0.32"/><circle cx="287.7" cy="268.7" r="0.7" fill="#ffb890" opacity="0.27"/><circle cx="300.6" cy="270.6" r="0.9" fill="#ffb890" opacity="0.35"/><circle cx="64.9" cy="182.3" r="1.7" fill="#3a0600" opacity="0.17"/><circle cx="275.9" cy="264.0" r="1.5" fill="#3a0600" opacity="0.26"/><circle cx="51.3" cy="197.7" r="0.8" fill="#ffb890" opacity="0.19"/><circle cx="260.1" cy="49.1" r="1.4" fill="#3a0600" opacity="0.18"/><circle cx="95.7" cy="209.3" r="0.9" fill="#3a0600" opacity="0.38"/><circle cx="225.1" cy="123.9" r="0.7" fill="#ffb890" opacity="0.32"/><circle cx="304.5" cy="106.8" r="1.3" fill="#3a0600" opacity="0.36"/><circle cx="243.9" cy="119.5" r="0.6" fill="#ffb890" opacity="0.32"/><circle cx="297.9" cy="281.7" r="0.7" fill="#ffb890" opacity="0.25"/><circle cx="309.2" cy="185.5" r="1.3" fill="#ffb890" opacity="0.18"/><circle cx="266.3" cy="199.3" r="1.3" fill="#ffb890" opacity="0.27"/><circle cx="188.7" cy="55.7" r="1.7" fill="#3a0600" opacity="0.16"/><circle cx="171.1" cy="60.0" r="0.9" fill="#3a0600" opacity="0.21"/><circle cx="177.8" cy="266.3" r="1.0" fill="#3a0600" opacity="0.31"/><circle cx="99.9" cy="47.6" r="1.5" fill="#3a0600" opacity="0.22"/><circle cx="244.7" cy="62.7" r="1.0" fill="#ffb890" opacity="0.27"/><circle cx="209.5" cy="101.8" r="0.7" fill="#ffb890" opacity="0.16"/><circle cx="136.7" cy="223.2" r="1.1" fill="#3a0600" opacity="0.22"/><circle cx="66.1" cy="271.5" r="0.9" fill="#3a0600" opacity="0.26"/><circle cx="286.4" cy="242.5" r="1.0" fill="#3a0600" opacity="0.35"/><circle cx="146.2" cy="104.3" r="0.8" fill="#ffb890" opacity="0.23"/><circle cx="95.0" cy="223.8" r="0.6" fill="#ffb890" opacity="0.33"/><circle cx="290.3" cy="168.4" r="1.4" fill="#3a0600" opacity="0.16"/><circle cx="303.0" cy="102.8" r="1.5" fill="#3a0600" opacity="0.39"/><circle cx="79.4" cy="262.6" r="1.3" fill="#3a0600" opacity="0.33"/><circle cx="258.0" cy="106.5" r="0.7" fill="#ffb890" opacity="0.33"/><circle cx="206.9" cy="130.4" r="1.3" fill="#3a0600" opacity="0.16"/><circle cx="255.8" cy="247.4" r="1.7" fill="#3a0600" opacity="0.22"/><circle cx="92.5" cy="165.5" r="1.2" fill="#ffb890" opacity="0.16"/><circle cx="153.7" cy="64.5" r="0.7" fill="#ffb890" opacity="0.15"/><circle cx="146.2" cy="238.8" r="1.3" fill="#3a0600" opacity="0.18"/><circle cx="224.3" cy="276.4" r="1.0" fill="#ffb890" opacity="0.30"/><circle cx="238.3" cy="209.7" r="1.6" fill="#3a0600" opacity="0.26"/><circle cx="67.6" cy="61.8" r="1.1" fill="#ffb890" opacity="0.29"/><circle cx="268.6" cy="99.5" r="1.0" fill="#ffb890" opacity="0.24"/><circle cx="215.7" cy="155.7" r="0.9" fill="#3a0600" opacity="0.17"/><circle cx="216.9" cy="269.9" r="1.3" fill="#3a0600" opacity="0.23"/><circle cx="47.7" cy="137.7" r="0.7" fill="#ffb890" opacity="0.26"/><circle cx="90.7" cy="221.2" r="1.2" fill="#3a0600" opacity="0.34"/><circle cx="206.8" cy="127.5" r="1.1" fill="#ffb890" opacity="0.31"/><circle cx="143.7" cy="246.4" r="1.3" fill="#3a0600" opacity="0.38"/><circle cx="308.0" cy="264.1" r="1.1" fill="#ffb890" opacity="0.29"/><circle cx="147.4" cy="152.2" r="1.7" fill="#3a0600" opacity="0.25"/><circle cx="125.3" cy="228.2" r="1.1" fill="#3a0600" opacity="0.24"/><circle cx="310.9" cy="160.1" r="1.1" fill="#3a0600" opacity="0.33"/><circle cx="254.4" cy="177.0" r="0.9" fill="#ffb890" opacity="0.23"/><circle cx="243.7" cy="182.0" r="0.8" fill="#ffb890" opacity="0.19"/><circle cx="176.1" cy="103.7" r="0.9" fill="#3a0600" opacity="0.25"/><circle cx="129.7" cy="111.1" r="1.7" fill="#3a0600" opacity="0.35"/><circle cx="107.2" cy="63.2" r="1.2" fill="#ffb890" opacity="0.29"/><circle cx="137.8" cy="176.2" r="1.7" fill="#3a0600" opacity="0.40"/><circle cx="276.0" cy="135.1" r="1.4" fill="#3a0600" opacity="0.27"/><circle cx="273.8" cy="221.3" r="1.1" fill="#ffb890" opacity="0.18"/><circle cx="202.3" cy="39.0" r="0.7" fill="#ffb890" opacity="0.33"/><circle cx="238.5" cy="222.8" r="1.2" fill="#ffb890" opacity="0.17"/><circle cx="238.7" cy="190.3" r="0.8" fill="#ffb890" opacity="0.22"/><circle cx="108.7" cy="259.3" r="1.0" fill="#3a0600" opacity="0.26"/><circle cx="272.1" cy="280.9" r="0.8" fill="#3a0600" opacity="0.35"/><circle cx="266.5" cy="150.4" r="1.1" fill="#ffb890" opacity="0.29"/><circle cx="275.0" cy="147.2" r="1.1" fill="#ffb890" opacity="0.26"/><circle cx="135.3" cy="53.6" r="1.1" fill="#3a0600" opacity="0.27"/><circle cx="281.8" cy="46.9" r="1.0" fill="#3a0600" opacity="0.24"/><circle cx="170.5" cy="122.9" r="1.3" fill="#ffb890" opacity="0.26"/><circle cx="121.8" cy="90.7" r="0.9" fill="#3a0600" opacity="0.15"/><circle cx="221.6" cy="183.9" r="0.9" fill="#ffb890" opacity="0.17"/><circle cx="263.7" cy="173.3" r="0.8" fill="#ffb890" opacity="0.21"/><circle cx="76.4" cy="42.4" r="1.6" fill="#3a0600" opacity="0.21"/><circle cx="96.1" cy="277.7" r="1.4" fill="#3a0600" opacity="0.20"/><circle cx="283.5" cy="224.1" r="1.0" fill="#3a0600" opacity="0.30"/><circle cx="86.6" cy="192.1" r="1.5" fill="#3a0600" opacity="0.34"/><circle cx="109.1" cy="207.2" r="1.0" fill="#3a0600" opacity="0.38"/><circle cx="50.0" cy="243.4" r="0.8" fill="#3a0600" opacity="0.18"/><circle cx="230.2" cy="65.9" r="1.0" fill="#3a0600" opacity="0.35"/><circle cx="298.9" cy="75.7" r="0.7" fill="#ffb890" opacity="0.30"/><circle cx="257.5" cy="106.7" r="1.8" fill="#3a0600" opacity="0.31"/><circle cx="132.7" cy="144.8" r="1.5" fill="#3a0600" opacity="0.21"/><circle cx="120.3" cy="128.2" r="1.1" fill="#ffb890" opacity="0.28"/><circle cx="176.0" cy="142.0" r="1.1" fill="#ffb890" opacity="0.25"/><circle cx="56.4" cy="152.0" r="1.3" fill="#3a0600" opacity="0.25"/><circle cx="168.4" cy="135.4" r="0.8" fill="#ffb890" opacity="0.19"/><circle cx="220.6" cy="138.2" r="1.7" fill="#3a0600" opacity="0.39"/><circle cx="43.6" cy="129.6" r="1.8" fill="#3a0600" opacity="0.37"/><circle cx="175.4" cy="169.4" r="1.4" fill="#3a0600" opacity="0.26"/><circle cx="47.9" cy="65.3" r="1.7" fill="#3a0600" opacity="0.28"/><circle cx="241.5" cy="242.9" r="1.2" fill="#3a0600" opacity="0.36"/><circle cx="245.8" cy="29.3" r="1.7" fill="#3a0600" opacity="0.15"/><circle cx="38.1" cy="216.1" r="0.8" fill="#ffb890" opacity="0.17"/><circle cx="62.5" cy="235.1" r="0.9" fill="#3a0600" opacity="0.24"/><circle cx="238.2" cy="51.4" r="1.0" fill="#3a0600" opacity="0.20"/><circle cx="114.5" cy="218.8" r="0.7" fill="#ffb890" opacity="0.32"/><circle cx="72.0" cy="209.4" r="1.5" fill="#3a0600" opacity="0.23"/><circle cx="48.4" cy="114.3" r="0.9" fill="#ffb890" opacity="0.22"/><circle cx="101.3" cy="184.7" r="0.9" fill="#ffb890" opacity="0.18"/><circle cx="174.9" cy="159.8" r="1.1" fill="#ffb890" opacity="0.28"/><circle cx="154.6" cy="140.0" r="1.1" fill="#ffb890" opacity="0.25"/><circle cx="82.2" cy="122.7" r="0.9" fill="#3a0600" opacity="0.36"/><circle cx="98.0" cy="83.0" r="0.9" fill="#3a0600" opacity="0.17"/><circle cx="214.0" cy="191.7" r="1.2" fill="#3a0600" opacity="0.21"/><circle cx="231.0" cy="120.5" r="1.7" fill="#3a0600" opacity="0.18"/><circle cx="249.1" cy="38.5" r="0.8" fill="#3a0600" opacity="0.25"/><circle cx="222.6" cy="179.2" r="1.2" fill="#3a0600" opacity="0.20"/><circle cx="132.0" cy="187.8" r="0.9" fill="#3a0600" opacity="0.27"/><circle cx="304.3" cy="136.7" r="0.8" fill="#ffb890" opacity="0.28"/><circle cx="147.7" cy="26.6" r="1.2" fill="#3a0600" opacity="0.27"/><circle cx="209.3" cy="100.8" r="1.1" fill="#ffb890" opacity="0.25"/><circle cx="244.6" cy="151.4" r="0.6" fill="#ffb890" opacity="0.25"/><circle cx="240.8" cy="102.3" r="1.2" fill="#3a0600" opacity="0.40"/><circle cx="240.7" cy="137.5" r="1.6" fill="#3a0600" opacity="0.32"/><circle cx="113.9" cy="281.3" r="1.0" fill="#3a0600" opacity="0.34"/><circle cx="219.7" cy="39.8" r="1.7" fill="#3a0600" opacity="0.28"/><circle cx="66.3" cy="47.2" r="1.1" fill="#3a0600" opacity="0.34"/><circle cx="200.8" cy="257.6" r="1.3" fill="#3a0600" opacity="0.16"/><circle cx="85.3" cy="131.5" r="1.6" fill="#3a0600" opacity="0.27"/><circle cx="261.1" cy="135.7" r="1.6" fill="#3a0600" opacity="0.20"/><circle cx="278.3" cy="36.9" r="1.4" fill="#3a0600" opacity="0.28"/><circle cx="46.7" cy="111.0" r="1.2" fill="#ffb890" opacity="0.26"/><circle cx="82.8" cy="50.1" r="1.6" fill="#3a0600" opacity="0.35"/><circle cx="68.9" cy="53.5" r="1.1" fill="#ffb890" opacity="0.22"/><circle cx="233.6" cy="82.7" r="1.6" fill="#3a0600" opacity="0.26"/><circle cx="89.2" cy="54.3" r="1.1" fill="#ffb890" opacity="0.30"/><circle cx="55.6" cy="82.5" r="1.4" fill="#3a0600" opacity="0.18"/><circle cx="110.2" cy="135.9" r="1.2" fill="#3a0600" opacity="0.38"/><circle cx="290.9" cy="88.4" r="1.3" fill="#3a0600" opacity="0.34"/><circle cx="242.9" cy="201.0" r="1.1" fill="#3a0600" opacity="0.39"/><circle cx="49.3" cy="226.8" r="1.1" fill="#ffb890" opacity="0.21"/><circle cx="186.4" cy="158.1" r="0.7" fill="#ffb890" opacity="0.31"/><circle cx="294.9" cy="99.5" r="1.7" fill="#3a0600" opacity="0.20"/><circle cx="152.1" cy="186.3" r="1.7" fill="#3a0600" opacity="0.28"/><circle cx="135.2" cy="274.7" r="1.5" fill="#3a0600" opacity="0.24"/><circle cx="117.3" cy="138.4" r="1.0" fill="#ffb890" opacity="0.34"/><circle cx="258.8" cy="161.1" r="1.7" fill="#3a0600" opacity="0.28"/><circle cx="102.5" cy="263.1" r="1.1" fill="#3a0600" opacity="0.38"/><circle cx="309.3" cy="145.8" r="1.3" fill="#ffb890" opacity="0.27"/><circle cx="110.0" cy="65.7" r="1.3" fill="#3a0600" opacity="0.34"/><circle cx="72.9" cy="272.8" r="0.7" fill="#ffb890" opacity="0.25"/><circle cx="46.5" cy="217.6" r="1.2" fill="#3a0600" opacity="0.23"/><circle cx="234.4" cy="123.6" r="1.0" fill="#ffb890" opacity="0.32"/><circle cx="89.8" cy="106.8" r="1.5" fill="#3a0600" opacity="0.26"/><circle cx="164.0" cy="271.3" r="0.8" fill="#3a0600" opacity="0.29"/><circle cx="192.3" cy="162.9" r="0.9" fill="#ffb890" opacity="0.24"/><circle cx="123.7" cy="74.2" r="1.3" fill="#3a0600" opacity="0.24"/><circle cx="96.4" cy="186.6" r="0.8" fill="#3a0600" opacity="0.24"/><circle cx="134.9" cy="163.6" r="0.8" fill="#ffb890" opacity="0.24"/><circle cx="297.7" cy="238.2" r="1.0" fill="#ffb890" opacity="0.30"/><circle cx="222.4" cy="251.9" r="0.8" fill="#ffb890" opacity="0.28"/><circle cx="276.4" cy="97.6" r="1.6" fill="#3a0600" opacity="0.16"/><circle cx="103.6" cy="179.4" r="1.6" fill="#3a0600" opacity="0.20"/><circle cx="175.8" cy="131.2" r="1.6" fill="#3a0600" opacity="0.24"/><circle cx="61.2" cy="101.5" r="1.1" fill="#ffb890" opacity="0.19"/><circle cx="154.0" cy="85.0" r="1.6" fill="#3a0600" opacity="0.21"/><circle cx="40.7" cy="167.7" r="1.3" fill="#3a0600" opacity="0.27"/><circle cx="100.2" cy="79.9" r="0.7" fill="#ffb890" opacity="0.32"/><circle cx="189.2" cy="195.1" r="1.2" fill="#ffb890" opacity="0.21"/><circle cx="66.3" cy="84.9" r="1.3" fill="#3a0600" opacity="0.28"/><circle cx="86.5" cy="139.2" r="0.8" fill="#3a0600" opacity="0.32"/><circle cx="155.1" cy="80.6" r="0.9" fill="#ffb890" opacity="0.23"/><circle cx="169.3" cy="62.5" r="1.1" fill="#3a0600" opacity="0.34"/><circle cx="301.2" cy="135.5" r="1.0" fill="#3a0600" opacity="0.17"/><circle cx="257.0" cy="203.2" r="1.2" fill="#3a0600" opacity="0.38"/><circle cx="89.8" cy="83.8" r="1.5" fill="#3a0600" opacity="0.28"/><circle cx="99.1" cy="32.9" r="1.3" fill="#3a0600" opacity="0.16"/><circle cx="211.8" cy="69.5" r="0.7" fill="#ffb890" opacity="0.26"/><circle cx="289.6" cy="40.9" r="1.1" fill="#3a0600" opacity="0.26"/><circle cx="45.1" cy="37.0" r="0.9" fill="#ffb890" opacity="0.17"/><circle cx="151.5" cy="191.3" r="1.6" fill="#3a0600" opacity="0.24"/><circle cx="104.4" cy="242.2" r="0.9" fill="#3a0600" opacity="0.20"/><circle cx="233.1" cy="166.4" r="1.5" fill="#3a0600" opacity="0.23"/><circle cx="83.4" cy="189.4" r="1.1" fill="#3a0600" opacity="0.16"/><circle cx="211.0" cy="199.4" r="0.7" fill="#ffb890" opacity="0.30"/><circle cx="110.3" cy="154.1" r="1.5" fill="#3a0600" opacity="0.18"/><circle cx="151.2" cy="230.7" r="0.9" fill="#3a0600" opacity="0.27"/><circle cx="128.6" cy="227.6" r="1.5" fill="#3a0600" opacity="0.32"/><circle cx="59.8" cy="196.7" r="1.3" fill="#3a0600" opacity="0.31"/><circle cx="150.9" cy="45.7" r="1.1" fill="#ffb890" opacity="0.34"/><circle cx="298.5" cy="36.2" r="0.7" fill="#ffb890" opacity="0.29"/><circle cx="307.1" cy="123.2" r="1.1" fill="#ffb890" opacity="0.25"/><circle cx="286.2" cy="100.6" r="1.6" fill="#3a0600" opacity="0.25"/><circle cx="69.1" cy="174.4" r="0.9" fill="#ffb890" opacity="0.20"/><circle cx="120.5" cy="225.9" r="0.7" fill="#ffb890" opacity="0.34"/><circle cx="151.9" cy="175.4" r="0.8" fill="#ffb890" opacity="0.29"/><circle cx="192.0" cy="184.1" r="1.6" fill="#3a0600" opacity="0.28"/><circle cx="155.3" cy="183.1" r="0.7" fill="#ffb890" opacity="0.22"/><circle cx="123.9" cy="164.1" r="1.2" fill="#ffb890" opacity="0.23"/><circle cx="151.7" cy="89.1" r="0.9" fill="#ffb890" opacity="0.19"/><circle cx="252.7" cy="209.7" r="1.6" fill="#3a0600" opacity="0.31"/><circle cx="198.7" cy="267.0" r="1.4" fill="#3a0600" opacity="0.30"/><circle cx="135.5" cy="260.2" r="1.3" fill="#3a0600" opacity="0.16"/><circle cx="158.2" cy="259.1" r="1.4" fill="#3a0600" opacity="0.17"/></g><path d="M228.7,95.8 L264.7,76.8" stroke="#300400" stroke-width="3" opacity="0.5" filter="url(#blur1)"/><path d="M37,66.4 L46.7,58.3 L66.1,50.2 L90.3,38.9" fill="none" stroke="#300400" stroke-width="3" opacity="0.4" filter="url(#blur1)"/><circle cx="105" cy="28" r="5" fill="#300400" opacity="0.45" filter="url(#blur2)"/><circle cx="293" cy="137" r="5" fill="#300400" opacity="0.45" filter="url(#blur2)"/><circle cx="75" cy="254" r="4" fill="#300400" opacity="0.45" filter="url(#blur2)"/><circle cx="112" cy="265" r="4" fill="#300400" opacity="0.45" filter="url(#blur2)"/><circle cx="60" cy="225" r="3" fill="#300400" opacity="0.45" filter="url(#blur2)"/><circle cx="140" cy="250" r="3" fill="#300400" opacity="0.45" filter="url(#blur2)"/></g><rect x="173" y="153" width="138" height="129" fill="url(#latB)"/><path d="M173.5,282 V153.5 H311" fill="none" stroke="#fde4dc" stroke-width="1.3"/><rect x="54" y="266" width="44" height="8.3" fill="#fff"/><path d="M367.50,126.98 L367.64,128.48 L367.77,130.60 L367.91,129.44 L368.05,129.60 L368.18,129.49 L368.32,128.58 L368.46,130.15 L368.60,128.42 L368.73,127.22 L368.87,128.38 L369.01,128.87 L369.14,129.59 L369.28,127.77 L369.42,128.91 L369.55,128.73 L369.69,130.26 L369.83,127.88 L369.97,127.47 L370.10,129.25 L370.24,128.18 L370.38,129.41 L370.51,128.31 L370.65,128.47 L370.79,129.85 L370.92,129.97 L371.06,132.12 L371.20,127.71 L371.33,126.81 L371.47,129.29 L371.61,126.78 L371.75,131.81 L371.88,128.28 L372.02,129.54 L372.16,127.71 L372.29,129.89 L372.43,128.65 L372.57,129.47 L372.70,129.01 L372.84,128.39 L372.98,127.84 L373.12,129.17 L373.25,127.25 L373.39,128.38 L373.53,127.85 L373.66,129.05 L373.80,130.26 L373.94,128.94 L374.07,129.76 L374.21,127.78 L374.35,128.31 L374.48,127.89 L374.62,128.77 L374.76,127.77 L374.90,128.46 L375.03,127.72 L375.17,130.17 L375.31,129.80 L375.44,129.84 L375.58,128.39 L375.72,131.02 L375.85,127.66 L375.99,129.59 L376.13,127.57 L376.27,129.24 L376.40,127.22 L376.54,129.26 L376.68,128.23 L376.81,128.05 L376.95,129.06 L377.09,128.61 L377.22,128.87 L377.36,127.37 L377.50,128.92 L377.63,128.02 L377.77,128.87 L377.91,132.05 L378.05,129.58 L378.18,128.21 L378.32,128.76 L378.46,129.01 L378.59,130.57 L378.73,130.17 L378.87,129.54 L379.00,127.57 L379.14,131.03 L379.28,129.49 L379.42,130.79 L379.55,127.13 L379.69,131.29 L379.83,129.12 L379.96,126.92 L380.10,128.74 L380.24,127.84 L380.37,129.45 L380.51,128.24 L380.65,127.52 L380.78,128.38 L380.92,130.30 L381.06,130.81 L381.20,126.81 L381.33,129.64 L381.47,128.14 L381.61,129.57 L381.74,127.91 L381.88,128.91 L382.02,129.66 L382.15,129.09 L382.29,127.61 L382.43,129.57 L382.57,128.85 L382.70,128.69 L382.84,128.10 L382.98,129.36 L383.11,129.84 L383.25,129.08 L383.39,128.72 L383.52,127.18 L383.66,129.98 L383.80,128.33 L383.93,129.82 L384.07,128.59 L384.21,127.60 L384.35,127.07 L384.48,128.07 L384.62,128.15 L384.76,128.26 L384.89,127.88 L385.03,128.72 L385.17,128.57 L385.30,127.97 L385.44,128.29 L385.58,129.18 L385.72,128.02 L385.85,127.46 L385.99,128.39 L386.13,131.18 L386.26,128.78 L386.40,127.83 L386.54,129.88 L386.67,129.84 L386.81,127.02 L386.95,129.08 L387.08,129.21 L387.22,129.22 L387.36,127.69 L387.50,127.66 L387.63,127.22 L387.77,128.33 L387.91,126.57 L388.04,126.57 L388.18,129.72 L388.32,127.90 L388.45,129.17 L388.59,127.92 L388.73,127.38 L388.86,126.28 L389.00,128.37 L389.14,128.31 L389.28,129.15 L389.41,126.55 L389.55,127.83 L389.69,128.51 L389.82,128.61 L389.96,128.06 L390.10,129.09 L390.23,128.41 L390.37,126.88 L390.51,127.33 L390.65,127.71 L390.78,127.57 L390.92,125.83 L391.06,126.11 L391.19,126.73 L391.33,126.49 L391.47,126.93 L391.60,127.69 L391.74,127.97 L391.88,126.78 L392.01,127.09 L392.15,127.74 L392.29,126.23 L392.43,127.60 L392.56,127.95 L392.70,127.39 L392.84,128.98 L392.97,126.87 L393.11,127.08 L393.25,126.07 L393.38,127.23 L393.52,129.26 L393.66,126.88 L393.80,127.08 L393.93,125.95 L394.07,127.47 L394.21,125.84 L394.34,125.21 L394.48,124.61 L394.62,126.55 L394.75,128.83 L394.89,125.49 L395.03,127.41 L395.16,126.32 L395.30,125.22 L395.44,126.79 L395.58,126.65 L395.71,124.56 L395.85,124.64 L395.99,126.66 L396.12,124.37 L396.26,124.42 L396.40,122.04 L396.53,124.42 L396.67,123.76 L396.81,124.58 L396.95,123.32 L397.08,123.17 L397.22,122.51 L397.36,122.74 L397.49,121.64 L397.63,122.05 L397.77,119.83 L397.90,119.99 L398.04,121.74 L398.18,119.87 L398.31,118.85 L398.45,117.74 L398.59,118.82 L398.73,117.87 L398.86,117.74 L399.00,117.54 L399.14,118.26 L399.27,117.04 L399.41,116.79 L399.55,116.38 L399.68,116.80 L399.82,115.72 L399.96,115.47 L400.10,113.57 L400.23,115.15 L400.37,113.98 L400.51,114.57 L400.64,113.98 L400.78,110.40 L400.92,112.04 L401.05,112.13 L401.19,112.05 L401.33,112.09 L401.46,111.13 L401.60,111.23 L401.74,108.88 L401.88,108.11 L402.01,109.77 L402.15,108.00 L402.29,107.52 L402.42,108.93 L402.56,109.26 L402.70,109.54 L402.83,108.23 L402.97,107.11 L403.11,108.21 L403.25,109.17 L403.38,107.84 L403.52,110.19 L403.66,108.82 L403.79,110.77 L403.93,109.33 L404.07,109.33 L404.20,110.91 L404.34,111.11 L404.48,110.18 L404.61,109.83 L404.75,109.83 L404.89,113.12 L405.03,111.73 L405.16,112.81 L405.30,113.26 L405.44,112.08 L405.57,113.95 L405.71,112.42 L405.85,112.39 L405.98,113.57 L406.12,112.44 L406.26,114.87 L406.40,115.95 L406.53,116.35 L406.67,116.85 L406.81,115.35 L406.94,120.38 L407.08,115.70 L407.22,118.11 L407.35,120.02 L407.49,119.96 L407.63,119.53 L407.76,118.81 L407.90,120.87 L408.04,119.59 L408.18,120.87 L408.31,119.12 L408.45,119.20 L408.59,119.81 L408.72,121.54 L408.86,119.80 L409.00,124.35 L409.13,123.92 L409.27,124.34 L409.41,122.59 L409.55,123.72 L409.68,121.95 L409.82,124.21 L409.96,124.40 L410.09,124.26 L410.23,123.34 L410.37,124.23 L410.50,124.85 L410.64,124.23 L410.78,127.67 L410.91,126.15 L411.05,124.82 L411.19,122.83 L411.33,124.20 L411.46,125.42 L411.60,124.60 L411.74,124.64 L411.87,125.67 L412.01,126.61 L412.15,126.65 L412.28,125.60 L412.42,127.28 L412.56,126.47 L412.70,125.81 L412.83,127.62 L412.97,127.27 L413.11,127.33 L413.24,126.09 L413.38,127.23 L413.52,127.09 L413.65,126.03 L413.79,127.59 L413.93,124.11 L414.06,125.01 L414.20,125.86 L414.34,128.23 L414.48,124.71 L414.61,126.68 L414.75,125.65 L414.89,126.75 L415.02,127.91 L415.16,126.58 L415.30,124.95 L415.43,125.92 L415.57,127.62 L415.71,127.41 L415.85,124.74 L415.98,126.08 L416.12,126.50 L416.26,126.32 L416.39,127.47 L416.53,125.22 L416.67,126.93 L416.80,123.36 L416.94,127.70 L417.08,126.86 L417.21,125.94 L417.35,126.34 L417.49,124.96 L417.63,127.11 L417.76,126.76 L417.90,125.08 L418.04,125.95 L418.17,126.54 L418.31,124.13 L418.45,126.02 L418.58,126.03 L418.72,125.58 L418.86,127.42 L419.00,127.79 L419.13,124.14 L419.27,125.48 L419.41,125.74 L419.54,126.24 L419.68,126.51 L419.82,125.45 L419.95,125.06 L420.09,125.86 L420.23,125.48 L420.36,125.56 L420.50,123.84 L420.64,124.83 L420.78,124.87 L420.91,125.21 L421.05,122.99 L421.19,124.03 L421.32,122.30 L421.46,123.48 L421.60,123.61 L421.73,123.27 L421.87,122.76 L422.01,121.63 L422.15,121.97 L422.28,122.58 L422.42,118.58 L422.56,117.80 L422.69,116.15 L422.83,117.39 L422.97,116.46 L423.10,117.48 L423.24,115.27 L423.38,116.55 L423.51,113.08 L423.65,112.00 L423.79,111.13 L423.93,110.13 L424.06,109.40 L424.20,107.14 L424.34,106.63 L424.47,102.69 L424.61,100.05 L424.75,97.26 L424.88,96.97 L425.02,92.73 L425.16,89.57 L425.30,86.42 L425.43,86.61 L425.57,81.72 L425.71,79.83 L425.84,73.96 L425.98,71.48 L426.12,64.30 L426.25,64.05 L426.39,61.92 L426.53,58.32 L426.66,53.20 L426.80,50.96 L426.94,49.45 L427.08,46.32 L427.21,42.52 L427.35,42.86 L427.49,37.64 L427.62,40.15 L427.76,38.15 L427.90,40.67 L428.03,39.15 L428.17,40.83 L428.31,42.17 L428.44,45.97 L428.58,47.36 L428.72,49.78 L428.86,52.73 L428.99,54.91 L429.13,59.31 L429.27,64.71 L429.40,66.82 L429.54,72.06 L429.68,75.96 L429.81,78.29 L429.95,81.07 L430.09,84.50 L430.23,87.08 L430.36,89.49 L430.50,94.80 L430.64,96.07 L430.77,97.13 L430.91,99.64 L431.05,103.96 L431.18,105.03 L431.32,106.52 L431.46,105.92 L431.59,109.38 L431.73,111.64 L431.87,112.42 L432.01,114.67 L432.14,116.57 L432.28,117.04 L432.42,118.67 L432.55,118.67 L432.69,118.99 L432.83,119.86 L432.96,118.84 L433.10,120.59 L433.24,121.26 L433.38,122.89 L433.51,120.40 L433.65,124.52 L433.79,122.43 L433.92,124.15 L434.06,125.35 L434.20,124.90 L434.33,122.96 L434.47,123.88 L434.61,124.05 L434.74,125.93 L434.88,125.59 L435.02,125.51 L435.16,125.55 L435.29,127.06 L435.43,125.72 L435.57,123.95 L435.70,125.95 L435.84,126.13 L435.98,126.96 L436.11,126.62 L436.25,126.06 L436.39,124.96 L436.53,124.57 L436.66,128.37 L436.80,125.97 L436.94,127.27 L437.07,126.20 L437.21,126.24 L437.35,127.97 L437.48,125.89 L437.62,128.03 L437.76,126.37 L437.89,125.89 L438.03,125.99 L438.17,126.39 L438.31,126.51 L438.44,126.97 L438.58,126.91 L438.72,126.67 L438.85,126.63 L438.99,126.22 L439.13,125.32 L439.26,127.63 L439.40,127.43 L439.54,126.69 L439.68,128.18 L439.81,125.41 L439.95,126.15 L440.09,127.80 L440.22,127.95 L440.36,129.19 L440.50,127.42 L440.63,128.79 L440.77,127.50 L440.91,127.27 L441.04,127.79 L441.18,125.00 L441.32,126.29 L441.46,126.18 L441.59,128.75 L441.73,128.04 L441.87,130.60 L442.00,128.41 L442.14,128.54 L442.28,126.50 L442.41,126.80 L442.55,126.93 L442.69,128.19 L442.83,126.25 L442.96,127.55 L443.10,129.11 L443.24,126.51 L443.37,125.16 L443.51,129.62 L443.65,126.30 L443.78,128.00 L443.92,127.87 L444.06,128.72 L444.19,128.12 L444.33,130.35 L444.47,127.24 L444.61,127.70 L444.74,127.56 L444.88,130.16 L445.02,127.77 L445.15,128.83 L445.29,125.96 L445.43,129.29 L445.56,130.06 L445.70,127.34 L445.84,128.94 L445.98,127.35 L446.11,128.11 L446.25,129.60 L446.39,130.82 L446.52,128.31 L446.66,128.31 L446.80,128.83 L446.93,127.73 L447.07,128.01 L447.21,128.82 L447.34,127.19 L447.48,125.91 L447.62,128.11 L447.76,125.97 L447.89,129.72 L448.03,127.18 L448.17,128.20 L448.30,129.21 L448.44,129.22 L448.58,128.23 L448.71,127.89 L448.85,129.20 L448.99,128.24 L449.13,127.07 L449.26,126.53 L449.40,129.10 L449.54,128.82 L449.67,130.30 L449.81,126.56 L449.95,129.86 L450.08,128.92 L450.22,128.21 L450.36,127.38 L450.49,128.98 L450.63,126.95 L450.77,127.79 L450.91,128.74 L451.04,131.09 L451.18,126.54 L451.32,127.70 L451.45,130.08 L451.59,126.90 L451.73,127.50 L451.86,128.84 L452.00,129.20 L452.14,128.54 L452.28,128.08 L452.41,130.65 L452.55,129.78 L452.69,129.35 L452.82,129.09 L452.96,128.21 L453.10,127.96 L453.23,129.90 L453.37,127.41 L453.51,128.30 L453.64,127.60 L453.78,125.78 L453.92,129.07 L454.06,129.43 L454.19,129.22 L454.33,126.88 L454.47,127.92 L454.60,127.42 L454.74,127.22 L454.88,129.30 L455.01,129.80 L455.15,129.04 L455.29,126.67 L455.43,130.26 L455.56,129.12 L455.70,127.72 L455.84,128.69 L455.97,128.51 L456.11,129.59 L456.25,129.08 L456.38,128.87 L456.52,128.12 L456.66,129.03 L456.79,127.64 L456.93,129.96 L457.07,128.34 L457.21,129.12 L457.34,127.76 L457.48,128.90 L457.62,128.89 L457.75,131.21 L457.89,128.67 L458.03,129.76 L458.16,127.40 L458.30,127.45 L458.44,128.71 L458.58,129.25 L458.71,128.00 L458.85,129.13 L458.99,126.73 L459.12,128.22 L459.26,128.73 L459.40,130.10 L459.53,128.36 L459.67,129.27 L459.81,128.24 L459.94,126.63 L460.08,128.81 L460.22,128.80 L460.36,129.60 L460.49,127.44 L460.63,127.23 L460.77,127.87 L460.90,128.64 L461.04,128.73 L461.18,126.94 L461.31,130.29 L461.45,126.77 L461.59,126.32 L461.73,130.35 L461.86,129.54 L462.00,131.01 L462.14,126.47 L462.27,130.03 L462.41,127.58 L462.55,129.50 L462.68,128.33 L462.82,125.63 L462.96,127.81 L463.09,129.64 L463.23,127.78 L463.37,128.13 L463.51,129.80 L463.64,128.97 L463.78,129.79 L463.92,128.90 L464.05,128.09 L464.19,128.51 L464.33,127.29 L464.46,127.08 L464.60,126.99 L464.74,126.56 L464.88,128.04 L465.01,128.70 L465.15,130.21 L465.29,130.43 L465.42,129.34 L465.56,127.41 L465.70,128.64 L465.83,128.60 L465.97,128.76 L466.11,128.59 L466.24,129.79 L466.38,130.94 L466.52,128.27 L466.66,128.29 L466.79,127.72 L466.93,128.71 L467.07,124.47 L467.20,127.76 L467.34,127.81 L467.48,126.91 L467.61,129.23 L467.75,127.53 L467.89,128.69 L468.02,128.81 L468.16,129.79 L468.30,126.91 L468.44,128.49 L468.57,129.18 L468.71,129.66 L468.85,128.17 L468.98,129.51 L469.12,127.82 L469.26,128.16 L469.39,129.65 L469.53,128.56 L469.67,127.26 L469.81,129.75 L469.94,127.45 L470.08,127.72 L470.22,130.76 L470.35,129.82 L470.49,128.10 L470.63,129.63 L470.76,127.53 L470.90,129.81 L471.04,129.23 L471.17,128.28 L471.31,128.66 L471.45,129.19 L471.59,129.25 L471.72,128.06 L471.86,129.01 L472.00,128.73 L472.13,127.42 L472.27,130.07 L472.41,129.95 L472.54,129.39 L472.68,129.28 L472.82,127.85 L472.96,128.48 L473.09,127.10 L473.23,127.21 L473.37,126.83 L473.50,128.83 L473.64,128.71 L473.78,129.37 L473.91,128.18 L474.05,129.58 L474.19,128.14 L474.32,129.71 L474.46,130.25 L474.60,128.69 L474.74,128.99 L474.87,126.61 L475.01,128.53 L475.15,129.02 L475.28,130.09 L475.42,129.78 L475.56,128.09 L475.69,130.25 L475.83,128.26 L475.97,128.49 L476.11,128.44 L476.24,127.05 L476.38,128.19 L476.52,126.51 L476.65,128.37 L476.79,128.82 L476.93,125.23 L477.06,128.93 L477.20,128.93 L477.34,128.23 L477.47,128.24 L477.61,129.42 L477.75,128.55 L477.89,131.06 L478.02,127.50 L478.16,130.43 L478.30,128.87 L478.43,130.37 L478.57,130.03 L478.71,129.64 L478.84,129.20 L478.98,128.71 L479.12,128.27 L479.26,129.22 L479.39,128.21 L479.53,127.77 L479.67,129.05 L479.80,129.83 L479.94,129.21 L480.08,127.21 L480.21,128.83 L480.35,128.75 L480.49,127.93 L480.62,127.43 L480.76,129.58 L480.90,127.30 L481.04,128.87 L481.17,127.14 L481.31,127.57 L481.45,129.31 L481.58,129.20 L481.72,129.54 L481.86,127.41 L481.99,128.24 L482.13,127.44 L482.27,130.43 L482.41,128.51 L482.54,128.59 L482.68,129.72 L482.82,129.45 L482.95,129.89 L483.09,128.45 L483.23,128.18 L483.36,129.48 L483.50,127.28 L483.64,128.21 L483.77,127.56 L483.91,128.80 L484.05,127.73 L484.19,128.41 L484.32,127.00 L484.46,127.26 L484.60,128.29 L484.73,128.92 L484.87,128.01 L485.01,127.22 L485.14,129.26 L485.28,128.75 L485.42,128.86 L485.56,127.64 L485.69,127.50 L485.83,128.61 L485.97,128.53 L486.10,130.21 L486.24,127.20 L486.38,128.76 L486.51,126.39 L486.65,127.85 L486.79,129.05 L486.92,127.60 L487.06,129.14 L487.20,129.95 L487.34,128.93 L487.47,129.28 L487.61,127.44 L487.75,126.81 L487.88,129.30 L488.02,128.32 L488.16,127.20 L488.29,128.22 L488.43,125.84 L488.57,128.35 L488.71,129.44 L488.84,128.52 L488.98,130.72 L489.12,130.66 L489.25,127.18 L489.39,126.34 L489.53,127.58 L489.66,128.36 L489.80,129.69 L489.94,127.76 L490.07,130.49 L490.21,127.45 L490.35,127.04 L490.49,126.53 L490.62,128.81 L490.76,130.70 L490.90,128.63 L491.03,128.92 L491.17,128.21 L491.31,129.11 L491.44,127.44 L491.58,128.79 L491.72,127.46 L491.86,128.77 L491.99,128.03 L492.13,127.52 L492.27,127.91 L492.40,128.15 L492.54,129.23 L492.68,127.79 L492.81,127.57 L492.95,127.06 L493.09,128.18 L493.22,129.02 L493.36,127.03 L493.50,126.73 L493.64,127.49 L493.77,128.11 L493.91,128.96 L494.05,128.11 L494.18,127.80 L494.32,125.75 L494.46,127.18 L494.59,129.96 L494.73,127.96 L494.87,127.91 L495.01,127.08 L495.14,126.95 L495.28,128.37 L495.42,126.73 L495.55,129.20 L495.69,126.88 L495.83,128.66 L495.96,130.02 L496.10,129.48 L496.24,130.75 L496.37,128.95 L496.51,127.10 L496.65,127.77 L496.79,130.59 L496.92,127.80 L497.06,129.84 L497.20,128.52 L497.33,126.94 L497.47,128.79 L497.61,129.55 L497.74,127.28 L497.88,129.61 L498.02,129.69 L498.16,126.09 L498.29,127.51 L498.43,131.31 L498.57,129.26 L498.70,127.41 L498.84,127.81 L498.98,129.35 L499.11,127.93 L499.25,129.41 L499.39,130.01 L499.52,129.75 L499.66,128.86 L499.80,128.13 L499.94,128.24 L500.07,129.33 L500.21,129.54 L500.35,127.59 L500.48,127.68 L500.62,129.21 L500.76,126.67 L500.89,129.28 L501.03,127.19 L501.17,126.74 L501.31,127.15 L501.44,128.32 L501.58,127.60 L501.72,129.57 L501.85,126.93 L501.99,127.78 L502.13,126.51 L502.26,129.45 L502.40,127.08 L502.54,127.36 L502.67,129.05 L502.81,127.94 L502.95,128.07 L503.09,126.84 L503.22,126.96 L503.36,128.62 L503.50,126.07 L503.63,128.33 L503.77,128.41 L503.91,129.38 L504.04,129.27 L504.18,130.99 L504.32,129.42 L504.45,127.65 L504.59,129.46 L504.73,129.57 L504.87,125.74 L505.00,127.24 L505.14,129.34 L505.28,126.56 L505.41,127.41 L505.55,124.74 L505.69,126.47 L505.82,127.04 L505.96,128.34 L506.10,128.60 L506.24,126.44 L506.37,127.47 L506.51,130.34 L506.65,129.21 L506.78,128.00 L506.92,127.57 L507.06,129.99 L507.19,127.13 L507.33,126.81 L507.47,126.96 L507.60,127.37 L507.74,127.96 L507.88,126.28 L508.02,128.20 L508.15,128.02 L508.29,128.41 L508.43,129.76 L508.56,128.59 L508.70,128.27 L508.84,128.16 L508.97,128.06 L509.11,126.60 L509.25,131.09 L509.39,127.95 L509.52,130.64 L509.66,128.57 L509.80,129.31 L509.93,127.70 L510.07,128.19 L510.21,127.29 L510.34,128.98 L510.48,126.89 L510.62,126.38 L510.75,129.22 L510.89,130.80 L511.03,126.50 L511.17,127.44 L511.30,129.37 L511.44,126.77 L511.58,128.75 L511.71,128.11 L511.85,126.96 L511.99,127.80 L512.12,128.97 L512.26,127.04 L512.40,126.85 L512.54,127.65 L512.67,126.03 L512.81,126.52 L512.95,128.05 L513.08,129.17 L513.22,126.63 L513.36,128.15 L513.49,129.51 L513.63,127.13 L513.77,127.46 L513.90,126.72 L514.04,127.44 L514.18,128.87 L514.32,128.48 L514.45,127.59 L514.59,127.50 L514.73,127.29 L514.86,127.15 L515.00,127.70 L515.14,129.77 L515.27,127.46 L515.41,129.89 L515.55,128.17 L515.69,126.53 L515.82,127.14 L515.96,128.19 L516.10,126.89 L516.23,130.28 L516.37,128.77 L516.51,128.25 L516.64,129.23 L516.78,128.04 L516.92,129.61 L517.05,129.81 L517.19,129.76 L517.33,127.99 L517.47,128.19 L517.60,129.90 L517.74,127.74 L517.88,127.74 L518.01,127.93 L518.15,126.57 L518.29,129.89 L518.42,126.90 L518.56,124.55 L518.70,127.09 L518.84,127.92 L518.97,128.36 L519.11,127.09 L519.25,128.86 L519.38,129.60 L519.52,127.59 L519.66,126.82 L519.79,127.69 L519.93,127.93 L520.07,126.95 L520.20,129.10 L520.34,127.24 L520.48,127.95 L520.62,129.86 L520.75,127.85 L520.89,128.13 L521.03,128.20 L521.16,127.02 L521.30,128.37 L521.44,128.35 L521.57,130.21 L521.71,127.43 L521.85,126.72 L521.99,127.21 L522.12,128.39 L522.26,126.90 L522.40,127.05 L522.53,128.45 L522.67,126.62 L522.81,128.64 L522.94,129.87 L523.08,129.86 L523.22,126.40 L523.35,128.63 L523.49,126.58 L523.63,127.81 L523.77,127.45 L523.90,128.44 L524.04,126.11 L524.18,127.01 L524.31,127.30 L524.45,130.17 L524.59,130.14 L524.72,128.55 L524.86,126.87 L525.00,128.70 L525.14,129.58 L525.27,126.29 L525.41,127.00 L525.55,129.25 L525.68,127.45 L525.82,127.57 L525.96,127.41 L526.09,127.12 L526.23,127.45 L526.37,127.44 L526.50,126.22 L526.64,129.35 L526.78,128.66 L526.92,128.96 L527.05,127.34 L527.19,128.47 L527.33,126.49 L527.46,127.14 L527.60,126.67 L527.74,127.08 L527.87,125.75 L528.01,127.68 L528.15,127.02 L528.29,126.50 L528.42,127.69 L528.56,127.00 L528.70,126.88 L528.83,127.97 L528.97,126.12 L529.11,125.67 L529.24,129.96 L529.38,127.80 L529.52,127.47 L529.65,127.15 L529.79,124.79 L529.93,127.50 L530.07,127.62 L530.20,126.87 L530.34,128.07 L530.48,124.86 L530.61,126.15 L530.75,128.81 L530.89,126.06 L531.02,126.49 L531.16,127.22 L531.30,125.04 L531.44,127.24 L531.57,124.09 L531.71,127.54 L531.85,127.67 L531.98,125.88 L532.12,123.50 L532.26,124.29 L532.39,125.82 L532.53,125.22 L532.67,126.37 L532.80,125.18 L532.94,124.35 L533.08,126.46 L533.22,125.85 L533.35,127.79 L533.49,125.16 L533.63,125.18 L533.76,125.29 L533.90,125.09 L534.04,123.98 L534.17,125.08 L534.31,125.46 L534.45,122.76 L534.59,125.47 L534.72,122.37 L534.86,124.36 L535.00,125.64 L535.13,124.29 L535.27,123.57 L535.41,124.77 L535.54,124.79 L535.68,123.03 L535.82,123.09 L535.95,124.50 L536.09,121.26 L536.23,125.50 L536.37,120.92 L536.50,121.40 L536.64,123.36 L536.78,122.60 L536.91,121.45 L537.05,120.14 L537.19,118.78 L537.32,122.13 L537.46,121.60 L537.60,117.61 L537.74,118.86 L537.87,119.20 L538.01,119.57 L538.15,116.77 L538.28,119.16 L538.42,117.20 L538.56,119.15 L538.69,116.98 L538.83,118.67 L538.97,114.79 L539.10,113.47 L539.24,117.15 L539.38,113.67 L539.52,111.61 L539.65,112.16 L539.79,112.20 L539.93,113.92 L540.06,112.06 L540.20,110.51 L540.34,110.35 L540.47,110.07 L540.61,107.60 L540.75,108.02 L540.89,106.44 L541.02,107.18 L541.16,104.89 L541.30,105.12 L541.43,104.27 L541.57,104.61 L541.71,103.54 L541.84,104.08 L541.98,101.43 L542.12,98.80 L542.25,98.68 L542.39,99.07 L542.53,97.76 L542.67,97.97 L542.80,98.06 L542.94,98.10 L543.08,95.22 L543.21,96.17 L543.35,95.67 L543.49,94.37 L543.62,94.95 L543.76,94.03 L543.90,92.83 L544.03,90.60 L544.17,91.10 L544.31,91.02 L544.45,90.72 L544.58,91.60 L544.72,91.07 L544.86,91.16 L544.99,89.81 L545.13,89.01 L545.27,90.25 L545.40,91.16 L545.54,89.66 L545.68,90.53 L545.82,90.96 L545.95,90.21 L546.09,90.36 L546.23,90.89 L546.36,90.59 L546.50,90.52 L546.64,91.91 L546.77,88.96 L546.91,91.87 L547.05,92.87 L547.18,90.53 L547.32,94.65 L547.46,93.38 L547.60,93.70 L547.73,94.63 L547.87,94.60 L548.01,96.66 L548.14,98.29 L548.28,97.09 L548.42,97.82 L548.55,99.40 L548.69,97.94 L548.83,98.57 L548.97,102.12 L549.10,100.96 L549.24,101.86 L549.38,102.91 L549.51,100.75 L549.65,105.04 L549.79,104.05 L549.92,106.34 L550.06,107.72 L550.20,105.32 L550.33,107.32 L550.47,108.44 L550.61,107.71 L550.75,110.35 L550.88,111.56 L551.02,110.81 L551.16,109.79 L551.29,112.39 L551.43,113.61 L551.57,112.68 L551.70,114.80 L551.84,113.88 L551.98,116.73 L552.12,114.53 L552.25,116.91 L552.39,114.89 L552.53,116.92 L552.66,117.14 L552.80,116.79 L552.94,118.29 L553.07,120.52 L553.21,120.22 L553.35,117.27 L553.48,119.47 L553.62,119.18 L553.76,120.03 L553.90,121.47 L554.03,121.03 L554.17,122.98 L554.31,121.72 L554.44,124.10 L554.58,122.78 L554.72,121.86 L554.85,123.61 L554.99,122.74 L555.13,122.55 L555.27,124.42 L555.40,124.94 L555.54,124.57 L555.68,124.96 L555.81,123.77 L555.95,124.34 L556.09,123.01 L556.22,123.69 L556.36,125.90 L556.50,126.07 L556.63,124.95 L556.77,125.59 L556.91,125.55 L557.05,124.26 L557.18,126.22 L557.32,125.94 L557.46,125.04 L557.59,126.21 L557.73,126.34 L557.87,128.78 L558.00,125.52 L558.14,124.93 L558.28,126.60 L558.42,128.76 L558.55,126.53 L558.69,126.98 L558.83,126.64 L558.96,127.60 L559.10,123.53 L559.24,126.07 L559.37,125.47 L559.51,129.71 L559.65,123.13 L559.78,125.11 L559.92,129.06 L560.06,128.02 L560.20,127.85 L560.33,127.22 L560.47,128.25 L560.61,127.91 L560.74,126.79 L560.88,126.83 L561.02,125.64 L561.15,130.11 L561.29,127.89 L561.43,125.78 L561.57,126.42 L561.70,127.11 L561.84,129.99 L561.98,126.21 L562.11,128.62 L562.25,127.60 L562.39,126.18 L562.52,126.32 L562.66,127.35 L562.80,127.75 L562.93,127.04 L563.07,126.29 L563.21,126.31 L563.35,127.83 L563.48,128.39 L563.62,129.23 L563.76,127.48 L563.89,128.08 L564.03,128.85 L564.17,129.78 L564.30,128.19 L564.44,128.16 L564.58,128.42 L564.72,127.36 L564.85,127.49 L564.99,129.22 L565.13,127.34 L565.26,127.35 L565.40,129.86 L565.54,126.60 L565.67,130.39 L565.81,130.17 L565.95,126.84 L566.08,126.74 L566.22,127.33 L566.36,128.58 L566.50,128.93 L566.63,128.37 L566.77,128.29 L566.91,129.22 L567.04,127.02 L567.18,125.66 L567.32,127.25 L567.45,129.15 L567.59,130.84 L567.73,129.17 L567.87,130.09 L568.00,129.57 L568.14,127.66 L568.28,128.26 L568.41,129.70 L568.55,128.82 L568.69,127.47 L568.82,129.04 L568.96,128.17 L569.10,129.01 L569.23,130.40 L569.37,129.10 L569.51,129.36 L569.65,126.84 L569.78,127.83 L569.92,126.54 L570.06,128.61 L570.19,127.31 L570.33,128.26 L570.47,128.93 L570.60,129.35 L570.74,127.95 L570.88,129.84 L571.02,127.69 L571.15,130.64 L571.29,127.81 L571.43,128.56 L571.56,127.90 L571.70,127.28 L571.84,130.46 L571.97,127.53 L572.11,128.76 L572.25,127.02 L572.38,128.52 L572.52,127.42 L572.66,130.34 L572.80,128.37 L572.93,129.94 L573.07,129.51 L573.21,129.52 L573.34,128.72 L573.48,127.33 L573.62,127.72 L573.75,130.22 L573.89,129.89 L574.03,128.43 L574.17,128.69 L574.30,127.59 L574.44,127.33 L574.58,128.82 L574.71,129.48 L574.85,130.25 L574.99,129.79 L575.12,129.53 L575.26,128.19 L575.40,129.32 L575.53,130.77 L575.67,131.04 L575.81,128.26 L575.95,129.05 L576.08,129.84 L576.22,129.74 L576.36,127.13 L576.49,129.33 L576.63,127.44 L576.77,130.27 L576.90,129.83 L577.04,129.25 L577.18,129.15 L577.32,128.05 L577.45,129.80 L577.59,129.32 L577.73,130.57 L577.86,129.15 L578.00,129.31 L578.14,129.94" fill="none" stroke="#000" stroke-width="1.6" stroke-linejoin="round"/><rect x="367.5" y="29.4" width="210.70000000000005" height="102.19999999999999" fill="none" stroke="#303030" stroke-width="1.2"/><line x1="367.5" y1="131.6" x2="367.5" y2="129.6" stroke="#3a3a3a" stroke-width="1"/><text x="367.5" y="145.3" font-size="10.6" text-anchor="middle" font-weight="normal" fill="#000" textLength="20.8" lengthAdjust="spacingAndGlyphs">1000</text><line x1="420.175" y1="131.6" x2="420.175" y2="129.6" stroke="#3a3a3a" stroke-width="1"/><text x="420.2" y="145.3" font-size="10.6" text-anchor="middle" font-weight="normal" fill="#000" textLength="20.8" lengthAdjust="spacingAndGlyphs">1500</text><line x1="472.85" y1="131.6" x2="472.85" y2="129.6" stroke="#3a3a3a" stroke-width="1"/><text x="472.9" y="145.3" font-size="10.6" text-anchor="middle" font-weight="normal" fill="#000" textLength="20.8" lengthAdjust="spacingAndGlyphs">2000</text><line x1="525.5250000000001" y1="131.6" x2="525.5250000000001" y2="129.6" stroke="#3a3a3a" stroke-width="1"/><text x="525.5" y="145.3" font-size="10.6" text-anchor="middle" font-weight="normal" fill="#000" textLength="20.8" lengthAdjust="spacingAndGlyphs">2500</text><line x1="578.2" y1="131.6" x2="578.2" y2="129.6" stroke="#3a3a3a" stroke-width="1"/><text x="578.2" y="145.3" font-size="10.6" text-anchor="middle" font-weight="normal" fill="#000" textLength="20.8" lengthAdjust="spacingAndGlyphs">3000</text><line x1="393.8375" y1="131.6" x2="393.8375" y2="130.1" stroke="#3a3a3a" stroke-width="1"/><line x1="446.51250000000005" y1="131.6" x2="446.51250000000005" y2="130.1" stroke="#3a3a3a" stroke-width="1"/><line x1="499.1875" y1="131.6" x2="499.1875" y2="130.1" stroke="#3a3a3a" stroke-width="1"/><line x1="551.8625000000001" y1="131.6" x2="551.8625000000001" y2="130.1" stroke="#3a3a3a" stroke-width="1"/><text x="413.8" y="163.9" font-size="15.9" text-anchor="start" font-weight="normal" fill="#000" textLength="118.5" lengthAdjust="spacingAndGlyphs">Raman shift (cm<tspan dy="-5.5" font-size="9.5">-1</tspan><tspan dy="5.5">)</tspan></text><text transform="translate(355.5,136.1) scale(0.88,1) rotate(-90)" x="0" y="0" font-size="15.2" fill="#000" textLength="111.5" lengthAdjust="spacingAndGlyphs">Absorption (a.u.)</text><path d="M367.50,273.20 L368.50,273.20 L369.50,273.20 L370.50,273.20 L371.50,273.20 L372.50,273.20 L373.50,273.20 L374.50,273.20 L375.50,273.20 L376.50,273.20 L377.50,273.20 L378.50,273.20 L379.50,273.20 L380.50,273.19 L381.50,273.19 L382.50,273.19 L383.50,273.19 L384.50,273.19 L385.50,273.19 L386.50,273.19 L387.50,273.19 L388.50,273.19 L389.50,273.18 L390.50,273.18 L391.50,273.18 L392.50,273.18 L393.50,273.18 L394.50,273.17 L395.50,273.17 L396.50,273.16 L397.50,273.16 L398.50,273.16 L399.50,273.15 L400.50,273.14 L401.50,273.14 L402.50,273.13 L403.50,273.12 L404.50,273.11 L405.50,273.10 L406.50,273.09 L407.50,273.08 L408.50,273.07 L409.50,273.05 L410.50,273.04 L411.50,273.02 L412.50,273.00 L413.50,272.98 L414.50,272.96 L415.50,272.93 L416.50,272.91 L417.50,272.88 L418.50,272.84 L419.50,272.81 L420.50,272.77 L421.50,272.72 L422.50,272.68 L423.50,272.62 L424.50,272.57 L425.50,272.51 L426.50,272.44 L427.50,272.37 L428.50,272.30 L429.50,272.21 L430.50,272.13 L431.50,272.03 L432.50,271.93 L433.50,271.82 L434.50,271.70 L435.50,271.58 L436.50,271.45 L437.50,271.32 L438.50,271.17 L439.50,271.02 L440.50,270.87 L441.50,270.71 L442.50,270.54 L443.50,270.37 L444.50,270.20 L445.50,270.03 L446.50,269.85 L447.50,269.68 L448.50,269.50 L449.50,269.33 L450.50,269.16 L451.50,268.99 L452.50,268.83 L453.50,268.67 L454.50,268.52 L455.50,268.37 L456.50,268.23 L457.50,268.10 L458.50,267.98 L459.50,267.86 L460.50,267.75 L461.50,267.65 L462.50,267.56 L463.50,267.47 L464.50,267.39 L465.50,267.32 L466.50,267.26 L467.50,267.20 L468.50,267.15 L469.50,267.10 L470.50,267.06 L471.50,267.03 L472.50,267.00 L473.50,266.98 L474.50,266.96 L475.50,266.94 L476.50,266.93 L477.50,266.93 L478.50,266.92 L479.50,266.92 L480.50,266.93 L481.50,266.93 L482.50,266.94 L483.50,266.95 L484.50,266.97 L485.50,266.98 L486.50,267.00 L487.50,267.02 L488.50,267.04 L489.50,267.06 L490.50,267.08 L491.50,267.11 L492.50,267.13 L493.50,267.16 L494.50,267.18 L495.50,267.21 L496.50,267.24 L497.50,267.26 L498.50,267.29 L499.50,267.32 L500.50,267.34 L501.50,267.37 L502.50,267.40 L503.50,267.42 L504.50,267.45 L505.50,267.47 L506.50,267.49 L507.50,267.52 L508.50,267.54 L509.50,267.56 L510.50,267.58 L511.50,267.60 L512.50,267.62 L513.50,267.64 L514.50,267.66 L515.50,267.67 L516.50,267.69 L517.50,267.70 L518.50,267.72 L519.50,267.73 L520.50,267.75 L521.50,267.76 L522.50,267.77 L523.50,267.78 L524.50,267.79 L525.50,267.80 L526.50,267.81 L527.50,267.82 L528.50,267.82 L529.50,267.83 L530.50,267.84 L531.50,267.84 L532.50,267.85 L533.50,267.85 L534.50,267.86 L535.50,267.86 L536.50,267.87 L537.50,267.87 L538.50,267.87 L539.50,267.88 L540.50,267.88 L541.50,267.88 L542.50,267.88 L543.50,267.88 L544.50,267.89 L545.50,267.89 L546.50,267.89 L547.50,267.89 L548.50,267.89 L549.50,267.89 L550.50,267.89 L551.50,267.89 L552.50,267.89 L553.50,267.90 L554.50,267.90 L555.50,267.90 L556.50,267.90 L557.50,267.90 L558.50,267.90 L559.50,267.90 L560.50,267.90 L561.50,267.90 L562.50,267.90 L563.50,267.90 L564.50,267.90 L565.50,267.90 L566.50,267.90 L567.50,267.90 L568.50,267.90 L569.50,267.90 L570.50,267.90 L571.50,267.90 L572.50,267.90 L573.50,267.90 L574.50,267.90 L575.50,267.90 L576.50,267.90 L577.50,267.90 L578.50,267.90" fill="none" stroke="#40d8e8" stroke-width="1.3"/><path d="M367.50,272.27 L368.50,272.26 L369.50,272.25 L370.50,272.23 L371.50,272.22 L372.50,272.21 L373.50,272.20 L374.50,272.18 L375.50,272.17 L376.50,272.15 L377.50,272.14 L378.50,272.12 L379.50,272.10 L380.50,272.08 L381.50,272.06 L382.50,272.04 L383.50,272.02 L384.50,271.99 L385.50,271.97 L386.50,271.94 L387.50,271.91 L388.50,271.88 L389.50,271.84 L390.50,271.81 L391.50,271.77 L392.50,271.73 L393.50,271.68 L394.50,271.63 L395.50,271.58 L396.50,271.52 L397.50,271.46 L398.50,271.39 L399.50,271.31 L400.50,271.23 L401.50,271.13 L402.50,271.01 L403.50,270.87 L404.50,270.70 L405.50,270.49 L406.50,270.22 L407.50,269.89 L408.50,269.47 L409.50,268.93 L410.50,268.23 L411.50,267.35 L412.50,266.23 L413.50,264.82 L414.50,263.07 L415.50,260.93 L416.50,258.34 L417.50,255.25 L418.50,251.62 L419.50,247.44 L420.50,242.69 L421.50,237.41 L422.50,231.63 L423.50,225.44 L424.50,218.94 L425.50,212.29 L426.50,205.66 L427.50,199.28 L428.50,193.41 L429.50,188.35 L430.50,184.43 L431.50,181.94 L432.50,181.07 L433.50,181.90 L434.50,184.28 L435.50,187.99 L436.50,192.71 L437.50,198.11 L438.50,203.92 L439.50,209.89 L440.50,215.82 L441.50,221.53 L442.50,226.91 L443.50,231.86 L444.50,236.31 L445.50,240.24 L446.50,243.64 L447.50,246.52 L448.50,248.92 L449.50,250.88 L450.50,252.46 L451.50,253.72 L452.50,254.71 L453.50,255.49 L454.50,256.11 L455.50,256.61 L456.50,257.03 L457.50,257.39 L458.50,257.72 L459.50,258.03 L460.50,258.34 L461.50,258.64 L462.50,258.95 L463.50,259.27 L464.50,259.59 L465.50,259.91 L466.50,260.24 L467.50,260.56 L468.50,260.87 L469.50,261.17 L470.50,261.46 L471.50,261.74 L472.50,262.00 L473.50,262.23 L474.50,262.45 L475.50,262.64 L476.50,262.82 L477.50,262.97 L478.50,263.11 L479.50,263.22 L480.50,263.32 L481.50,263.40 L482.50,263.47 L483.50,263.53 L484.50,263.58 L485.50,263.62 L486.50,263.66 L487.50,263.69 L488.50,263.72 L489.50,263.75 L490.50,263.78 L491.50,263.81 L492.50,263.84 L493.50,263.88 L494.50,263.93 L495.50,263.98 L496.50,264.03 L497.50,264.10 L498.50,264.16 L499.50,264.24 L500.50,264.32 L501.50,264.40 L502.50,264.49 L503.50,264.58 L504.50,264.68 L505.50,264.78 L506.50,264.88 L507.50,264.99 L508.50,265.09 L509.50,265.20 L510.50,265.31 L511.50,265.41 L512.50,265.52 L513.50,265.62 L514.50,265.72 L515.50,265.82 L516.50,265.92 L517.50,266.01 L518.50,266.10 L519.50,266.18 L520.50,266.26 L521.50,266.34 L522.50,266.41 L523.50,266.48 L524.50,266.55 L525.50,266.61 L526.50,266.66 L527.50,266.72 L528.50,266.76 L529.50,266.81 L530.50,266.85 L531.50,266.89 L532.50,266.92 L533.50,266.95 L534.50,266.98 L535.50,267.01 L536.50,267.03 L537.50,267.05 L538.50,267.07 L539.50,267.09 L540.50,267.10 L541.50,267.11 L542.50,267.13 L543.50,267.14 L544.50,267.15 L545.50,267.15 L546.50,267.16 L547.50,267.17 L548.50,267.17 L549.50,267.18 L550.50,267.18 L551.50,267.19 L552.50,267.19 L553.50,267.20 L554.50,267.20 L555.50,267.20 L556.50,267.20 L557.50,267.21 L558.50,267.21 L559.50,267.21 L560.50,267.21 L561.50,267.21 L562.50,267.22 L563.50,267.22 L564.50,267.22 L565.50,267.22 L566.50,267.22 L567.50,267.22 L568.50,267.22 L569.50,267.22 L570.50,267.23 L571.50,267.23 L572.50,267.23 L573.50,267.23 L574.50,267.23 L575.50,267.23 L576.50,267.23 L577.50,267.23 L578.50,267.23" fill="none" stroke="#000" stroke-width="1.3"/><path d="M367.50,271.98 L368.50,271.97 L369.50,271.95 L370.50,271.94 L371.50,271.93 L372.50,271.92 L373.50,271.91 L374.50,271.89 L375.50,271.88 L376.50,271.86 L377.50,271.85 L378.50,271.83 L379.50,271.81 L380.50,271.79 L381.50,271.77 L382.50,271.75 L383.50,271.73 L384.50,271.71 L385.50,271.68 L386.50,271.65 L387.50,271.63 L388.50,271.60 L389.50,271.56 L390.50,271.53 L391.50,271.49 L392.50,271.45 L393.50,271.41 L394.50,271.36 L395.50,271.31 L396.50,271.25 L397.50,271.19 L398.50,271.12 L399.50,271.05 L400.50,270.96 L401.50,270.86 L402.50,270.75 L403.50,270.61 L404.50,270.45 L405.50,270.25 L406.50,269.99 L407.50,269.67 L408.50,269.26 L409.50,268.74 L410.50,268.07 L411.50,267.22 L412.50,266.13 L413.50,264.78 L414.50,263.09 L415.50,261.02 L416.50,258.52 L417.50,255.54 L418.50,252.04 L419.50,248.01 L420.50,243.44 L421.50,238.35 L422.50,232.79 L423.50,226.84 L424.50,220.61 L425.50,214.24 L426.50,207.91 L427.50,201.84 L428.50,196.29 L429.50,191.55 L430.50,187.94 L431.50,185.75 L432.50,185.16 L433.50,186.24 L434.50,188.87 L435.50,192.81 L436.50,197.75 L437.50,203.38 L438.50,209.41 L439.50,215.61 L440.50,221.78 L441.50,227.74 L442.50,233.37 L443.50,238.58 L444.50,243.30 L445.50,247.49 L446.50,251.13 L447.50,254.25 L448.50,256.87 L449.50,259.03 L450.50,260.78 L451.50,262.18 L452.50,263.27 L453.50,264.11 L454.50,264.75 L455.50,265.23 L456.50,265.58 L457.50,265.83 L458.50,266.01 L459.50,266.14 L460.50,266.23 L461.50,266.29 L462.50,266.34 L463.50,266.37 L464.50,266.39 L465.50,266.41 L466.50,266.42 L467.50,266.43 L468.50,266.44 L469.50,266.45 L470.50,266.46 L471.50,266.46 L472.50,266.47 L473.50,266.48 L474.50,266.49 L475.50,266.50 L476.50,266.51 L477.50,266.52 L478.50,266.53 L479.50,266.54 L480.50,266.55 L481.50,266.56 L482.50,266.57 L483.50,266.58 L484.50,266.59 L485.50,266.60 L486.50,266.61 L487.50,266.61 L488.50,266.62 L489.50,266.63 L490.50,266.64 L491.50,266.65 L492.50,266.66 L493.50,266.67 L494.50,266.68 L495.50,266.68 L496.50,266.69 L497.50,266.70 L498.50,266.71 L499.50,266.71 L500.50,266.72 L501.50,266.73 L502.50,266.73 L503.50,266.74 L504.50,266.75 L505.50,266.75 L506.50,266.76 L507.50,266.76 L508.50,266.77 L509.50,266.78 L510.50,266.78 L511.50,266.79 L512.50,266.79 L513.50,266.80 L514.50,266.80 L515.50,266.81 L516.50,266.81 L517.50,266.81 L518.50,266.82 L519.50,266.82 L520.50,266.83 L521.50,266.83 L522.50,266.83 L523.50,266.84 L524.50,266.84 L525.50,266.84 L526.50,266.85 L527.50,266.85 L528.50,266.85 L529.50,266.86 L530.50,266.86 L531.50,266.86 L532.50,266.86 L533.50,266.87 L534.50,266.87 L535.50,266.87 L536.50,266.87 L537.50,266.88 L538.50,266.88 L539.50,266.88 L540.50,266.88 L541.50,266.88 L542.50,266.89 L543.50,266.89 L544.50,266.89 L545.50,266.89 L546.50,266.89 L547.50,266.90 L548.50,266.90 L549.50,266.90 L550.50,266.90 L551.50,266.90 L552.50,266.90 L553.50,266.91 L554.50,266.91 L555.50,266.91 L556.50,266.91 L557.50,266.91 L558.50,266.91 L559.50,266.92 L560.50,266.92 L561.50,266.92 L562.50,266.92 L563.50,266.92 L564.50,266.92 L565.50,266.92 L566.50,266.92 L567.50,266.92 L568.50,266.93 L569.50,266.93 L570.50,266.93 L571.50,266.93 L572.50,266.93 L573.50,266.93 L574.50,266.93 L575.50,266.93 L576.50,266.93 L577.50,266.93 L578.50,266.94" fill="none" stroke="#1a1aa8" stroke-width="2.0"/><path d="M367.50,272.30 L368.50,272.30 L369.50,272.30 L370.50,272.30 L371.50,272.30 L372.50,272.30 L373.50,272.30 L374.50,272.30 L375.50,272.30 L376.50,272.30 L377.50,272.30 L378.50,272.30 L379.50,272.30 L380.50,272.30 L381.50,272.30 L382.50,272.30 L383.50,272.30 L384.50,272.29 L385.50,272.29 L386.50,272.29 L387.50,272.29 L388.50,272.29 L389.50,272.29 L390.50,272.29 L391.50,272.29 L392.50,272.29 L393.50,272.29 L394.50,272.28 L395.50,272.28 L396.50,272.28 L397.50,272.28 L398.50,272.27 L399.50,272.27 L400.50,272.27 L401.50,272.26 L402.50,272.26 L403.50,272.25 L404.50,272.25 L405.50,272.24 L406.50,272.23 L407.50,272.22 L408.50,272.21 L409.50,272.19 L410.50,272.18 L411.50,272.16 L412.50,272.14 L413.50,272.11 L414.50,272.08 L415.50,272.04 L416.50,271.99 L417.50,271.94 L418.50,271.88 L419.50,271.81 L420.50,271.73 L421.50,271.63 L422.50,271.52 L423.50,271.39 L424.50,271.25 L425.50,271.08 L426.50,270.90 L427.50,270.69 L428.50,270.45 L429.50,270.19 L430.50,269.90 L431.50,269.59 L432.50,269.24 L433.50,268.87 L434.50,268.46 L435.50,268.04 L436.50,267.58 L437.50,267.10 L438.50,266.60 L439.50,266.09 L440.50,265.56 L441.50,265.02 L442.50,264.48 L443.50,263.95 L444.50,263.42 L445.50,262.90 L446.50,262.40 L447.50,261.93 L448.50,261.50 L449.50,261.09 L450.50,260.73 L451.50,260.42 L452.50,260.15 L453.50,259.93 L454.50,259.77 L455.50,259.66 L456.50,259.59 L457.50,259.58 L458.50,259.62 L459.50,259.70 L460.50,259.82 L461.50,259.97 L462.50,260.16 L463.50,260.37 L464.50,260.60 L465.50,260.84 L466.50,261.09 L467.50,261.35 L468.50,261.60 L469.50,261.85 L470.50,262.09 L471.50,262.32 L472.50,262.54 L473.50,262.74 L474.50,262.92 L475.50,263.08 L476.50,263.22 L477.50,263.35 L478.50,263.45 L479.50,263.54 L480.50,263.61 L481.50,263.67 L482.50,263.72 L483.50,263.76 L484.50,263.79 L485.50,263.81 L486.50,263.83 L487.50,263.84 L488.50,263.86 L489.50,263.87 L490.50,263.89 L491.50,263.91 L492.50,263.93 L493.50,263.96 L494.50,263.99 L495.50,264.03 L496.50,264.07 L497.50,264.12 L498.50,264.18 L499.50,264.25 L500.50,264.32 L501.50,264.39 L502.50,264.47 L503.50,264.56 L504.50,264.65 L505.50,264.74 L506.50,264.84 L507.50,264.93 L508.50,265.03 L509.50,265.13 L510.50,265.23 L511.50,265.34 L512.50,265.43 L513.50,265.53 L514.50,265.63 L515.50,265.72 L516.50,265.81 L517.50,265.90 L518.50,265.99 L519.50,266.07 L520.50,266.14 L521.50,266.22 L522.50,266.29 L523.50,266.35 L524.50,266.41 L525.50,266.47 L526.50,266.52 L527.50,266.57 L528.50,266.62 L529.50,266.66 L530.50,266.70 L531.50,266.73 L532.50,266.76 L533.50,266.79 L534.50,266.82 L535.50,266.84 L536.50,266.86 L537.50,266.88 L538.50,266.89 L539.50,266.91 L540.50,266.92 L541.50,266.93 L542.50,266.94 L543.50,266.95 L544.50,266.96 L545.50,266.96 L546.50,266.97 L547.50,266.97 L548.50,266.98 L549.50,266.98 L550.50,266.98 L551.50,266.99 L552.50,266.99 L553.50,266.99 L554.50,266.99 L555.50,266.99 L556.50,267.00 L557.50,267.00 L558.50,267.00 L559.50,267.00 L560.50,267.00 L561.50,267.00 L562.50,267.00 L563.50,267.00 L564.50,267.00 L565.50,267.00 L566.50,267.00 L567.50,267.00 L568.50,267.00 L569.50,267.00 L570.50,267.00 L571.50,267.00 L572.50,267.00 L573.50,267.00 L574.50,267.00 L575.50,267.00 L576.50,267.00 L577.50,267.00 L578.50,267.00" fill="none" stroke="#3cd03c" stroke-width="1.8"/><g fill="#000"><rect x="367.6" y="271.3" width="1.8" height="2"/><rect x="370.1" y="271.2" width="1.8" height="2"/><rect x="372.5" y="271.2" width="1.8" height="2"/><rect x="374.9" y="271.2" width="1.8" height="2"/><rect x="377.4" y="271.1" width="1.8" height="2"/><rect x="379.8" y="271.1" width="1.8" height="2"/><rect x="382.3" y="271.0" width="1.8" height="2"/><rect x="384.7" y="271.0" width="1.8" height="2"/><rect x="387.2" y="270.9" width="1.8" height="2"/><rect x="389.6" y="270.8" width="1.8" height="2"/><rect x="392.1" y="270.7" width="1.8" height="2"/><rect x="394.5" y="270.6" width="1.8" height="2"/><rect x="397.0" y="270.4" width="1.8" height="2"/><rect x="399.4" y="270.2" width="1.8" height="2"/><rect x="401.9" y="270.0" width="1.8" height="2"/><rect x="404.3" y="269.5" width="1.8" height="2"/><rect x="406.8" y="268.8" width="1.8" height="2"/><rect x="409.2" y="267.5" width="1.8" height="2"/><rect x="411.7" y="265.1" width="1.8" height="2"/><rect x="414.1" y="260.9" width="1.8" height="2"/><rect x="416.6" y="254.2" width="1.8" height="2"/><rect x="419.0" y="244.4" width="1.8" height="2"/><rect x="421.5" y="231.2" width="1.8" height="2"/><rect x="423.9" y="215.6" width="1.8" height="2"/><rect x="426.4" y="199.5" width="1.8" height="2"/><rect x="428.8" y="186.2" width="1.8" height="2"/><rect x="431.3" y="180.2" width="1.8" height="2"/><rect x="433.7" y="183.8" width="1.8" height="2"/><rect x="436.2" y="194.9" width="1.8" height="2"/><rect x="438.6" y="209.2" width="1.8" height="2"/><rect x="441.1" y="223.3" width="1.8" height="2"/><rect x="443.5" y="235.1" width="1.8" height="2"/><rect x="446.0" y="243.8" width="1.8" height="2"/><rect x="448.4" y="249.6" width="1.8" height="2"/><rect x="450.9" y="253.0" width="1.8" height="2"/><rect x="453.3" y="255.0" width="1.8" height="2"/><rect x="455.8" y="256.1" width="1.8" height="2"/><rect x="458.2" y="256.9" width="1.8" height="2"/><rect x="460.7" y="257.7" width="1.8" height="2"/><rect x="463.1" y="258.4" width="1.8" height="2"/><rect x="465.6" y="259.2" width="1.8" height="2"/><rect x="468.0" y="260.0" width="1.8" height="2"/><rect x="470.5" y="260.7" width="1.8" height="2"/><rect x="472.9" y="261.3" width="1.8" height="2"/><rect x="475.4" y="261.8" width="1.8" height="2"/><rect x="477.8" y="262.1" width="1.8" height="2"/><rect x="480.3" y="262.4" width="1.8" height="2"/><rect x="482.7" y="262.5" width="1.8" height="2"/><rect x="485.2" y="262.6" width="1.8" height="2"/><rect x="487.6" y="262.7" width="1.8" height="2"/><rect x="490.1" y="262.8" width="1.8" height="2"/><rect x="492.5" y="262.9" width="1.8" height="2"/><rect x="495.0" y="263.0" width="1.8" height="2"/><rect x="497.4" y="263.2" width="1.8" height="2"/><rect x="499.9" y="263.3" width="1.8" height="2"/><rect x="502.3" y="263.6" width="1.8" height="2"/><rect x="504.8" y="263.8" width="1.8" height="2"/><rect x="507.2" y="264.1" width="1.8" height="2"/><rect x="509.7" y="264.3" width="1.8" height="2"/><rect x="512.1" y="264.6" width="1.8" height="2"/><rect x="514.6" y="264.8" width="1.8" height="2"/><rect x="517.0" y="265.0" width="1.8" height="2"/><rect x="519.5" y="265.3" width="1.8" height="2"/><rect x="521.9" y="265.4" width="1.8" height="2"/><rect x="524.4" y="265.6" width="1.8" height="2"/><rect x="526.8" y="265.7" width="1.8" height="2"/><rect x="529.3" y="265.8" width="1.8" height="2"/><rect x="531.7" y="265.9" width="1.8" height="2"/><rect x="534.2" y="266.0" width="1.8" height="2"/><rect x="536.6" y="266.1" width="1.8" height="2"/><rect x="539.1" y="266.1" width="1.8" height="2"/><rect x="541.5" y="266.1" width="1.8" height="2"/><rect x="544.0" y="266.1" width="1.8" height="2"/><rect x="546.5" y="266.2" width="1.8" height="2"/><rect x="548.9" y="266.2" width="1.8" height="2"/><rect x="551.4" y="266.2" width="1.8" height="2"/><rect x="553.8" y="266.2" width="1.8" height="2"/><rect x="556.3" y="266.2" width="1.8" height="2"/><rect x="558.7" y="266.2" width="1.8" height="2"/><rect x="561.2" y="266.2" width="1.8" height="2"/><rect x="563.6" y="266.2" width="1.8" height="2"/><rect x="566.1" y="266.2" width="1.8" height="2"/><rect x="568.5" y="266.2" width="1.8" height="2"/><rect x="571.0" y="266.2" width="1.8" height="2"/><rect x="573.4" y="266.2" width="1.8" height="2"/><rect x="575.9" y="266.2" width="1.8" height="2"/></g><rect x="367.5" y="172.8" width="211.70000000000005" height="103.19999999999999" fill="none" stroke="#303030" stroke-width="1.2"/><line x1="368.0" y1="276" x2="368.0" y2="278" stroke="#3a3a3a" stroke-width="1"/><text x="368.0" y="288.7" font-size="10.6" text-anchor="middle" font-weight="normal" fill="#000" textLength="15.4" lengthAdjust="spacingAndGlyphs">282</text><line x1="415.0" y1="276" x2="415.0" y2="278" stroke="#3a3a3a" stroke-width="1"/><text x="415.0" y="288.7" font-size="10.6" text-anchor="middle" font-weight="normal" fill="#000" textLength="15.4" lengthAdjust="spacingAndGlyphs">284</text><line x1="462.0" y1="276" x2="462.0" y2="278" stroke="#3a3a3a" stroke-width="1"/><text x="462.0" y="288.7" font-size="10.6" text-anchor="middle" font-weight="normal" fill="#000" textLength="15.4" lengthAdjust="spacingAndGlyphs">286</text><line x1="509.0" y1="276" x2="509.0" y2="278" stroke="#3a3a3a" stroke-width="1"/><text x="509.0" y="288.7" font-size="10.6" text-anchor="middle" font-weight="normal" fill="#000" textLength="15.4" lengthAdjust="spacingAndGlyphs">288</text><line x1="556.0" y1="276" x2="556.0" y2="278" stroke="#3a3a3a" stroke-width="1"/><text x="556.0" y="288.7" font-size="10.6" text-anchor="middle" font-weight="normal" fill="#000" textLength="15.4" lengthAdjust="spacingAndGlyphs">290</text><line x1="391.5" y1="276" x2="391.5" y2="277.5" stroke="#3a3a3a" stroke-width="1"/><line x1="438.5" y1="276" x2="438.5" y2="277.5" stroke="#3a3a3a" stroke-width="1"/><line x1="485.5" y1="276" x2="485.5" y2="277.5" stroke="#3a3a3a" stroke-width="1"/><line x1="532.5" y1="276" x2="532.5" y2="277.5" stroke="#3a3a3a" stroke-width="1"/><line x1="579.5" y1="276" x2="579.5" y2="277.5" stroke="#3a3a3a" stroke-width="1"/><text x="412.2" y="305.8" font-size="15.3" text-anchor="start" font-weight="normal" fill="#000" textLength="122.8" lengthAdjust="spacingAndGlyphs">Binding energy (eV)</text><text transform="translate(356.9,272.1) scale(0.88,1) rotate(-90)" x="0" y="0" font-size="15.1" fill="#000" textLength="95.8" lengthAdjust="spacingAndGlyphs">Intensity (a.u.)</text><text x="389" y="204.8" font-size="14.3" text-anchor="start" font-weight="normal" fill="#000" textLength="30.8" lengthAdjust="spacingAndGlyphs">sp<tspan dy="-3.8" font-size="10.5">2</tspan><tspan dy="3.8"> C</tspan></text><text x="453.3" y="235.4" font-size="13.8" text-anchor="start" font-weight="normal" fill="#000" textLength="23.5" lengthAdjust="spacingAndGlyphs">C-O</text><text x="500.6" y="251.9" font-size="13.8" text-anchor="start" font-weight="normal" fill="#000" textLength="26.1" lengthAdjust="spacingAndGlyphs">C=O</text><path d="M415,189.5 L427,183.6" stroke="#000" stroke-width="1.3" marker-end="url(#arr)"/><path d="M461.3,239 L459.5,257" stroke="#000" stroke-width="1.3" marker-end="url(#arr)"/><path d="M512.7,253.6 L517.8,265" stroke="#000" stroke-width="1.3" marker-end="url(#arr)"/><g clip-path="url(#clipD)"><rect x="38" y="329" width="270" height="253.5" fill="#0c4f8c"/><rect x="38" y="329" width="270" height="1" fill="#000" opacity="0.04"/><rect x="38" y="331" width="270" height="1" fill="#000" opacity="0.05"/><rect x="38" y="333" width="270" height="1" fill="#000" opacity="0.07"/><rect x="38" y="335" width="270" height="1" fill="#000" opacity="0.04"/><rect x="38" y="337" width="270" height="1" fill="#000" opacity="0.06"/><rect x="38" y="339" width="270" height="1" fill="#000" opacity="0.03"/><rect x="38" y="341" width="270" height="1" fill="#000" opacity="0.03"/><rect x="38" y="343" width="270" height="1" fill="#000" opacity="0.07"/><rect x="38" y="345" width="270" height="1" fill="#000" opacity="0.07"/><rect x="38" y="347" width="270" height="1" fill="#000" opacity="0.06"/><rect x="38" y="349" width="270" height="1" fill="#000" opacity="0.07"/><rect x="38" y="351" width="270" height="1" fill="#000" opacity="0.06"/><rect x="38" y="353" width="270" height="1" fill="#000" opacity="0.05"/><rect x="38" y="355" width="270" height="1" fill="#000" opacity="0.04"/><rect x="38" y="357" width="270" height="1" fill="#000" opacity="0.05"/><rect x="38" y="359" width="270" height="1" fill="#000" opacity="0.08"/><rect x="38" y="361" width="270" height="1" fill="#000" opacity="0.03"/><rect x="38" y="363" width="270" height="1" fill="#000" opacity="0.06"/><rect x="38" y="365" width="270" height="1" fill="#000" opacity="0.08"/><rect x="38" y="367" width="270" height="1" fill="#000" opacity="0.05"/><rect x="38" y="369" width="270" height="1" fill="#000" opacity="0.07"/><rect x="38" y="371" width="270" height="1" fill="#000" opacity="0.05"/><rect x="38" y="373" width="270" height="1" fill="#000" opacity="0.06"/><rect x="38" y="375" width="270" height="1" fill="#000" opacity="0.08"/><rect x="38" y="377" width="270" height="1" fill="#000" opacity="0.05"/><rect x="38" y="379" width="270" height="1" fill="#000" opacity="0.06"/><rect x="38" y="381" width="270" height="1" fill="#000" opacity="0.06"/><rect x="38" y="383" width="270" height="1" fill="#000" opacity="0.06"/><rect x="38" y="385" width="270" height="1" fill="#000" opacity="0.07"/><rect x="38" y="387" width="270" height="1" fill="#000" opacity="0.04"/><rect x="38" y="389" width="270" height="1" fill="#000" opacity="0.04"/><rect x="38" y="391" width="270" height="1" fill="#000" opacity="0.07"/><rect x="38" y="393" width="270" height="1" fill="#000" opacity="0.06"/><rect x="38" y="395" width="270" height="1" fill="#000" opacity="0.03"/><rect x="38" y="397" width="270" height="1" fill="#000" opacity="0.07"/><rect x="38" y="399" width="270" height="1" fill="#000" opacity="0.03"/><rect x="38" y="401" width="270" height="1" fill="#000" opacity="0.07"/><rect x="38" y="403" width="270" height="1" fill="#000" opacity="0.04"/><rect x="38" y="405" width="270" height="1" fill="#000" opacity="0.04"/><rect x="38" y="407" width="270" height="1" fill="#000" opacity="0.04"/><rect x="38" y="409" width="270" height="1" fill="#000" opacity="0.04"/><rect x="38" y="411" width="270" height="1" fill="#000" opacity="0.03"/><rect x="38" y="413" width="270" height="1" fill="#000" opacity="0.07"/><rect x="38" y="415" width="270" height="1" fill="#000" opacity="0.05"/><rect x="38" y="417" width="270" height="1" fill="#000" opacity="0.07"/><rect x="38" y="419" width="270" height="1" fill="#000" opacity="0.05"/><rect x="38" y="421" width="270" height="1" fill="#000" opacity="0.07"/><rect x="38" y="423" width="270" height="1" fill="#000" opacity="0.04"/><rect x="38" y="425" width="270" height="1" fill="#000" opacity="0.08"/><rect x="38" y="427" width="270" height="1" fill="#000" opacity="0.06"/><rect x="38" y="429" width="270" height="1" fill="#000" opacity="0.05"/><rect x="38" y="431" width="270" height="1" fill="#000" opacity="0.04"/><rect x="38" y="433" width="270" height="1" fill="#000" opacity="0.07"/><rect x="38" y="435" width="270" height="1" fill="#000" opacity="0.07"/><rect x="38" y="437" width="270" height="1" fill="#000" opacity="0.07"/><rect x="38" y="439" width="270" height="1" fill="#000" opacity="0.04"/><rect x="38" y="441" width="270" height="1" fill="#000" opacity="0.06"/><rect x="38" y="443" width="270" height="1" fill="#000" opacity="0.07"/><rect x="38" y="445" width="270" height="1" fill="#000" opacity="0.06"/><rect x="38" y="447" width="270" height="1" fill="#000" opacity="0.07"/><rect x="38" y="449" width="270" height="1" fill="#000" opacity="0.03"/><rect x="38" y="451" width="270" height="1" fill="#000" opacity="0.06"/><rect x="38" y="453" width="270" height="1" fill="#000" opacity="0.03"/><rect x="38" y="455" width="270" height="1" fill="#000" opacity="0.06"/><rect x="38" y="457" width="270" height="1" fill="#000" opacity="0.05"/><rect x="38" y="459" width="270" height="1" fill="#000" opacity="0.06"/><rect x="38" y="461" width="270" height="1" fill="#000" opacity="0.07"/><rect x="38" y="463" width="270" height="1" fill="#000" opacity="0.07"/><rect x="38" y="465" width="270" height="1" fill="#000" opacity="0.07"/><rect x="38" y="467" width="270" height="1" fill="#000" opacity="0.04"/><rect x="38" y="469" width="270" height="1" fill="#000" opacity="0.05"/><rect x="38" y="471" width="270" height="1" fill="#000" opacity="0.04"/><rect x="38" y="473" width="270" height="1" fill="#000" opacity="0.07"/><rect x="38" y="475" width="270" height="1" fill="#000" opacity="0.07"/><rect x="38" y="477" width="270" height="1" fill="#000" opacity="0.05"/><rect x="38" y="479" width="270" height="1" fill="#000" opacity="0.07"/><rect x="38" y="481" width="270" height="1" fill="#000" opacity="0.06"/><rect x="38" y="483" width="270" height="1" fill="#000" opacity="0.06"/><rect x="38" y="485" width="270" height="1" fill="#000" opacity="0.07"/><rect x="38" y="487" width="270" height="1" fill="#000" opacity="0.06"/><rect x="38" y="489" width="270" height="1" fill="#000" opacity="0.04"/><rect x="38" y="491" width="270" height="1" fill="#000" opacity="0.05"/><rect x="38" y="493" width="270" height="1" fill="#000" opacity="0.03"/><rect x="38" y="495" width="270" height="1" fill="#000" opacity="0.08"/><rect x="38" y="497" width="270" height="1" fill="#000" opacity="0.05"/><rect x="38" y="499" width="270" height="1" fill="#000" opacity="0.06"/><rect x="38" y="501" width="270" height="1" fill="#000" opacity="0.07"/><rect x="38" y="503" width="270" height="1" fill="#000" opacity="0.04"/><rect x="38" y="505" width="270" height="1" fill="#000" opacity="0.05"/><rect x="38" y="507" width="270" height="1" fill="#000" opacity="0.06"/><rect x="38" y="509" width="270" height="1" fill="#000" opacity="0.05"/><rect x="38" y="511" width="270" height="1" fill="#000" opacity="0.07"/><rect x="38" y="513" width="270" height="1" fill="#000" opacity="0.07"/><rect x="38" y="515" width="270" height="1" fill="#000" opacity="0.05"/><rect x="38" y="517" width="270" height="1" fill="#000" opacity="0.05"/><rect x="38" y="519" width="270" height="1" fill="#000" opacity="0.05"/><rect x="38" y="521" width="270" height="1" fill="#000" opacity="0.07"/><rect x="38" y="523" width="270" height="1" fill="#000" opacity="0.06"/><rect x="38" y="525" width="270" height="1" fill="#000" opacity="0.08"/><rect x="38" y="527" width="270" height="1" fill="#000" opacity="0.07"/><rect x="38" y="529" width="270" height="1" fill="#000" opacity="0.08"/><rect x="38" y="531" width="270" height="1" fill="#000" opacity="0.06"/><rect x="38" y="533" width="270" height="1" fill="#000" opacity="0.06"/><rect x="38" y="535" width="270" height="1" fill="#000" opacity="0.04"/><rect x="38" y="537" width="270" height="1" fill="#000" opacity="0.08"/><rect x="38" y="539" width="270" height="1" fill="#000" opacity="0.07"/><rect x="38" y="541" width="270" height="1" fill="#000" opacity="0.05"/><rect x="38" y="543" width="270" height="1" fill="#000" opacity="0.05"/><rect x="38" y="545" width="270" height="1" fill="#000" opacity="0.03"/><rect x="38" y="547" width="270" height="1" fill="#000" opacity="0.07"/><rect x="38" y="549" width="270" height="1" fill="#000" opacity="0.05"/><rect x="38" y="551" width="270" height="1" fill="#000" opacity="0.04"/><rect x="38" y="553" width="270" height="1" fill="#000" opacity="0.07"/><rect x="38" y="555" width="270" height="1" fill="#000" opacity="0.07"/><rect x="38" y="557" width="270" height="1" fill="#000" opacity="0.04"/><rect x="38" y="559" width="270" height="1" fill="#000" opacity="0.05"/><rect x="38" y="561" width="270" height="1" fill="#000" opacity="0.03"/><rect x="38" y="563" width="270" height="1" fill="#000" opacity="0.06"/><rect x="38" y="565" width="270" height="1" fill="#000" opacity="0.05"/><rect x="38" y="567" width="270" height="1" fill="#000" opacity="0.05"/><rect x="38" y="569" width="270" height="1" fill="#000" opacity="0.03"/><rect x="38" y="571" width="270" height="1" fill="#000" opacity="0.04"/><rect x="38" y="573" width="270" height="1" fill="#000" opacity="0.06"/><rect x="38" y="575" width="270" height="1" fill="#000" opacity="0.08"/><rect x="38" y="577" width="270" height="1" fill="#000" opacity="0.05"/><rect x="38" y="579" width="270" height="1" fill="#000" opacity="0.03"/><rect x="38" y="581" width="270" height="1" fill="#000" opacity="0.08"/><polygon points="165.3,375.2 158.1,378.2 153.4,386.9 141.7,384.0 128.7,380.2 127.8,376.3 127.9,367.2 129.4,358.8 135.0,358.6 148.7,358.1 159.2,361.3 158.6,366.2" fill="#2c7cd0" opacity="0.60" filter="url(#blur05)"/><polygon points="103.0,371.6 99.6,372.6 97.6,374.2 91.6,373.8 89.0,372.3 88.4,370.9 88.0,369.6 90.0,368.6 91.9,367.6 95.5,366.9 98.1,368.5 103.2,369.7" fill="#2c7cd0" opacity="0.42" filter="url(#blur05)"/><polygon points="243.7,373.1 239.3,381.2 234.1,384.0 229.7,386.9 215.0,383.8 218.7,375.6 210.7,371.4 220.7,361.9 225.7,357.9 236.1,357.0 240.5,363.7 246.4,368.3" fill="#2c7cd0" opacity="0.60" filter="url(#blur05)"/><polygon points="219.4,397.7 213.1,410.1 205.2,418.2 197.2,424.7 189.0,417.8 182.1,406.4 180.9,393.6 187.6,386.4 193.7,375.4 203.0,377.7 210.2,378.7 216.0,385.2" fill="#2c7cd0" opacity="0.72" filter="url(#blur05)"/><polygon points="211.2,336.1 209.8,337.5 208.8,339.0 208.2,338.4 207.3,338.0 206.2,337.4 206.2,334.4 207.3,332.8 207.8,330.8 209.3,330.6 210.0,332.3 210.6,334.8" fill="#2c7cd0" opacity="0.48" filter="url(#blur05)"/><polygon points="260.1,339.2 259.6,340.0 258.8,340.7 256.6,340.1 255.8,340.4 255.0,339.4 253.7,338.4 254.2,337.1 256.9,336.6 258.7,336.4 259.1,336.6 259.9,337.6" fill="#2c7cd0" opacity="0.48" filter="url(#blur05)"/><polygon points="196.8,371.3 196.4,372.0 195.7,373.6 194.5,374.4 193.8,372.2 193.3,370.8 193.3,369.2 194.1,367.5 194.5,367.2 195.5,366.9 196.0,366.7 196.3,369.1" fill="#2c7cd0" opacity="0.48" filter="url(#blur05)"/><polygon points="94.3,332.0 94.2,333.8 93.7,334.0 92.1,334.2 91.3,332.9 90.7,332.8 89.7,331.4 90.8,330.9 91.6,330.7 93.2,330.0 93.6,331.0 95.1,331.6" fill="#2c7cd0" opacity="0.36" filter="url(#blur05)"/><polygon points="135.3,339.2 133.8,339.8 132.5,340.4 131.1,340.8 129.9,340.1 129.7,339.0 129.0,338.0 129.2,337.1 131.0,336.9 132.4,336.7 134.0,336.9 135.0,337.7" fill="#2c7cd0" opacity="0.36" filter="url(#blur05)"/><polygon points="106.5,394.3 102.4,394.5 100.7,397.5 97.9,396.7 95.1,396.5 93.0,393.1 91.9,391.5 92.4,390.0 97.9,389.2 99.6,388.3 102.9,390.0 105.1,390.8" fill="#2c7cd0" opacity="0.42" filter="url(#blur05)"/><polygon points="166.0,396.0 166.0,399.0 158.8,399.9 154.8,399.3 150.8,398.2 148.5,396.4 148.7,393.9 151.3,391.9 151.9,390.3 158.7,389.9 162.4,390.9 166.2,393.0" fill="#2c7cd0" opacity="0.60" filter="url(#blur05)"/><polygon points="254.5,400.5 251.7,404.9 249.1,402.8 245.2,406.6 242.3,405.3 240.1,401.7 241.2,397.7 241.5,393.0 244.8,390.5 248.8,390.6 249.8,392.9 252.3,397.2" fill="#2c7cd0" opacity="0.54" filter="url(#blur05)"/><polygon points="304.7,410.6 305.0,417.2 301.4,417.2 297.6,420.0 292.4,421.0 291.5,410.2 292.2,405.2 293.9,395.3 295.4,393.4 301.5,393.6 304.7,396.9 307.3,399.3" fill="#2c7cd0" opacity="0.60" filter="url(#blur05)"/><polygon points="80.0,418.9 77.8,420.7 74.7,423.7 70.4,422.8 64.5,421.8 61.1,419.7 60.4,417.2 61.7,414.9 66.7,413.8 73.9,413.2 75.5,414.8 80.6,417.1" fill="#2c7cd0" opacity="0.66" filter="url(#blur05)"/><polygon points="51.3,429.5 51.2,434.4 50.0,435.7 46.4,434.5 44.4,433.6 42.9,432.8 42.7,429.0 42.9,425.5 46.2,423.3 49.1,422.2 51.2,425.4 51.9,426.9" fill="#2c7cd0" opacity="0.54" filter="url(#blur05)"/><polygon points="130.1,427.2 128.3,429.4 125.3,430.4 123.3,430.5 121.1,430.0 120.3,427.9 119.4,425.7 120.9,425.5 122.9,424.4 126.5,423.5 128.7,424.5 128.9,426.6" fill="#2c7cd0" opacity="0.54" filter="url(#blur05)"/><polygon points="157.3,428.5 155.1,432.4 150.9,435.2 148.0,435.4 142.5,435.4 142.1,430.1 139.2,424.4 144.0,422.5 149.0,421.1 151.9,420.6 155.7,423.4 160.5,423.8" fill="#2c7cd0" opacity="0.66" filter="url(#blur05)"/><polygon points="246.1,433.7 242.6,439.2 242.1,441.9 233.4,439.3 228.5,438.9 225.1,434.2 227.9,431.2 229.7,425.7 231.9,424.7 239.2,424.9 242.8,426.1 246.1,428.0" fill="#2c7cd0" opacity="0.66" filter="url(#blur05)"/><polygon points="271.4,425.3 269.2,427.7 265.1,428.0 262.6,428.6 259.6,426.4 256.5,426.8 256.4,422.7 257.2,421.9 261.7,419.9 263.5,421.2 267.8,420.8 268.1,423.3" fill="#2c7cd0" opacity="0.54" filter="url(#blur05)"/><polygon points="158.2,492.7 155.3,497.2 143.0,498.9 136.5,501.4 131.1,497.5 129.0,495.0 124.2,491.9 131.4,486.3 138.7,483.0 141.7,485.1 148.5,484.6 152.8,489.9" fill="#2c7cd0" opacity="0.72" filter="url(#blur05)"/><polygon points="196.8,459.5 197.0,462.7 194.9,463.2 193.6,465.5 192.4,463.5 191.9,461.4 192.4,457.6 192.3,453.8 193.6,452.1 195.2,451.0 196.4,454.5 196.5,457.5" fill="#2c7cd0" opacity="0.60" filter="url(#blur05)"/><polygon points="305.7,497.2 306.2,505.5 300.1,502.8 296.5,504.9 289.9,505.5 285.8,496.2 288.9,488.2 290.8,482.2 294.8,475.0 298.2,478.8 303.0,479.2 308.4,487.2" fill="#2c7cd0" opacity="0.60" filter="url(#blur05)"/><polygon points="261.0,502.1 259.9,504.3 257.9,504.9 256.2,505.2 252.9,504.2 252.5,502.2 252.6,499.7 253.6,498.0 255.7,496.4 256.7,494.1 258.4,497.4 259.7,498.6" fill="#2c7cd0" opacity="0.54" filter="url(#blur05)"/><polygon points="65.5,510.4 63.8,511.8 59.6,514.0 57.7,514.9 53.8,512.0 50.4,510.7 51.2,507.7 51.0,505.3 53.8,503.3 59.6,503.0 65.7,505.2 65.9,508.2" fill="#2c7cd0" opacity="0.54" filter="url(#blur05)"/><polygon points="62.1,530.7 62.2,531.5 59.2,532.3 56.7,534.2 55.7,531.9 53.8,530.5 54.1,527.5 54.1,526.1 56.6,525.5 59.6,524.5 60.8,525.6 62.3,528.0" fill="#2c7cd0" opacity="0.48" filter="url(#blur05)"/><polygon points="87.2,528.9 85.7,532.3 84.9,533.8 83.8,535.5 81.7,531.2 81.1,530.2 79.9,526.7 80.7,522.9 83.2,523.4 84.0,522.8 86.0,524.0 86.3,526.4" fill="#2c7cd0" opacity="0.54" filter="url(#blur05)"/><polygon points="70.6,552.2 69.0,553.1 67.4,555.1 66.3,557.4 64.5,555.6 64.1,552.6 63.1,550.0 64.6,547.8 65.5,546.2 66.9,545.5 69.6,546.8 69.6,548.7" fill="#2c7cd0" opacity="0.48" filter="url(#blur05)"/><polygon points="106.9,544.9 106.6,546.9 105.0,547.4 103.8,548.9 102.9,547.1 102.0,545.7 101.7,543.3 102.8,542.6 103.6,541.0 104.8,541.9 106.2,542.5 108.2,544.1" fill="#2c7cd0" opacity="0.48" filter="url(#blur05)"/><polygon points="100.5,557.4 99.9,559.4 94.1,560.2 87.2,562.0 83.9,560.3 81.5,557.6 80.2,555.3 80.3,553.6 87.8,551.6 93.7,551.3 99.0,551.9 98.9,555.5" fill="#2c7cd0" opacity="0.36" filter="url(#blur05)"/><polygon points="169.8,537.2 170.9,543.3 168.0,547.4 165.6,547.6 163.6,544.3 161.6,540.4 161.2,536.1 162.2,529.8 164.0,525.0 166.9,524.2 168.8,527.5 172.0,533.1" fill="#2c7cd0" opacity="0.48" filter="url(#blur05)"/><polygon points="205.9,542.8 206.0,546.3 203.8,547.9 201.6,545.9 200.2,545.1 199.1,542.2 199.0,539.3 200.0,537.9 200.6,534.5 202.6,533.8 205.9,536.7 206.2,540.6" fill="#2c7cd0" opacity="0.54" filter="url(#blur05)"/><polygon points="239.5,551.5 237.4,556.9 233.8,557.6 230.3,557.2 228.3,555.1 227.0,552.5 226.0,549.2 227.0,547.9 230.9,546.3 234.1,545.1 237.6,545.0 239.0,549.6" fill="#2c7cd0" opacity="0.54" filter="url(#blur05)"/><polygon points="281.3,530.6 280.8,532.4 276.9,535.0 275.2,533.6 270.1,533.2 269.0,532.3 268.0,530.2 269.9,526.6 272.3,526.6 276.4,527.4 280.8,526.8 284.3,529.8" fill="#2c7cd0" opacity="0.54" filter="url(#blur05)"/><polygon points="266.2,547.6 266.7,549.2 265.0,549.4 263.6,549.9 262.0,549.5 261.4,548.0 261.3,546.3 262.6,545.2 263.1,543.8 265.4,544.3 265.6,545.3 266.5,546.2" fill="#2c7cd0" opacity="0.42" filter="url(#blur05)"/><polygon points="307.8,563.4 306.3,565.6 300.0,570.0 295.2,569.3 291.6,569.5 289.0,561.4 290.6,555.4 288.4,551.0 294.0,548.0 299.0,546.8 303.7,551.9 307.5,554.2" fill="#2c7cd0" opacity="0.54" filter="url(#blur05)"/><polygon points="305.0,505.9 302.2,508.5 299.6,511.3 293.1,510.2 290.9,509.0 289.0,506.3 287.0,505.0 290.4,501.8 292.3,500.5 299.8,501.6 303.1,500.5 306.1,504.1" fill="#2c7cd0" opacity="0.48" filter="url(#blur05)"/><polygon points="257.4,507.5 258.2,510.5 256.4,513.9 255.0,512.8 253.3,511.8 251.4,509.0 252.2,505.6 253.4,502.9 254.5,501.6 255.8,499.8 256.8,502.9 257.4,504.8" fill="#2c7cd0" opacity="0.48" filter="url(#blur05)"/><polygon points="195.0,392.0 212.0,388.0 220.0,398.0 216.0,413.0 200.0,410.0" fill="#3396ec" opacity="0.8" filter="url(#blur05)"/><polygon points="57.9,456.3 64.7,458.6 68.1,464.2 74.9,466.5 83.9,465.4 93.0,467.6 100.9,465.4 106.6,459.7 111.1,460.8 110.0,467.6 105.4,472.1 104.3,478.9 99.8,485.7 93.0,490.2 87.3,489.1 81.7,482.3 74.9,482.3 69.2,477.8 67.0,469.9 59.0,462.0" fill="#2c7cd0" opacity="0.75" filter="url(#blur05)"/><polygon points="93.0,468.0 104.0,466.0 106.6,472.0 100.0,477.0 84.0,481.0 82.0,479.0" fill="#3aa0f4" opacity="0.75" filter="url(#blur05)"/><polygon points="127.0,360.0 138.0,357.0 142.0,362.0 138.0,365.0 129.0,365.0" fill="#3aa0f0" opacity="0.6" filter="url(#blur05)"/><polygon points="237.0,362.0 243.0,361.0 244.0,367.0 238.0,368.0" fill="#3aa0f0" opacity="0.6" filter="url(#blur05)"/><polygon points="287.0,557.0 296.0,558.0 298.0,563.0 289.0,562.0" fill="#40a8ff" opacity="0.85" filter="url(#blur05)"/></g><rect x="38" y="388.2" width="270" height="1.9" fill="#d4eafc" filter="url(#blur05)"/><path d="M38.00,384.40 L53.00,382.60 L69.00,381.00 L70.70,373.10 L72.30,381.00 L96.00,383.30 L100.60,374.20 L105.00,383.30 L121.00,385.50 L145.90,383.30 L148.00,378.80 L157.00,378.80 L159.40,385.50 L179.00,385.50 L181.00,377.60 L210.70,378.80 L213.00,384.40 L224.30,383.30 L226.60,379.90 L244.70,379.90 L248.00,383.30 L280.90,385.50 L285.40,376.50 L292.00,380.00 L296.70,377.60 L308.00,379.50" fill="none" stroke="#c42c50" stroke-width="1.5" stroke-linejoin="round" filter="url(#blur05)"/><path d="M134.5,371 L145.5,371 L140,381 Z M146,364.5 L157,364.5 L151.5,374 Z" fill="none" stroke="#d8304c" stroke-width="1.5"/><text x="121.6" y="357.5" font-size="17.5" text-anchor="start" font-weight="normal" fill="#e0304a" textLength="52.4" lengthAdjust="spacingAndGlyphs">0.6 nm</text><rect x="61" y="563" width="56.2" height="8.8" fill="#fff"/><rect x="371.1" y="341.9" width="28.5" height="80.4" fill="#f20000"/><rect x="406.7" y="417.8" width="28.5" height="4.5" fill="#f20000"/><rect x="442.3" y="421.4" width="28.5" height="0.9" fill="#f20000"/><rect x="477.9" y="421.4" width="28.5" height="0.9" fill="#f20000"/><rect x="513.5" y="419.6" width="28.5" height="2.7" fill="#f20000"/><rect x="549.1" y="420.5" width="28.5" height="1.8" fill="#f20000"/><rect x="367.5" y="333" width="213.70000000000005" height="89.30000000000001" fill="none" stroke="#000" stroke-width="1.6"/><line x1="364.5" y1="422.3" x2="367.5" y2="422.3" stroke="#000" stroke-width="1.3"/><line x1="365.5" y1="413.4" x2="367.5" y2="413.4" stroke="#000" stroke-width="1.3"/><line x1="364.5" y1="404.4" x2="367.5" y2="404.4" stroke="#000" stroke-width="1.3"/><line x1="365.5" y1="395.5" x2="367.5" y2="395.5" stroke="#000" stroke-width="1.3"/><line x1="364.5" y1="386.6" x2="367.5" y2="386.6" stroke="#000" stroke-width="1.3"/><line x1="365.5" y1="377.6" x2="367.5" y2="377.6" stroke="#000" stroke-width="1.3"/><line x1="364.5" y1="368.7" x2="367.5" y2="368.7" stroke="#000" stroke-width="1.3"/><line x1="365.5" y1="359.8" x2="367.5" y2="359.8" stroke="#000" stroke-width="1.3"/><line x1="364.5" y1="350.9" x2="367.5" y2="350.9" stroke="#000" stroke-width="1.3"/><line x1="365.5" y1="341.9" x2="367.5" y2="341.9" stroke="#000" stroke-width="1.3"/><line x1="364.5" y1="333.0" x2="367.5" y2="333.0" stroke="#000" stroke-width="1.3"/><text x="357.8" y="425.0" font-size="9.6" text-anchor="end" font-weight="normal" fill="#000" textLength="5.2" lengthAdjust="spacingAndGlyphs">0</text><text x="357.8" y="407.1" font-size="9.6" text-anchor="end" font-weight="normal" fill="#000" textLength="10.4" lengthAdjust="spacingAndGlyphs">20</text><text x="357.8" y="389.3" font-size="9.6" text-anchor="end" font-weight="normal" fill="#000" textLength="10.4" lengthAdjust="spacingAndGlyphs">40</text><text x="357.8" y="371.4" font-size="9.6" text-anchor="end" font-weight="normal" fill="#000" textLength="10.4" lengthAdjust="spacingAndGlyphs">60</text><text x="357.8" y="353.6" font-size="9.6" text-anchor="end" font-weight="normal" fill="#000" textLength="10.4" lengthAdjust="spacingAndGlyphs">80</text><text x="357.8" y="335.7" font-size="9.6" text-anchor="end" font-weight="normal" fill="#000" textLength="15.600000000000001" lengthAdjust="spacingAndGlyphs">100</text><line x1="367.5" y1="422.3" x2="367.5" y2="425.3" stroke="#000" stroke-width="1.3"/><line x1="403.1" y1="422.3" x2="403.1" y2="425.3" stroke="#000" stroke-width="1.3"/><line x1="438.7" y1="422.3" x2="438.7" y2="425.3" stroke="#000" stroke-width="1.3"/><line x1="474.4" y1="422.3" x2="474.4" y2="425.3" stroke="#000" stroke-width="1.3"/><line x1="510.0" y1="422.3" x2="510.0" y2="425.3" stroke="#000" stroke-width="1.3"/><line x1="545.6" y1="422.3" x2="545.6" y2="425.3" stroke="#000" stroke-width="1.3"/><line x1="581.2" y1="422.3" x2="581.2" y2="425.3" stroke="#000" stroke-width="1.3"/><text x="364.7" y="435.7" font-size="9.4" text-anchor="middle" font-weight="normal" fill="#111">0</text><text x="400.2" y="435.7" font-size="9.4" text-anchor="middle" font-weight="normal" fill="#111">1</text><text x="435.7" y="435.7" font-size="9.4" text-anchor="middle" font-weight="normal" fill="#111">2</text><text x="471.2" y="435.7" font-size="9.4" text-anchor="middle" font-weight="normal" fill="#111">3</text><text x="506.7" y="435.7" font-size="9.4" text-anchor="middle" font-weight="normal" fill="#111">4</text><text x="542.2" y="435.7" font-size="9.4" text-anchor="middle" font-weight="normal" fill="#111">5</text><text x="581.7" y="435.7" font-size="9.2" text-anchor="end" font-weight="normal" fill="#000" textLength="11" lengthAdjust="spacingAndGlyphs">&gt;5</text><text x="417.3" y="450.2" font-size="14.5" text-anchor="start" font-weight="normal" fill="#000" textLength="100.8" lengthAdjust="spacingAndGlyphs">Thickness (nm)</text><text transform="translate(339.4,421) scale(0.93,1) rotate(-90)" x="0" y="0" font-size="15.0" fill="#000" textLength="76.5" lengthAdjust="spacingAndGlyphs">Fraction (%)</text><rect x="368.7" y="557.3" width="15.9" height="14.5" fill="#0000ea"/><rect x="388.2" y="507.5" width="15.9" height="64.3" fill="#0000ea"/><rect x="407.6" y="497.8" width="15.9" height="74.0" fill="#0000ea"/><rect x="427.0" y="507.5" width="15.9" height="64.3" fill="#0000ea"/><rect x="446.4" y="540.3" width="15.9" height="31.5" fill="#0000ea"/><rect x="465.8" y="542.5" width="15.9" height="29.3" fill="#0000ea"/><rect x="485.2" y="552.5" width="15.9" height="19.3" fill="#0000ea"/><rect x="504.6" y="559.6" width="15.9" height="12.2" fill="#0000ea"/><rect x="524.0" y="567.0" width="15.9" height="4.8" fill="#0000ea"/><rect x="543.4" y="567.0" width="15.9" height="4.8" fill="#0000ea"/><rect x="562.8" y="569.2" width="15.9" height="2.6" fill="#0000ea"/><rect x="367" y="475.3" width="213.5" height="96.49999999999994" fill="none" stroke="#000" stroke-width="1.1"/><line x1="364" y1="571.8" x2="367" y2="571.8" stroke="#000" stroke-width="1"/><line x1="365" y1="555.7" x2="367" y2="555.7" stroke="#000" stroke-width="1"/><line x1="364" y1="539.6" x2="367" y2="539.6" stroke="#000" stroke-width="1"/><line x1="365" y1="523.5" x2="367" y2="523.5" stroke="#000" stroke-width="1"/><line x1="364" y1="507.5" x2="367" y2="507.5" stroke="#000" stroke-width="1"/><line x1="365" y1="491.4" x2="367" y2="491.4" stroke="#000" stroke-width="1"/><line x1="364" y1="475.3" x2="367" y2="475.3" stroke="#000" stroke-width="1"/><text x="358.6" y="574.7" font-size="10" text-anchor="end" font-weight="normal" fill="#000" textLength="5.3" lengthAdjust="spacingAndGlyphs">0</text><text x="358.6" y="542.5" font-size="10" text-anchor="end" font-weight="normal" fill="#000" textLength="10.6" lengthAdjust="spacingAndGlyphs">10</text><text x="358.6" y="510.4" font-size="10" text-anchor="end" font-weight="normal" fill="#000" textLength="10.6" lengthAdjust="spacingAndGlyphs">20</text><text x="358.6" y="478.2" font-size="10" text-anchor="end" font-weight="normal" fill="#000" textLength="10.6" lengthAdjust="spacingAndGlyphs">30</text><line x1="367.0" y1="571.8" x2="367.0" y2="573.8" stroke="#000" stroke-width="1"/><line x1="386.4" y1="571.8" x2="386.4" y2="573.8" stroke="#000" stroke-width="1"/><line x1="405.8" y1="571.8" x2="405.8" y2="573.8" stroke="#000" stroke-width="1"/><line x1="425.2" y1="571.8" x2="425.2" y2="573.8" stroke="#000" stroke-width="1"/><line x1="444.6" y1="571.8" x2="444.6" y2="573.8" stroke="#000" stroke-width="1"/><line x1="464.0" y1="571.8" x2="464.0" y2="573.8" stroke="#000" stroke-width="1"/><line x1="483.5" y1="571.8" x2="483.5" y2="573.8" stroke="#000" stroke-width="1"/><line x1="502.9" y1="571.8" x2="502.9" y2="573.8" stroke="#000" stroke-width="1"/><line x1="522.3" y1="571.8" x2="522.3" y2="573.8" stroke="#000" stroke-width="1"/><line x1="541.7" y1="571.8" x2="541.7" y2="573.8" stroke="#000" stroke-width="1"/><line x1="561.1" y1="571.8" x2="561.1" y2="573.8" stroke="#000" stroke-width="1"/><line x1="580.5" y1="571.8" x2="580.5" y2="573.8" stroke="#000" stroke-width="1"/><text x="365.9" y="583.3" font-size="10" text-anchor="middle" font-weight="normal" fill="#111">0</text><text x="403.5" y="583.3" font-size="10" text-anchor="middle" font-weight="normal" fill="#111">1</text><text x="441.1" y="583.3" font-size="10" text-anchor="middle" font-weight="normal" fill="#111">2</text><text x="478.7" y="583.3" font-size="10" text-anchor="middle" font-weight="normal" fill="#111">3</text><text x="516.3" y="583.3" font-size="10" text-anchor="middle" font-weight="normal" fill="#111">4</text><text x="553.9" y="583.3" font-size="10" text-anchor="middle" font-weight="normal" fill="#111">5</text><text x="581" y="583.3" font-size="10" text-anchor="end" font-weight="normal" fill="#000" textLength="11.5" lengthAdjust="spacingAndGlyphs">&gt;5</text><text x="432" y="599" font-size="15" text-anchor="start" font-weight="normal" fill="#000" textLength="63.3" lengthAdjust="spacingAndGlyphs">Size (µm)</text><text transform="translate(340.5,565.1) scale(0.95,1) rotate(-90)" x="0" y="0" font-size="15.5" fill="#000" textLength="82.4" lengthAdjust="spacingAndGlyphs">Fraction (%)</text><text x="16.6" y="24.0" font-size="22.9" text-anchor="start" font-weight="bold" fill="#000" textLength="10.8" lengthAdjust="spacingAndGlyphs" stroke="#000" stroke-width="0.6">a</text><text x="322.2" y="21.7" font-size="21.5" text-anchor="start" font-weight="bold" fill="#000" textLength="11.8" lengthAdjust="spacingAndGlyphs" stroke="#000" stroke-width="0.6">b</text><text x="324.5" y="166.0" font-size="22" text-anchor="start" font-weight="bold" fill="#000" textLength="10.4" lengthAdjust="spacingAndGlyphs" stroke="#000" stroke-width="0.6">c</text><text x="24.0" y="315.8" font-size="22" text-anchor="start" font-weight="bold" fill="#000" textLength="11.4" lengthAdjust="spacingAndGlyphs" stroke="#000" stroke-width="0.6">d</text><text x="325.2" y="318.6" font-size="22" text-anchor="start" font-weight="bold" fill="#000" textLength="11.0" lengthAdjust="spacingAndGlyphs" stroke="#000" stroke-width="0.6">e</text><text x="327.7" y="471.0" font-size="22" text-anchor="start" font-weight="bold" fill="#000" textLength="7.8" lengthAdjust="spacingAndGlyphs" stroke="#000" stroke-width="0.6">f</text></svg></body></html>
